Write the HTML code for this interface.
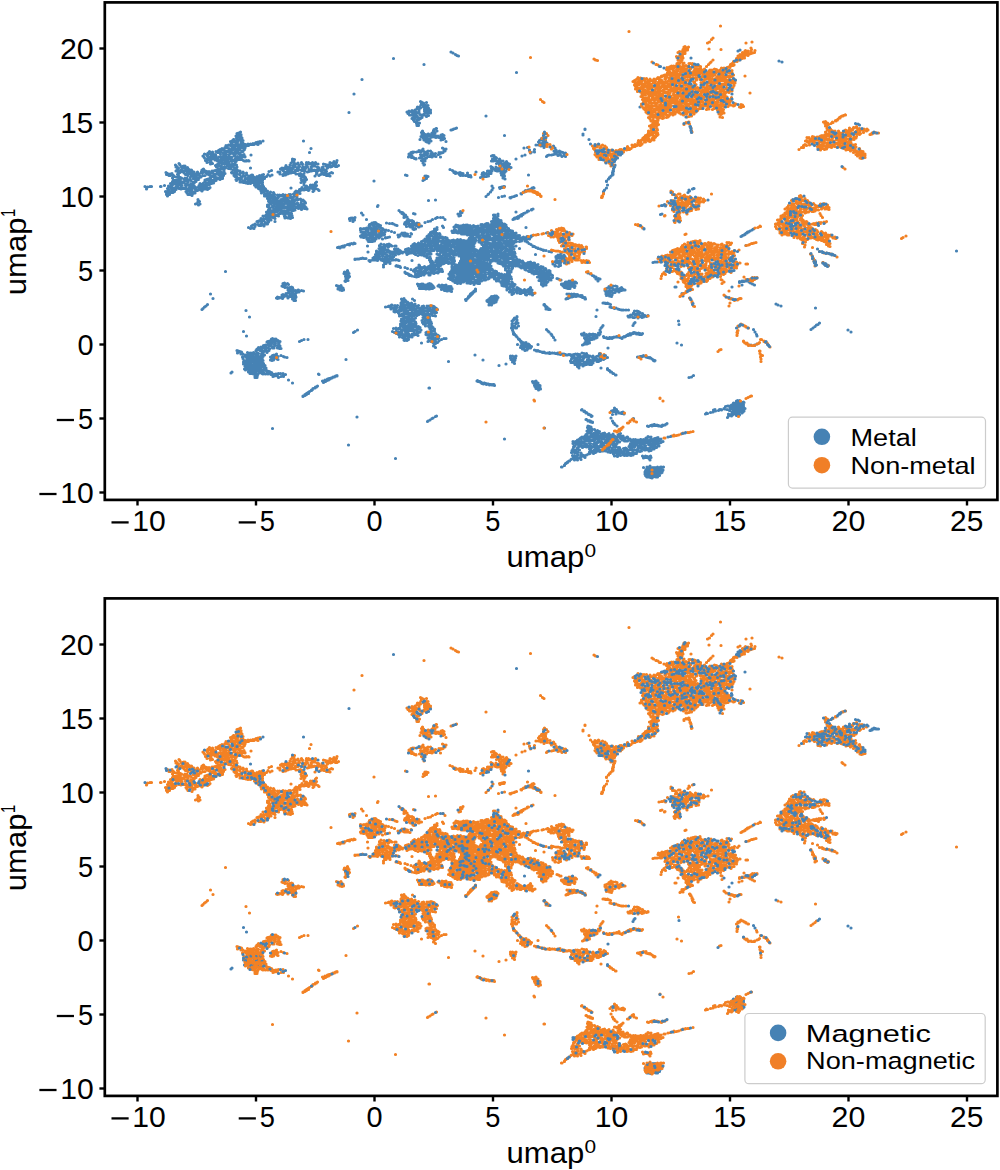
<!DOCTYPE html>
<html><head><meta charset="utf-8"><style>
html,body{margin:0;padding:0;background:#fff;}
svg{display:block;}
text{font-family:"Liberation Sans",sans-serif;fill:#000;}
</style></head><body>
<svg width="1000" height="1170" viewBox="0 0 1000 1170">
<rect width="1000" height="1170" fill="#fff"/>
<svg x="104.8" y="2.4" width="892.6" height="497.5" viewBox="104.8 2.4 892.6 497.5" overflow="hidden"><path d="M451 52h0m2 1h0m285-2h0m2-1h0m-346.5 8.5h0m62-4h0m1.5 1h0m1.5 .5h0m232.5 2h0m-267 6.5h0m355-3.5h0m3 1h0m-265.5 10.5h0m-154.5 7h0m-8 14.5h0m66.5 7.5h0m-3 5.5h0m2 0h0m1.5-2h0m.5-3h0m0 1.5h0m1.5 2.5h0m.5-3h0m0 4h0m1-2h0m.5 1.5h0m1.5-4h0m0 3h0m.5 2h0m1-2h0m212 1.5h0m-291 5.5h0m58-.5h0m1 1.5h0m.5-.5h0m.5-2h0m2.5 1h0m.5-1.5h0m0 2h0m2 0h0m.5-1.5h0m.5-1h0m0 3.5h0m1-2h0m1-3h0m1 4.5h0m1-3h0m0 2h0m0 1h0m1.5-5h0m4 1.5h0m0 1.5h0m.5 1.5h0m1-4h0m0 4h0m1-1.5h0m1-1h0m.5-2h0m0 4.5h0m.5-2h0m1.5-.5h0m0 2h0m0 1h0m-21 2h0m2 0h0m.5 3.5h0m.5-.5h0m1-3h0m1 1.5h0m0 2.5h0m1-4.5h0m1.5 1.5h0m0 1h0m.5 2.5h0m1-2h0m.5 2h0m1-5h0m.5 4h0m.5-1h0m1-2.5h0m0 2.5h0m.5-2h0m1.5-1.5h0m.5 1h0m2 1.5h0m1-1.5h0m1 .5h0m57.5 .5h0m-72.5 4h0m1 1.5h0m2 2h0m.5-2.5h0m0 2h0m0 2.5h0m1-5.5h0m.5 5.5h0m1-2.5h0m436 .5h0m2.5 .5h0m1.5 1h0m-437 6h0m11-.5h0m.5-1h0m0 1h0m2-2h0m.5 0h0m.5 2.5h0m14-1h0m.5 0h0m1.5-.5h0m.5-.5h0m2-.5h0m1-.5h0m128.5 1h0m0 0h0m0 .5h0m-349 6.5h0m.5 1.5h0m.5-4h0m.5 .5h0m.5 1h0m0 2h0m.5-4h0m0 2.5h0m2-3.5h0m.5 2.5h0m0 1.5h0m180 .5h0m.5-4h0m.5 1.5h0m0 3h0m1-2h0m.5-2h0m1 4.5h0m.5-1.5h0m.5-1.5h0m1.5 2.5h0m1-3h0m0 2h0m.5-2h0m2 1.5h0m.5-1h0m1-1.5h0m0 4h0m1-2.5h0m.5-2.5h0m1 5h0m.5-4h0m.5 2.5h0m.5 2h0m1-.5h0m1-1h0m1 1.5h0m1 0h0m.5-.5h0m.5-2h0m1.5-.5h0m.5 2h0m1-1h0m60.5 0h0m78.5-1.5h0m0 1h0m-352.5 6.5h0m2-1h0m0 1.5h0m1-2.5h0m.5 0h0m1 2h0m1-.5h0m0 2h0m1-4.5h0m.5 3.5h0m.5-2h0m1 0h0m1.5-2h0m.5 4h0m.5-1.5h0m.5-2.5h0m.5 4h0m.5-1.5h0m10 3h0m2.5-.5h0m.5-.5h0m1.5 0h0m0 0h0m.5-.5h0m2-.5h0m.5 1.5h0m2.5-2h0m40.5 0h0m116.5-1.5h0m3.5-1h0m.5 1.5h0m1.5 0h0m.5 1.5h0m.5-3.5h0m.5 3h0m0 1h0m2-3h0m0 2h0m0 2h0m1-4.5h0m1 2.5h0m10-1h0m.5-1.5h0m1.5 1h0m1.5-1h0m1.5 3h0m92.5 .5h0m1-1.5h0m0 2.5h0m1-3h0m1-1.5h0m1 1.5h0m0 3h0m1.5-.5h0m1.5-2h0m0 2h0m1.5 .5h0m42-3.5h0m0 0h0m-369 10h0m2-1h0m2 .5h0m1-1.5h0m1-2h0m1 2h0m1-2h0m.5-.5h0m.5 3.5h0m1.5-3h0m.5-1.5h0m1 4h0m.5-3.5h0m0 1.5h0m0 3.5h0m.5-1.5h0m.5 1.5h0m1-4.5h0m0 1h0m.5 2h0m1.5-3.5h0m0 1h0m1 3h0m1-4h0m0 2.5h0m1 1h0m0 1.5h0m.5-3h0m.5 1.5h0m.5-4h0m1 .5h0m0 1.5h0m1 2h0m.5-1.5h0m.5-2.5h0m.5 5.5h0m.5-1.5h0m.5-3.5h0m.5 1.5h0m2-2h0m.5 1.5h0m1.5-1h0m.5-.5h0m1.5 .5h0m2 0h0m3-.5h0m1 .5h0m53 4h0m112 .5h0m19.5-1h0m1.5 1h0m2 0h0m78-1h0m3.5-.5h0m0 0h0m7 2h0m1.5-4.5h0m2.5 0h0m2.5 0h0m0 1h0m2-2h0m.5 1.5h0m.5 2h0m.5-2.5h0m2 1h0m7 0h0m1.5 2h0m35.5-4h0m-386 10h0m2 .5h0m1 1h0m.5-2.5h0m1.5-1.5h0m.5 2h0m1 1.5h0m1.5-3h0m0 0h0m.5 1.5h0m2.5 1h0m.5-3h0m2 1h0m.5-2h0m1.5 2h0m.5 1.5h0m.5-2.5h0m1.5-1.5h0m1 3h0m0 1h0m.5-3.5h0m1 4h0m1-3.5h0m0 1.5h0m0 2h0m1-2.5h0m.5-1h0m1.5 .5h0m0 3h0m1.5-4h0m0 3h0m1-1.5h0m1 .5h0m.5 1h0m1 2h0m1-3.5h0m0 2.5h0m1-2h0m0 1h0m.5-3.5h0m.5 .5h0m1 1.5h0m.5 1.5h0m1.5 0h0m.5-1h0m.5 2.5h0m1-4h0m.5 4h0m.5-3.5h0m1 3h0m7 .5h0m58.5-2.5h0m99.5 1.5h0m2-1.5h0m0 1.5h0m1.5-2h0m0 1h0m1.5-1h0m2.5 0h0m2-.5h0m.5-1h0m1 1h0m.5 3h0m.5-2.5h0m.5-1.5h0m1.5 0h0m.5 4h0m.5-3h0m.5 4h0m.5-1.5h0m.5 1h0m.5-.5h0m.5-2.5h0m1 0h0m.5-1h0m0 2.5h0m2.5-2.5h0m.5 3.5h0m.5-1h0m0 2h0m.5-3h0m1.5 1.5h0m2-.5h0m3 1h0m.5-2h0m1 1h0m1-1h0m.5 .5h0m1.5-.5h0m1-2h0m1 .5h0m47.5 4.5h0m1.5 0h0m31-.5h0m4.5-4.5h0m0-.5h0m1 3h0m.5-.5h0m3-1h0m.5 .5h0m13 3.5h0m1.5-.5h0m2.5 0h0m2-.5h0m.5-3.5h0m1 2h0m0 1h0m1-4h0m.5 2.5h0m0 1.5h0m1.5 1.5h0m.5-4h0m1-.5h0m0 3h0m1-1.5h0m0 2.5h0m1-3h0m1.5 .5h0m1 2.5h0m0-1.5h0m0 2h0m1.5-2.5h0m-362.5 3h0m1 1h0m0 0h0m.5 1h0m1 2.5h0m2-4.5h0m0 2.5h0m.5 1.5h0m1-1.5h0m0 1h0m1.5-3h0m0 4h0m.5-1.5h0m0 2.5h0m1-2.5h0m.5-3h0m1 2.5h0m1-2.5h0m.5 1.5h0m0 2.5h0m1-4h0m.5 3.5h0m.5-1.5h0m.5 3h0m.5-2h0m1-2h0m0 4h0m1-.5h0m1-4h0m.5 2h0m0 3h0m1-5h0m.5 2h0m0 1h0m1.5-3h0m0 3.5h0m.5-1.5h0m.5-2h0m1 .5h0m.5 0h0m0 2.5h0m0 2h0m1.5-2.5h0m0 2.5h0m.5-5.5h0m0 2h0m1 .5h0m1-1.5h0m0 4h0m.5-.5h0m.5-3h0m0 2.5h0m0 1.5h0m2-1.5h0m1 1.5h0m.5-5h0m0 2h0m.5-.5h0m0 3.5h0m1-1.5h0m.5-3.5h0m0 1h0m0 2h0m2 0h0m.5-3.5h0m.5 2h0m1 1.5h0m.5-2h0m1-1h0m.5 4h0m1 .5h0m.5-4.5h0m0 .5h0m1.5 3.5h0m0 .5h0m2-.5h0m.5 .5h0m43.5-2h0m0 1h0m2-.5h0m39.5 2h0m3-1h0m71.5-3.5h0m.5-1h0m2 0h0m.5 1.5h0m.5-1.5h0m1.5 1.5h0m1 1h0m1.5 0h0m0 .5h0m3.5-1h0m1-.5h0m.5-1h0m.5 4h0m.5-4.5h0m0 2h0m1.5 3.5h0m.5-1.5h0m.5-1.5h0m.5 1h0m0 1.5h0m1.5-3h0m1.5-1.5h0m1.5 0h0m2.5 .5h0m2-1h0m2 .5h0m4.5 .5h0m51-1h0m0 5h0m1-2h0m1 2h0m1-3.5h0m0 1.5h0m.5-.5h0m.5 2h0m.5-3h0m.5 .5h0m.5 3h0m1 0h0m1.5-2h0m1 1.5h0m2.5 .5h0m3.5 .5h0m9.5-2.5h0m6-3h0m24.5 .5h0m15.5 0h0m3.5 0h0m-390 8.5h0m.5 2h0m1-.5h0m2-3h0m.5 .5h0m.5 1h0m1.5 1.5h0m0 .5h0m1.5 .5h0m.5-1.5h0m1 1.5h0m.5-1.5h0m2.5 1.5h0m19.5-5h0m3 0h0m.5 1.5h0m2-.5h0m3 2h0m1-.5h0m0 2h0m1.5-3h0m0 2h0m1-2.5h0m1.5 2.5h0m1 0h0m.5-2.5h0m1.5-1h0m0 1h0m1 3h0m.5-4h0m.5 1h0m1.5-.5h0m0 3h0m1-1h0m1-1.5h0m.5 4h0m.5-2h0m1.5-1h0m0 2.5h0m1-3h0m0 2h0m1.5-1h0m.5 2.5h0m.5-4h0m1.5 1.5h0m0 2.5h0m.5-.5h0m48 .5h0m1-2h0m.5 1.5h0m2 .5h0m1.5-2.5h0m.5 2.5h0m.5-4.5h0m1.5-1h0m.5 3.5h0m.5 2h0m.5-5.5h0m0 2.5h0m1 2h0m1-2.5h0m1.5 3.5h0m.5-4.5h0m.5 1.5h0m1 2h0m2-4h0m0 1.5h0m1 0h0m0 3.5h0m.5-1h0m2 1h0m1-3h0m.5-2h0m0 2.5h0m1 2h0m1-4.5h0m.5 1.5h0m1.5-.5h0m.5 3.5h0m1-1.5h0m0 1h0m.5-4h0m.5 1.5h0m1.5 2h0m1-3.5h0m0 1.5h0m1.5 3h0m1-3h0m.5 3.5h0m3.5 0h0m1-.5h0m.5-3h0m2 .5h0m.5 1.5h0m1.5-1h0m1 1.5h0m1-2h0m.5-2h0m.5 4.5h0m1.5-1.5h0m0 1h0m.5-3.5h0m.5 2.5h0m1-2.5h0m1.5 1.5h0m0 2h0m1-4h0m.5 4h0m1.5-1h0m84.5-2.5h0m1 2h0m.5-.5h0m66.5 2h0m1.5 1h0m3.5-.5h0m.5-3.5h0m1.5-.5h0m1.5 2h0m.5 2.5h0m.5-5h0m.5 0h0m0 4h0m1.5-2h0m1.5 0h0m0 2.5h0m.5-3.5h0m.5-.5h0m1 3h0m.5-1.5h0m.5 3h0m.5-4.5h0m1 2.5h0m1-1.5h0m0 3h0m1.5 .5h0m103-1h0m.5 .5h0m.5-1.5h0m0-.5h0m-449 7.5h0m.5 1h0m1 0h0m4.5 0h0m4-2.5h0m.5-.5h0m1-2.5h0m.5 1.5h0m0 4h0m.5-5.5h0m0 4h0m0 1h0m1.5-.5h0m.5-2h0m1-1h0m1 2h0m1.5-1h0m0 1h0m0 1.5h0m2-3.5h0m1 2h0m1-.5h0m.5-2h0m1 4.5h0m.5-3h0m.5-.5h0m0 3h0m1-3h0m1 1.5h0m0 1.5h0m1.5-1h0m3 1.5h0m.5-1.5h0m3.5 1h0m.5-1.5h0m.5-1.5h0m.5 3h0m1-4h0m0 2.5h0m1-1h0m1 .5h0m0 1.5h0m1.5-1h0m2 0h0m1.5 2h0m1.5-2.5h0m.5 1.5h0m1-1.5h0m1.5-.5h0m2-.5h0m0 2h0m1.5-3.5h0m0 3.5h0m.5 1h0m.5-2.5h0m1-2h0m.5 .5h0m0 3h0m2-3.5h0m.5 1h0m.5-1.5h0m0 2h0m0 1.5h0m1 2h0m.5-5.5h0m3 .5h0m2.5 .5h0m.5 3.5h0m.5 .5h0m.5-.5h0m.5-2.5h0m1 3.5h0m.5-3.5h0m1 1.5h0m.5 2h0m.5-4.5h0m0 3h0m.5 1.5h0m1-3h0m.5 .5h0m1.5 0h0m.5 2h0m2 0h0m.5-1h0m.5 1h0m3 0h0m4-5h0m18.5 3.5h0m2.5-1h0m6.5 1.5h0m2 0h0m.5-3h0m1.5-1h0m0 1.5h0m1.5 1.5h0m.5-2.5h0m.5 3.5h0m2-3h0m.5 3h0m.5-2h0m1 3.5h0m1-2h0m.5-1.5h0m1 3h0m.5-2.5h0m1-1.5h0m1 3h0m0 .5h0m2-2.5h0m0 1.5h0m2-3h0m.5 2h0m.5-1.5h0m2 4.5h0m.5-3.5h0m.5 .5h0m1.5-1.5h0m.5 1.5h0m.5 3h0m1-2.5h0m.5-2.5h0m2 3.5h0m1.5-2.5h0m0 2h0m1.5-1.5h0m1 1h0m.5-1.5h0m2 1h0m.5-.5h0m2 2h0m.5-2h0m0 3h0m1.5-2.5h0m1-1h0m2 2h0m.5-2h0m0 1.5h0m1.5 2.5h0m.5-4h0m.5 3h0m1.5-2.5h0m.5 1.5h0m1-3.5h0m2 5.5h0m2-1h0m1 .5h0m117.5-3.5h0m2.5 1h0m1 1h0m.5 1h0m1.5-.5h0m0 1.5h0m2.5-.5h0m2-.5h0m1 .5h0m2 .5h0m4.5-.5h0m8.5-1h0m6.5 1h0m1-.5h0m2.5 1h0m1.5-2.5h0m1.5 0h0m0 2h0m1 .5h0m.5-2.5h0m.5 1h0m0 1.5h0m.5-5h0m.5 2.5h0m2-2h0m1.5 1.5h0m.5-1.5h0m1 2h0m1-2.5h0m0 2.5h0m1-2h0m1.5 2h0m.5-1.5h0m0 3.5h0m1.5-2h0m1-1.5h0m0 3.5h0m1-1.5h0m.5 .5h0m1-4h0m0 3h0m1.5-2.5h0m1 0h0m104 4h0m.5-1.5h0m0 2h0m.5-4.5h0m0 1h0m0 1.5h0m-447 3.5h0m2.5 1h0m1-1.5h0m.5 1.5h0m2 2.5h0m1-2.5h0m0 1h0m1 0h0m2.5 .5h0m.5-2.5h0m1 .5h0m0 4.5h0m.5-2.5h0m1.5 .5h0m0 1.5h0m1-1h0m2.5 1h0m1-1h0m.5-3.5h0m.5-.5h0m.5 .5h0m0 4.5h0m.5-1h0m0 1.5h0m1-5.5h0m0 1.5h0m2.5 2h0m.5-1h0m.5-1h0m1 .5h0m1 2.5h0m.5-4h0m.5 2.5h0m.5-3h0m.5 5.5h0m.5-2h0m.5-2h0m1-.5h0m0 3h0m0 1.5h0m1 0h0m.5-5.5h0m0 4h0m1-2h0m1 1h0m2-1.5h0m2 0h0m1.5 4h0m1-5.5h0m.5 5h0m.5-4.5h0m.5-.5h0m1 1.5h0m0 2.5h0m.5 0h0m.5 1.5h0m1-3h0m.5 0h0m.5-1h0m1-1.5h0m.5 3.5h0m.5-1.5h0m.5 2.5h0m1-4.5h0m0 3.5h0m.5 1.5h0m1.5-4.5h0m0 3.5h0m1 1h0m.5-2.5h0m0 1h0m0 2h0m1-5.5h0m.5 1.5h0m1-1.5h0m0 3.5h0m0 1h0m1-3h0m10.5 0h0m1 1h0m1-1.5h0m0 4.5h0m.5-3.5h0m.5 1.5h0m1 .5h0m0 1h0m1.5-4.5h0m1 3.5h0m.5-1.5h0m.5 2h0m.5-1h0m1.5-2h0m1.5 1h0m0 3h0m.5-4h0m0 2.5h0m1 .5h0m.5-3.5h0m1.5 2.5h0m0 2h0m1-3.5h0m0 1h0m.5 2.5h0m.5-2h0m.5 1h0m.5-3.5h0m.5 .5h0m0 3.5h0m.5-1h0m0-3h0m0 2h0m.5 1.5h0m.5 .5h0m.5-2h0m.5 .5h0m.5 .5h0m0 1h0m2-2.5h0m.5 1.5h0m1 1h0m.5-2h0m.5-1.5h0m0 2h0m2-.5h0m.5-2h0m0 2h0m0 2h0m1.5-4.5h0m.5 2.5h0m.5 1.5h0m2-2h0m1.5-2h0m2 1.5h0m2-1h0m8-1h0m3 .5h0m0 1h0m1-.5h0m1.5-1h0m0 1h0m2-1h0m8.5 0h0m2.5 0h0m1 1.5h0m1.5 .5h0m0 2.5h0m2-4h0m0 2.5h0m1.5-.5h0m0 3h0m1-2h0m.5 1.5h0m.5 .5h0m8.5-3.5h0m1.5-2h0m2.5 1.5h0m1.5-1h0m1-.5h0m2.5 .5h0m2.5 1h0m.5-1.5h0m.5 1.5h0m2.5 .5h0m75.5-1h0m1.5 .5h0m17.5 4h0m.5-3.5h0m.5 2.5h0m1-2.5h0m0 2.5h0m1.5-2h0m31.5-2h0m1 1h0m2.5 0h0m2.5 0h0m1 0h0m2 1h0m.5-1h0m1.5 0h0m.5 1.5h0m9.5 .5h0m1.5-3h0m.5 2h0m1-2h0m1 2h0m2 0h0m.5-1h0m1.5-1.5h0m0 2h0m13-1h0m1 .5h0m.5 2.5h0m1-4h0m0 0h0m.5 2h0m.5 3h0m23.5-4h0m80 4h0m0 0h0m1-1.5h0m.5 0h0m1-1.5h0m0 0h0m1.5-1.5h0m0-.5h0m0 1h0m.5-.5h0m-448.5 11h0m6-2h0m1 2h0m1-4h0m.5 2h0m0 1h0m.5-4.5h0m.5 3.5h0m1.5-1.5h0m.5-2h0m0 4.5h0m.5-.5h0m.5 1.5h0m.5-3.5h0m.5 2h0m1.5-4h0m0 1h0m0 2h0m0 1.5h0m.5 0h0m.5-3.5h0m1.5 2h0m0 2.5h0m1.5-4h0m1-.5h0m.5 2.5h0m.5 1.5h0m.5-4.5h0m.5 3h0m1 1.5h0m.5-3h0m0 .5h0m1-2.5h0m0 5.5h0m1.5-5.5h0m.5 .5h0m0 3h0m1 .5h0m1 .5h0m.5-2.5h0m.5 3.5h0m.5-3h0m1-1.5h0m.5 .5h0m3 4h0m1-2h0m.5 2h0m1.5-1h0m.5-.5h0m1-1h0m1 2.5h0m.5-5.5h0m0 1h0m.5 1h0m.5 3h0m.5-1h0m1-1h0m1 1.5h0m.5-3.5h0m0 1.5h0m.5 2h0m1.5-2.5h0m.5 1.5h0m.5-2.5h0m1.5-1h0m0 3h0m1-2h0m1.5-.5h0m20.5 0h0m3.5-.5h0m0 2h0m2 0h0m1-1h0m.5 1.5h0m2-1h0m.5 1.5h0m1.5-1.5h0m.5 2h0m.5-1.5h0m2-1h0m0 2.5h0m1-2h0m.5 1h0m.5-2h0m1 1.5h0m.5 1h0m.5-1.5h0m0 1h0m0 2.5h0m.5-1.5h0m0 2h0m0-1h0m.5-3.5h0m0 2.5h0m1-3.5h0m0 3h0m.5-3h0m0 0h0m.5 1.5h0m0 3h0m1-2.5h0m.5 1h0m0-1h0m0 0h0m.5-2h0m0 5.5h0m.5-3h0m0 3h0m.5-5.5h0m0 2.5h0m.5-.5h0m0-2h0m1.5 .5h0m0 2h0m0 2h0m38.5-2h0m.5-2.5h0m2 .5h0m.5 4.5h0m0-2h0m1-1.5h0m5.5 3.5h0m2 0h0m1.5 0h0m1.5-2h0m1-1h0m0 3.5h0m57.5-4.5h0m49-.5h0m183.5 1h0m0-.5h0m1 4h0m0 0h0m-462.5 1.5h0m1.5 2.5h0m1-2h0m2.5-.5h0m1.5 0h0m9 0h0m.5 0h0m4.5 5h0m1 0h0m1-3h0m1-2.5h0m0 3.5h0m1-2.5h0m1 4.5h0m1-4h0m0 1.5h0m1-1.5h0m0 1h0m0 2.5h0m2-1.5h0m0 2h0m1-4h0m.5-.5h0m0 2.5h0m2.5-2h0m.5 1h0m2-1.5h0m0 2h0m1.5-1h0m.5 .5h0m1-.5h0m1 .5h0m1-1h0m0 4h0m.5-3h0m1.5 1h0m.5 1.5h0m1-3.5h0m.5 1.5h0m.5-2h0m0 4h0m1-5h0m0 3.5h0m1 2h0m.5-4h0m1.5-1h0m0 2h0m1 2.5h0m.5-3.5h0m0 1h0m1.5 2h0m1-3.5h0m.5 2.5h0m1.5-3h0m0 2.5h0m0 1h0m1.5 1h0m1-4h0m0 2.5h0m1.5-2.5h0m.5 2h0m1-1.5h0m.5 1h0m1-1h0m0 2h0m1.5-1h0m1-1h0m46-.5h0m1-1h0m0 1h0m.5-.5h0m1 2h0m1-2h0m0 2.5h0m1-1.5h0m.5-1h0m0 4.5h0m1.5-2.5h0m.5 2h0m.5-4h0m1.5 2h0m0 3h0m.5-2.5h0m2 2h0m23.5-3h0m5 3h0m1.5 .5h0m2-2h0m.5 1.5h0m1-2h0m.5 1h0m.5-2.5h0m1.5 1.5h0m.5 1h0m1.5-2.5h0m.5-1h0m0 3h0m.5-3.5h0m1 2h0m1 2.5h0m.5-1.5h0m0 1h0m.5-3h0m1.5-.5h0m.5 1.5h0m1 .5h0m.5-1h0m0 4h0m1-1h0m1-4h0m0 2h0m1 0h0m2 1h0m1 1h0m173-4.5h0m0 4h0m1-2h0m6.5-.5h0m.5 1h0m1.5-1.5h0m1 .5h0m1-1h0m1 0h0m21 4h0m1 .5h0m1.5-1h0m0 0h0m.5 0h0m0 .5h0m1.5-1h0m.5 0h0m1.5-1h0m0 .5h0m0-1h0m0 1h0m1.5-1.5h0m.5 .5h0m69.5 3.5h0m1-1.5h0m0 0h0m2-2h0m0 0h0m82.5 2h0m.5 1h0m3-2h0m1-.5h0m.5 0h0m-527.5 4.5h0m0 1.5h0m1 1.5h0m1.5-4h0m0 1.5h0m.5 1h0m1.5-2h0m2 0h0m14 .5h0m1 1.5h0m1.5 0h0m.5-1h0m2 2h0m.5-3h0m.5 1h0m.5-1.5h0m1.5 1h0m66.5 0h0m2-1h0m1 .5h0m0 2h0m0 1.5h0m1-1.5h0m1.5 0h0m0 2h0m.5-3h0m1 3h0m.5-3h0m0 1h0m1.5-2.5h0m.5 2.5h0m0 1.5h0m2-1h0m0 2h0m.5-4.5h0m.5 1h0m.5 1h0m0 2h0m1 1h0m2-2.5h0m1 2h0m1-2h0m.5 1h0m1.5-.5h0m0 .5h0m1.5-1.5h0m1 2h0m1.5-1.5h0m1 1h0m1-.5h0m0 1.5h0m1.5-2.5h0m1.5 0h0m0 2.5h0m1 0h0m2-3h0m.5 .5h0m0 2h0m1-4.5h0m1 .5h0m.5 4h0m.5-2h0m0 2.5h0m1.5-5h0m1.5 1.5h0m186 3h0m2-2h0m.5-.5h0m2-2h0m0 0h0m8 5.5h0m3.5-1h0m2.5-.5h0m5.5 1.5h0m2-.5h0m0 0h0m2-.5h0m1-.5h0m1.5-.5h0m4.5-2h0m.5 .5h0m2-2h0m.5 0h0m.5 0h0m0 0h0m79 0h0m84.5 .5h0m-491 11h0m1-4h0m0 2h0m1.5 0h0m68-3h0m1 2.5h0m.5-2.5h0m0 3.5h0m1-2.5h0m.5-1h0m.5 3h0m0 2h0m1-2.5h0m1 0h0m0 1.5h0m.5-3.5h0m.5 0h0m1 1.5h0m0 2.5h0m0 .5h0m.5-4.5h0m1.5 1h0m.5 2h0m.5-4h0m.5 5h0m1-2h0m1-.5h0m0 2h0m.5-3h0m1 3h0m.5-1.5h0m.5-2h0m2-1h0m0 2.5h0m0 1.5h0m1-4h0m.5 3.5h0m0 .5h0m1-3h0m1 1.5h0m0 2h0m2-4.5h0m0 4h0m1-1h0m.5-3h0m.5 1.5h0m0 4h0m.5 0h0m.5-1h0m.5-3h0m.5 1.5h0m2-2h0m0 4.5h0m.5-4.5h0m0 1h0m.5 3h0m1-3.5h0m2-.5h0m.5 4.5h0m0-.5h0m.5-2h0m1.5-1h0m1 1h0m1 1h0m.5 1h0m123-2.5h0m7-.5h0m75-2h0m-315 6h0m3 1h0m1.5-1h0m67.5 1h0m0 1.5h0m1.5-.5h0m0 2h0m1-4h0m0 4h0m2.5-2h0m.5 1.5h0m1-2.5h0m0 1h0m.5 3h0m1.5-2.5h0m0 2h0m1-2h0m.5-2.5h0m.5 3.5h0m0 2h0m.5-3.5h0m.5-2h0m1 4h0m.5-1.5h0m1-1.5h0m1.5 0h0m0 2h0m0 .5h0m1.5-3.5h0m.5 3h0m0 .5h0m1.5 .5h0m.5-1.5h0m.5-2.5h0m1 3.5h0m.5-3.5h0m.5 2.5h0m1-1h0m0 2.5h0m1-4h0m1.5 2.5h0m0 2h0m1 0h0m.5-3h0m.5-1.5h0m1 3.5h0m1-1h0m.5-2.5h0m.5 3h0m.5 1.5h0m1-3.5h0m.5 2h0m0 1h0m1.5-3.5h0m0 5h0m.5-1.5h0m.5-1h0m.5-3h0m1 1h0m.5 3.5h0m.5-2h0m1 1h0m1 1.5h0m70.5-2.5h0m.5-1h0m153.5 4h0m1.5-.5h0m-267.5 6.5h0m1-3.5h0m0 2.5h0m1 1h0m1-5.5h0m0 3.5h0m.5-1h0m1-2h0m0 2h0m1-2h0m0 3h0m1.5-1h0m0 1.5h0m1-4h0m1 2.5h0m0 2.5h0m1-4.5h0m0 1.5h0m1 3h0m0 .5h0m1-4h0m1 2.5h0m1.5-4h0m.5 2.5h0m0 1h0m1-3.5h0m0 2h0m1.5 1.5h0m.5 .5h0m.5-3.5h0m0 2h0m1.5 1.5h0m.5-3h0m0 .5h0m2-1.5h0m0 2h0m.5 2h0m.5-4h0m0 3h0m0 2.5h0m1-1.5h0m1-1.5h0m.5-2.5h0m0 3.5h0m.5 2h0m1.5-5h0m1.5-.5h0m66.5 3h0m1.5 2h0m36-4.5h0m1.5 1.5h0m1.5 1.5h0m.5-1h0m1 1h0m.5 2h0m1.5-.5h0m8-1.5h0m1.5 .5h0m43 0h0m1 .5h0m1.5-3h0m0 0h0m0 1.5h0m0 2.5h0m.5-2.5h0m1-.5h0m31.5 2.5h0m1.5 0h0m3-1h0m18-2h0m4 3.5h0m1.5-1h0m.5 0h0m1 0h0m0-.5h0m.5-.5h0m1.5-.5h0m2-1h0m.5-1h0m1 0h0m0 0h0m3-1h0m129 4.5h0m1.5-.5h0m-405 7.5h0m1.5-.5h0m1.5-.5h0m1-2h0m0 3h0m1.5-1h0m.5-4.5h0m0 4h0m.5 1h0m.5-2.5h0m2 .5h0m.5-1.5h0m1 2.5h0m.5-2h0m1.5-2h0m.5 2h0m.5 2h0m.5-3.5h0m0 3.5h0m1-3.5h0m0 .5h0m1 .5h0m1.5-1h0m.5 2h0m0 3h0m3.5-5.5h0m6 .5h0m.5 1.5h0m.5-1.5h0m1 1h0m1.5 .5h0m2-1.5h0m.5 2h0m2-1h0m57 1.5h0m0-.5h0m.5 2h0m1-2.5h0m1.5 0h0m.5 1.5h0m0 2h0m1-2.5h0m.5 1h0m.5-2.5h0m11.5 2h0m37.5-2h0m1-.5h0m2 0h0m0 3.5h0m1-1.5h0m1.5 1.5h0m.5 0h0m2 0h0m1.5 1h0m14.5 0h0m2.5-.5h0m2-1.5h0m3-1h0m1.5-1h0m.5 0h0m3 0h0m2.5 0h0m0 0h0m2 2h0m14-3.5h0m32.5 5.5h0m1.5 0h0m.5-3h0m0 2h0m.5-3.5h0m0 2.5h0m0 2h0m2-.5h0m.5-3.5h0m.5 1.5h0m0 2h0m1-5h0m0 3h0m.5 2.5h0m1.5-1h0m0 1h0m1-1h0m12-1h0m0 0h0m.5-.5h0m1-1h0m0 1h0m0 0h0m2-1.5h0m.5 .5h0m.5 .5h0m.5-2h0m.5 1h0m0 .5h0m0-.5h0m.5-.5h0m2-1h0m.5 0h0m-273 11.5h0m3-1.5h0m1.5-1h0m2-1h0m0 2.5h0m.5-2h0m2.5-2.5h0m0 2.5h0m.5 .5h0m.5 .5h0m1.5-1h0m.5 1h0m.5-2.5h0m2 1.5h0m.5 1.5h0m1.5-3.5h0m1 1.5h0m1-1.5h0m0 1.5h0m1-2h0m100.5 4h0m.5-1.5h0m0 3h0m.5-1h0m1-2.5h0m1-1h0m1 2.5h0m1-3h0m0 1.5h0m0 3.5h0m1-1h0m.5-4h0m1 1h0m.5 1.5h0m.5 .5h0m1-1h0m.5 2.5h0m1.5-1.5h0m0 2h0m6-4.5h0m3 .5h0m2.5 0h0m.5 0h0m1 .5h0m2 1h0m1.5 .5h0m7.5-1.5h0m.5-1.5h0m.5 2h0m1-2.5h0m0 4.5h0m1.5-3h0m1-1.5h0m0 4h0m.5-2h0m1 1h0m0 2h0m.5-2.5h0m0 .5h0m1.5-3h0m0 5h0m.5 .5h0m.5-5h0m0 2.5h0m2.5-1.5h0m0 2h0m1-2.5h0m.5 1.5h0m1 2.5h0m.5-3.5h0m0 1h0m0 2.5h0m2.5-1h0m3.5-3.5h0m12 5h0m5.5-1.5h0m1 1.5h0m10.5-.5h0m1-.5h0m0 .5h0m1-2h0m1.5 2h0m.5-1.5h0m1.5 1.5h0m.5-1h0m.5 0h0m.5 1h0m1.5-.5h0m0 1h0m0-2h0m0 1.5h0m1-2h0m.5 1.5h0m1 0h0m.5 1h0m0-2h0m.5-.5h0m.5 1h0m1-.5h0m0-.5h0m0 2.5h0m1-1h0m.5 .5h0m1-1.5h0m0 1.5h0m.5-1h0m.5 1.5h0m2.5-2h0m.5 .5h0m.5 1h0m1.5-.5h0m.5 1h0m1.5-1.5h0m3-1.5h0m0 .5h0m.5 1.5h0m0 1h0m1-3h0m1 3h0m1-2h0m1-1.5h0m0 3h0m.5-1h0m.5-2.5h0m1 2.5h0m.5-2.5h0m1 2h0m0 1.5h0m1.5 .5h0m.5-3h0m1-1h0m0 2.5h0m1-.5h0m1-2h0m.5 2h0m1-1.5h0m.5 3h0m.5-4h0m.5 3h0m.5-1.5h0m1 3h0m.5-3.5h0m.5 2h0m1.5-2h0m0 2h0m.5-3.5h0m1.5 1.5h0m0 1.5h0m1 .5h0m.5-2h0m1.5 1h0m.5 2h0m19.5 .5h0m-275.5 1h0m1.5-.5h0m2 .5h0m106.5 0h0m0 1.5h0m.5 2h0m1-3h0m1 3h0m1-3.5h0m.5 .5h0m0 4h0m1-1h0m0 1.5h0m1-5.5h0m0 2.5h0m1-2h0m.5 1.5h0m0 1h0m.5 1.5h0m2.5-3h0m.5 2.5h0m.5-3.5h0m.5 2h0m1 2h0m1-2.5h0m0 2h0m.5 1.5h0m.5-5.5h0m.5 1h0m0 4.5h0m.5-2h0m.5-3h0m1 1.5h0m1.5 0h0m0 2h0m.5 1.5h0m1.5-1h0m.5-2h0m0 1.5h0m.5-3.5h0m0 5h0m1-4h0m1.5 2.5h0m1-2h0m2.5 .5h0m3 1h0m3 1h0m7.5 .5h0m2 0h0m1 0h0m.5 .5h0m5.5 0h0m2-4.5h0m1 .5h0m1.5-1h0m0 .5h0m15 3.5h0m1-.5h0m1 1h0m.5-1.5h0m.5 1h0m1-3.5h0m1 2.5h0m.5-2h0m.5 4h0m.5-4h0m.5 4h0m2 0h0m12.5-2.5h0m.5 1.5h0m1.5 0h0m.5-3h0m0 1h0m1-.5h0m1 1.5h0m0 1h0m.5-1h0m1 1.5h0m1-3.5h0m0 1.5h0m0-1.5h0m.5 0h0m0-1.5h0m0 4h0m1 1h0m0-2.5h0m.5 0h0m.5-2h0m0 3.5h0m0 1.5h0m.5-4h0m0 2.5h0m.5-2.5h0m0 3.5h0m0 .5h0m.5-3.5h0m1-.5h0m0 3h0m0-3.5h0m.5 2h0m1-.5h0m0-2h0m.5 .5h0m0 3.5h0m0-2.5h0m0 2h0m.5-2.5h0m1 2h0m0 .5h0m0-2h0m.5-2h0m0 5.5h0m.5-4h0m0 1.5h0m.5-1h0m0 3.5h0m.5-4.5h0m0 2.5h0m.5 .5h0m.5-3h0m0 3.5h0m.5-1h0m.5-1.5h0m.5 2.5h0m.5-4.5h0m1 2.5h0m.5 .5h0m0 2h0m1.5-3.5h0m.5 2h0m0 1h0m.5-2h0m0 1h0m1.5-3h0m.5 1h0m0 3.5h0m.5-2.5h0m1-2.5h0m1 3h0m.5-1.5h0m0 3h0m1.5-2h0m0 2.5h0m.5-3h0m.5 3h0m.5-3h0m0 1.5h0m2.5-3h0m0 .5h0m0 2.5h0m0 1.5h0m.5-1h0m0 1.5h0m1.5-4h0m.5 2h0m1-2.5h0m0 3.5h0m1.5-4h0m0 3h0m1-2.5h0m0 3.5h0m1-4.5h0m.5 1.5h0m0 1.5h0m0 2.5h0m1.5-3h0m0 1h0m0 1h0m1-1h0m1 1.5h0m.5-4h0m1 1h0m0 .5h0m0 3h0m1-5h0m.5 2.5h0m1-2.5h0m0 1.5h0m0 3.5h0m1-2.5h0m.5-3h0m0 2.5h0m1-2h0m.5 1h0m.5 2h0m0 2h0m1.5-.5h0m.5-3h0m0 2h0m.5-3h0m0 2h0m.5-2.5h0m2 2h0m0 2.5h0m.5-2h0m1 2h0m.5-2h0m1 2h0m2.5 0h0m30.5 0h0m1-.5h0m199 .5h0m.5 0h0m.5-1h0m.5 0h0m.5 0h0m1.5-1h0m2-1h0m1.5-1h0m-393 7h0m.5 1h0m1-2h0m1-1h0m.5 1.5h0m0 2h0m.5 0h0m1-2h0m1.5 2h0m.5 1.5h0m.5-4h0m.5-.5h0m.5 4h0m.5 .5h0m.5-5h0m.5 2.5h0m0 1.5h0m1.5-3.5h0m0 1.5h0m.5 1h0m0 2.5h0m1-4h0m1 2.5h0m2-3h0m0 2h0m0 2h0m1.5-2.5h0m1-2h0m0 1.5h0m.5 2h0m1-1h0m1-1h0m1.5 3h0m1-4h0m1-.5h0m1 3h0m0 .5h0m2-.5h0m2-.5h0m8.5-2h0m.5 2h0m1.5-1h0m.5-1.5h0m1-.5h0m2 1.5h0m1-.5h0m0 1h0m2 0h0m1-2h0m.5 2h0m2 .5h0m1.5-2.5h0m13.5 5h0m1 0h0m1-2.5h0m.5-.5h0m0 3.5h0m.5-.5h0m1-4.5h0m.5 2.5h0m.5 2h0m.5-4.5h0m1 1h0m0 .5h0m1.5 3h0m.5-2h0m.5 2h0m.5-4.5h0m.5 2.5h0m.5-1.5h0m0 3h0m1.5-3.5h0m0 3.5h0m.5-2h0m1.5 2h0m.5-1.5h0m.5-2.5h0m.5 2h0m.5 1.5h0m1.5-1h0m0 1.5h0m2.5-1h0m.5 0h0m1.5 .5h0m.5 1.5h0m10 0h0m3 0h0m1-5.5h0m2 0h0m2 0h0m2 1h0m1.5 4h0m.5-4.5h0m0 3.5h0m.5 1.5h0m.5-5h0m0 2.5h0m0 2h0m1 0h0m.5-2h0m.5-1.5h0m.5 4h0m.5-5h0m0 3h0m.5 1.5h0m1-4.5h0m.5 4.5h0m.5-1.5h0m1-3.5h0m0 1.5h0m1.5 2h0m.5 .5h0m.5-2.5h0m.5 1.5h0m0 2.5h0m1.5 0h0m.5-5h0m0 3h0m1-2.5h0m1 .5h0m0 1h0m0 2h0m2-3h0m0 2h0m0 2h0m2-2.5h0m0 2h0m1-3.5h0m.5 2h0m0 1.5h0m.5-4.5h0m0 2.5h0m.5 1.5h0m2-4h0m0 4h0m.5-.5h0m.5-3h0m1 2h0m.5 2.5h0m1-4h0m.5 2h0m.5 1h0m.5-1h0m1-2h0m0 3.5h0m1.5-3h0m.5 1.5h0m0 1.5h0m.5-2h0m.5-2.5h0m1-.5h0m0 5h0m.5-4h0m.5 3.5h0m.5-1h0m1.5-1.5h0m0 1h0m1-2.5h0m0 4h0m.5-.5h0m1-.5h0m.5-3.5h0m0 2.5h0m.5-2h0m1 5h0m1-2.5h0m.5-1.5h0m0 3.5h0m1-3h0m.5 1h0m.5-2.5h0m0 3.5h0m1.5-1h0m.5 1.5h0m.5-3h0m.5 3h0m.5-1.5h0m1-1.5h0m0 1h0m.5 2h0m1-3h0m1 2.5h0m1 1h0m.5-1h0m.5-.5h0m0 1.5h0m1-2h0m0 2h0m.5-.5h0m2-1h0m.5 2h0m.5-3h0m.5 0h0m1.5 2h0m.5-.5h0m0 1h0m1.5-2h0m0-1h0m1.5-.5h0m5.5-1h0m203 2h0m1-.5h0m.5-.5h0m1.5-.5h0m1-1h0m0 .5h0m-400 11h0m0 0h0m2.5-1h0m2-.5h0m0 1h0m2-1.5h0m1.5 .5h0m1-1h0m1 .5h0m13-3h0m.5 1h0m2 0h0m2 0h0m1.5-1h0m.5 .5h0m5 4.5h0m1.5-1.5h0m3 .5h0m1 1h0m2-1h0m2-.5h0m1.5 1h0m22.5-.5h0m0 1h0m1 0h0m.5-2h0m2 1h0m1.5 .5h0m.5-2h0m.5 1.5h0m1 0h0m1.5-3h0m0 1.5h0m1.5 2h0m.5-4.5h0m0 4h0m1-3h0m0 4h0m.5-3.5h0m0 2h0m.5-3h0m2 3.5h0m.5-2h0m.5-1.5h0m.5 3.5h0m.5-2.5h0m1-1h0m0 4.5h0m.5-1.5h0m1-2.5h0m.5-.5h0m1 1h0m0 3.5h0m.5-2h0m.5-2h0m0 2.5h0m1-3h0m1 3h0m.5-4h0m0 2h0m1-2h0m0 2.5h0m0 2h0m.5 1h0m1-4.5h0m1 4.5h0m.5-4h0m.5 1h0m0 2h0m.5-3.5h0m0 2h0m1.5-.5h0m.5-2h0m.5 4.5h0m.5-1.5h0m.5-3h0m.5 5h0m.5-3.5h0m.5 2.5h0m1-1.5h0m0 .5h0m1-3h0m0 5h0m.5-2h0m1-2h0m1-1h0m0 5h0m.5-4h0m0 3h0m1-2h0m.5-2.5h0m.5 3.5h0m1 0h0m.5-2h0m.5-1h0m.5 3.5h0m1.5-2h0m.5 .5h0m0 3h0m.5-5h0m0 2h0m.5 1h0m0 1.5h0m.5-4h0m0 3h0m.5-3.5h0m0 2h0m0 2h0m0-2h0m.5 3h0m.5-4.5h0m0 3h0m.5 1.5h0m.5-1h0m.5-4h0m0 2.5h0m.5-1.5h0m.5-1h0m0 0h0m0 1.5h0m.5-1h0m.5 3.5h0m.5-2h0m0 .5h0m.5-2h0m0 1h0m0 2h0m.5 1h0m0-2.5h0m1 2h0m.5 1h0m0-5h0m0 2h0m0 2.5h0m.5-2h0m.5-.5h0m0 1.5h0m.5-3h0m.5 2.5h0m0-2.5h0m1 1.5h0m0-.5h0m1 2.5h0m.5-3.5h0m.5 2h0m1 1h0m.5-2.5h0m.5 1h0m0 0h0m1-2h0m3-.5h0m0 2h0m.5-2h0m1.5 3h0m1-2h0m0 3.5h0m1-4h0m.5 1.5h0m1.5 1h0m0 1.5h0m1-3h0m1 0h0m0 .5h0m0 2h0m0 1.5h0m1.5-2.5h0m0 1h0m1-4h0m0 4h0m1-.5h0m0 2h0m1.5-5.5h0m.5 4.5h0m.5-3.5h0m0 1.5h0m.5 2h0m1-2.5h0m1-2h0m0 3h0m0 .5h0m1.5-3.5h0m.5 3h0m.5 1h0m1-2.5h0m.5 3.5h0m.5-3h0m.5 2h0m.5-4h0m0 3h0m1.5 2h0m.5-4.5h0m1 2h0m.5-1.5h0m1 3h0m.5-1.5h0m.5-1.5h0m.5 3.5h0m0 1h0m.5-3h0m.5-1.5h0m1 4h0m.5-2.5h0m.5-2h0m0 4h0m.5-2h0m1-2h0m0 4h0m1-2h0m.5-1h0m.5 2h0m1.5-2.5h0m.5 1h0m1-.5h0m3 0h0m.5-.5h0m1.5 0h0m3.5 0h0m.5 0h0m1.5 1h0m.5 0h0m1.5 1.5h0m2 1h0m215 1h0m-408.5 2h0m1.5-.5h0m1 1h0m1.5-1.5h0m1 .5h0m.5-1h0m1 1h0m23.5-1h0m9 5h0m2.5-2.5h0m0 3h0m.5-5.5h0m1 4.5h0m1-3.5h0m0 1h0m1-1h0m0 1h0m0 2.5h0m2-3.5h0m0 1h0m0 2h0m1-.5h0m2-3h0m.5 3h0m0 1.5h0m1-4.5h0m1 5h0m2-5.5h0m2.5 3h0m0 2.5h0m.5-5.5h0m1 0h0m.5 3h0m0 1.5h0m1.5-1.5h0m.5 1.5h0m1.5 0h0m.5 .5h0m5-1.5h0m0 2h0m.5 0h0m1-2.5h0m1.5-.5h0m0 2.5h0m.5-1h0m1.5 1.5h0m.5-3h0m.5-2.5h0m.5 1.5h0m0 1.5h0m1 1.5h0m.5-.5h0m.5-2h0m1 2h0m0 1.5h0m.5-4h0m.5 3h0m.5-4h0m.5 .5h0m.5 2.5h0m1 .5h0m0 .5h0m1-4h0m0 1h0m1 2h0m0 1.5h0m1-3h0m.5-2h0m0 5h0m1-3h0m0 1.5h0m1.5 2h0m.5-3h0m.5 1h0m.5-1.5h0m.5-2h0m0 1h0m1 2h0m0 1.5h0m1.5-4.5h0m1 1h0m0 4h0m.5-3h0m0 1h0m.5-.5h0m.5 2.5h0m.5-4h0m1.5 2.5h0m.5 1h0m1-2.5h0m0 1h0m.5-3h0m.5 2.5h0m.5-2.5h0m1 4h0m0 1h0m1-3h0m0 2h0m.5 .5h0m1 0h0m.5-3.5h0m0 2.5h0m1.5-3.5h0m0 5.5h0m.5-3.5h0m.5-1h0m0 2h0m1.5 1h0m.5-2.5h0m0 3h0m1-1.5h0m.5 2.5h0m1-5h0m.5 1h0m.5 .5h0m0 2h0m0 1h0m2-2h0m1-2h0m0 3h0m1.5-3h0m.5-1h0m0 5h0m1.5-4h0m0 1.5h0m.5-2h0m0 5h0m.5-3.5h0m0 2h0m1 1h0m.5-5h0m1 2h0m0 1.5h0m0-2h0m.5 2h0m0 .5h0m.5 1.5h0m1-4.5h0m0 4.5h0m0-5h0m.5 2h0m0 1.5h0m1-2h0m0 1.5h0m.5-3.5h0m0 4.5h0m.5-1.5h0m0 2.5h0m.5-4h0m0 2.5h0m.5-1.5h0m.5-2.5h0m.5 .5h0m0 2h0m0 1h0m0 1.5h0m.5-3h0m0 2.5h0m1 0h0m.5-.5h0m0-2.5h0m.5 3.5h0m0-5h0m0 3.5h0m.5-3.5h0m0 1.5h0m.5 0h0m0 2h0m0 1.5h0m1-4.5h0m0 2.5h0m.5-3h0m.5 2h0m0 1h0m.5-1.5h0m0 2.5h0m.5-2.5h0m.5-1h0m0 4.5h0m1-1h0m.5-1h0m.5-2.5h0m1.5 3h0m1 .5h0m0 1h0m2 .5h0m1-1h0m1-1h0m.5-1h0m.5 3h0m1-3h0m.5 2h0m.5-4h0m1.5-.5h0m0 3.5h0m.5-1h0m1.5-.5h0m0 2.5h0m.5-1h0m1-2.5h0m.5 .5h0m0 4h0m1 0h0m.5-1.5h0m.5-2h0m.5 2h0m.5-3h0m0 2h0m2 2h0m.5-4.5h0m0 4.5h0m.5-3h0m.5 1.5h0m.5-3.5h0m.5 2.5h0m.5 1.5h0m1-3.5h0m0 2h0m.5 2h0m.5-3h0m.5-1.5h0m1.5 3.5h0m0 2h0m.5-4.5h0m.5 1h0m.5-1.5h0m0 3h0m1.5-1.5h0m1.5-2h0m0 4.5h0m.5-3h0m.5 1h0m0 1h0m1.5 1.5h0m.5-1h0m.5-4h0m.5 1.5h0m1-1h0m.5 1.5h0m0 2.5h0m1-.5h0m1-2.5h0m.5-1h0m.5 2.5h0m2-3h0m3.5 2.5h0m13.5-2.5h0m0 .5h0m1.5 0h0m1.5 1h0m2 .5h0m0 .5h0m2.5 .5h0m1 .5h0m2 .5h0m0 .5h0m2.5 0h0m3 1h0m268.5-2.5h0m139 2h0m-588.5 1h0m6.5 5h0m1-2.5h0m0 2h0m1-4.5h0m1 2.5h0m.5 2.5h0m1-5h0m.5 4.5h0m.5-2.5h0m.5-1h0m1 1h0m1 2h0m.5-3h0m0 1h0m1.5-1.5h0m.5 1.5h0m0 3h0m2-5h0m0 3h0m0 1.5h0m0-.5h0m1.5-4h0m1 4h0m.5-3h0m0 .5h0m1.5-1.5h0m0 4.5h0m1-2.5h0m.5-2h0m.5 5h0m1-2.5h0m1 .5h0m.5-2.5h0m2-.5h0m.5 2h0m1-.5h0m1-1h0m2 .5h0m.5-1h0m3 .5h0m1 2h0m1.5-1h0m2.5-.5h0m2-.5h0m1 1h0m1.5 0h0m0 1h0m2.5-2h0m0 3h0m.5-3h0m1.5 2h0m.5-1h0m1 1.5h0m1.5-1.5h0m.5 1.5h0m1-2h0m0 3h0m.5-4h0m.5 3.5h0m1.5 .5h0m0 1.5h0m.5-4h0m0 4h0m.5-3h0m.5-1h0m1.5 3.5h0m.5-3h0m.5 0h0m6 0h0m1 .5h0m1 3h0m.5-3h0m1-1.5h0m.5-.5h0m0 3.5h0m.5 1.5h0m.5-.5h0m1.5-4.5h0m0 2h0m.5 3h0m1.5-2h0m.5-2.5h0m0 4h0m1-3h0m0 1.5h0m1.5-1.5h0m0 2h0m1-1.5h0m.5 3h0m.5-5.5h0m0 .5h0m0 2h0m.5-2.5h0m0 5h0m1-4h0m1.5 2h0m.5 2.5h0m.5-4.5h0m.5 1.5h0m1 .5h0m.5-1h0m2-1h0m.5 1.5h0m0 1.5h0m1-3h0m0 2h0m0-2.5h0m0 .5h0m.5 3h0m.5 0h0m.5-3h0m0-1h0m.5 4h0m0-3h0m0 4.5h0m.5-2h0m.5-3.5h0m0 3h0m0 1h0m.5-3.5h0m.5 1h0m.5 4h0m0-5.5h0m.5 1.5h0m0 2.5h0m1-2h0m0 .5h0m.5 .5h0m.5 2h0m0-4.5h0m0 4.5h0m.5-3.5h0m0 1h0m0-1h0m1.5 2h0m0 1.5h0m.5-5h0m0 1.5h0m0 1.5h0m.5-1h0m0 3h0m.5 .5h0m.5-3.5h0m0 1h0m0-2.5h0m0 .5h0m0 3.5h0m2-.5h0m.5-2h0m0 2.5h0m.5-4.5h0m0 4h0m.5-2.5h0m1 1.5h0m1-1h0m0 2.5h0m1 .5h0m.5-1h0m.5-2.5h0m.5 3.5h0m.5-5h0m.5 3h0m.5-2h0m0 3.5h0m1.5-1h0m.5 2h0m.5-4.5h0m.5-1h0m0 3.5h0m1 0h0m0 2h0m.5-5h0m0 .5h0m1 0h0m0 4.5h0m.5-1.5h0m.5-4h0m.5 2h0m0 3h0m1-1h0m.5-2h0m.5 3h0m1.5-2h0m1-3h0m0 2h0m.5 3h0m1-3h0m0 2h0m1 1h0m.5-1.5h0m.5-2.5h0m1 1h0m0 1.5h0m0 1h0m.5-4.5h0m.5 4h0m.5 1.5h0m1-5.5h0m.5 1.5h0m.5-1h0m0 3.5h0m.5-2h0m0 3.5h0m1.5-3.5h0m.5 1.5h0m1-3h0m0 4.5h0m.5-2.5h0m.5-1h0m.5-1.5h0m1 1.5h0m0 2.5h0m1-1h0m.5 2h0m.5-3h0m0 3h0m1.5-2h0m.5-3h0m.5 1h0m.5-1h0m1 3.5h0m.5-3.5h0m0 1.5h0m1 .5h0m0 1h0m1-3h0m0 5h0m.5-3.5h0m0 2.5h0m1 1h0m19.5-2.5h0m16-2.5h0m4.5 4.5h0m0 1h0m2-2.5h0m1 1.5h0m.5-.5h0m1-1.5h0m.5-1h0m1 3h0m.5 1h0m1.5-2.5h0m1 1.5h0m-210 3h0m0-.5h0m2 0h0m1 0h0m1 0h0m1.5-.5h0m1 0h0m1-.5h0m1.5 .5h0m2 0h0m3 2h0m1 0h0m0 1h0m2.5-1.5h0m.5-2h0m1.5 2h0m.5-1h0m.5 1h0m2-1h0m0 1.5h0m1.5-2h0m1 0h0m1 1.5h0m1-1.5h0m.5 2h0m1.5 .5h0m.5-2h0m0 3.5h0m1.5 1h0m.5-4h0m0 2h0m.5-3.5h0m0 2h0m1 2h0m1-3h0m0 1h0m1-1.5h0m0 3h0m0 2h0m2.5-5.5h0m0 2h0m.5 0h0m0 0h0m2.5 0h0m.5-.5h0m2 .5h0m1 .5h0m13 0h0m17.5-.5h0m.5-1.5h0m.5 0h0m0 3.5h0m1.5-1h0m.5 2h0m1-.5h0m2.5-2h0m.5 2h0m.5-4.5h0m1 1h0m0 3.5h0m.5-1.5h0m1.5 0h0m.5 1h0m.5-3h0m0 3.5h0m.5-2h0m.5-1h0m.5 .5h0m1-2h0m0 4h0m.5 1.5h0m.5-3.5h0m1-1.5h0m0 3.5h0m1 .5h0m.5-1.5h0m.5-2h0m1 2.5h0m0 0h0m0 2h0m1.5-5h0m0 4.5h0m1-3h0m.5-1.5h0m.5 4h0m.5-1.5h0m0 2.5h0m1.5-4h0m0 2.5h0m.5-1h0m5 2h0m1-2h0m.5 1.5h0m.5-4.5h0m0 0h0m0 1h0m.5 1.5h0m0 .5h0m.5 2h0m0 .5h0m0-1h0m1-4.5h0m0 2h0m0 3h0m0-4h0m1 2.5h0m.5-2.5h0m0 3.5h0m0-4.5h0m0 3.5h0m0 1h0m.5-2.5h0m0-.5h0m1-.5h0m0 4h0m.5-3h0m0 0h0m0 1.5h0m.5-3.5h0m.5 5.5h0m.5-4.5h0m0 1h0m0 3h0m0 .5h0m.5-4h0m0 2h0m.5 .5h0m1 .5h0m.5-4h0m0 2.5h0m0 2h0m0-5h0m0 2h0m.5 3.5h0m.5-2.5h0m.5 .5h0m.5-2.5h0m0 3h0m1-.5h0m1-2h0m0 3h0m1-1h0m.5-2h0m.5 3.5h0m2-4.5h0m0 2.5h0m.5 2h0m.5-3.5h0m.5 2h0m.5 1h0m1-3.5h0m.5 3h0m0 1h0m1.5-4h0m0 2.5h0m.5 1.5h0m.5-2.5h0m.5-1.5h0m1.5 .5h0m0 3.5h0m.5-2.5h0m.5 3h0m1-4h0m1.5 2h0m0 1h0m.5-1h0m.5-1.5h0m1 1h0m1-2.5h0m1.5 .5h0m.5 2h0m.5-2.5h0m1.5 1.5h0m0 1.5h0m.5 1.5h0m1.5-2.5h0m0 3h0m.5-3.5h0m1 1.5h0m.5-3.5h0m.5 4.5h0m1-4h0m0 3h0m1-2.5h0m0 2.5h0m0 1.5h0m.5-5h0m.5 5h0m.5-4h0m0 2.5h0m1.5 1h0m.5-1h0m.5-2h0m1-1h0m0 3.5h0m.5 0h0m1.5-4h0m0 .5h0m.5 5h0m.5-1.5h0m.5-4h0m0 1h0m.5 4.5h0m.5-2h0m1-1.5h0m0 3h0m.5-1h0m.5 1h0m1.5-4h0m0 2.5h0m1.5 0h0m0 2h0m1-3.5h0m0 2.5h0m1-1.5h0m1.5 1.5h0m.5-1.5h0m1 1.5h0m2.5 1h0m2-1h0m1 0h0m1.5-.5h0m1 1.5h0m2-.5h0m1 0h0m18.5 0h0m2.5-1.5h0m.5-1h0m.5 2h0m1-4.5h0m.5 3h0m0 2h0m1.5-2h0m0 1.5h0m.5-4.5h0m.5 5.5h0m.5-1.5h0m1-2h0m2 .5h0m1-2.5h0m.5 0h0m87.5 4.5h0m2-.5h0m2 0h0m.5 0h0m3 0h0m154.5-1.5h0m0 2h0m.5-1h0m0 1h0m7.5 0h0m0 .5h0m2.5 .5h0m-442 1.5h0m0 2h0m12.5-1h0m.5-.5h0m1.5 1h0m.5-.5h0m1.5 .5h0m.5 1h0m4.5 0h0m2.5 1h0m3.5 1h0m3.5 0h0m1.5-1h0m.5-.5h0m2-.5h0m.5-2.5h0m0 1.5h0m.5-1h0m1 4h0m1-2h0m0 1.5h0m1.5-1.5h0m1.5-1h0m0 1.5h0m1.5-.5h0m1.5 .5h0m0 1.5h0m1-3h0m1 1.5h0m.5 1.5h0m.5-4h0m.5-1h0m0 2.5h0m1 .5h0m.5-3h0m1 1h0m.5 3h0m.5-3.5h0m0 1h0m.5 2h0m.5 1.5h0m1.5-5h0m0 1h0m.5 3h0m.5-3.5h0m0 4h0m.5-2.5h0m0 2.5h0m.5-1h0m.5-4h0m1 1.5h0m1 3.5h0m1-5h0m9.5 .5h0m0 2h0m0 1h0m0 2h0m2-2.5h0m1-2.5h0m0 2h0m0 1h0m1.5-2.5h0m0 2h0m0 1h0m1 .5h0m1-2.5h0m.5-1.5h0m0 4h0m0 .5h0m.5-4h0m.5 1h0m0 3.5h0m0-3.5h0m0 3.5h0m.5-5h0m.5 1h0m0 4h0m0-.5h0m.5-1h0m0-3.5h0m1 2.5h0m.5-.5h0m0-1.5h0m.5 3h0m.5-2h0m0 3.5h0m0-1h0m.5-4h0m0 4h0m.5-4h0m.5 0h0m0 4h0m0-2h0m.5-1h0m.5 2.5h0m0-2.5h0m0 1.5h0m0 1h0m.5 1.5h0m1-2.5h0m.5 1.5h0m.5-4h0m0 0h0m0 1.5h0m0 3h0m.5 .5h0m0-2h0m.5-1h0m.5 2.5h0m.5-1.5h0m0-2h0m1 .5h0m0 3h0m.5-4.5h0m1 2.5h0m.5 1.5h0m.5-3h0m1 1.5h0m0 1.5h0m1.5-4.5h0m0 2.5h0m1.5 1.5h0m.5-2.5h0m0 3.5h0m.5-2h0m1-1.5h0m1 1h0m0 2h0m.5-4h0m1 2h0m.5 2h0m1-4h0m1 .5h0m0 2.5h0m0 1.5h0m1.5-4.5h0m0 2h0m0 2.5h0m0 .5h0m1.5-2.5h0m.5 1h0m.5-3.5h0m1 4h0m.5-2.5h0m1 3h0m9.5-5h0m1.5 1h0m.5 1h0m1 0h0m.5-1.5h0m.5 .5h0m0 3.5h0m1.5-2.5h0m1.5 2h0m.5-4h0m0 2.5h0m0 2h0m.5-3h0m1.5 .5h0m.5-1h0m.5 4h0m.5-2h0m0 1h0m1.5-3.5h0m1 1h0m.5 .5h0m1.5-1h0m1 1h0m1.5-1h0m.5 2h0m1.5 1h0m.5-2.5h0m.5 1h0m.5-2.5h0m1 2h0m.5 2.5h0m.5-3h0m0 1h0m0 3h0m1-4h0m.5 2.5h0m1-1.5h0m.5-2.5h0m.5 3.5h0m.5-.5h0m.5 1.5h0m.5-4.5h0m.5 2.5h0m1.5-2h0m0 4h0m1-2.5h0m1 2h0m.5-3h0m.5 3h0m.5-.5h0m.5-2.5h0m1 1.5h0m.5 2h0m.5-4h0m.5 2.5h0m.5 2h0m2-2.5h0m.5 2h0m1.5-1.5h0m0 1h0m1.5 1.5h0m1-1h0m.5 1h0m7-5.5h0m2 1h0m0 1h0m.5 0h0m3 .5h0m1-2.5h0m1 1.5h0m255.5-.5h0m.5 0h0m9-1h0m2 1h0m1 .5h0m-603 6h0m118.5 2h0m.5-1.5h0m.5 2h0m0-1h0m.5 2h0m0-.5h0m1-1.5h0m0-1h0m0 2h0m.5 0h0m0 .5h0m.5-4h0m0 1h0m0 2.5h0m.5-2h0m0 3.5h0m.5-2h0m.5 0h0m56-1.5h0m0 .5h0m1 1h0m1.5 0h0m1 1h0m0-.5h0m1 1.5h0m0-.5h0m.5 .5h0m.5-.5h0m3-4h0m1.5 1h0m.5 2h0m1-3.5h0m1 .5h0m.5 2.5h0m.5 2h0m.5-3.5h0m.5-2h0m.5 4h0m.5 1.5h0m.5-4h0m0 2h0m0 2h0m0-.5h0m2-2h0m.5-1.5h0m.5 3.5h0m.5-4.5h0m0 1.5h0m0 2h0m1.5-3.5h0m0 2h0m1 .5h0m1 0h0m.5-.5h0m.5 2.5h0m1 0h0m.5-2.5h0m.5-1h0m.5 .5h0m.5-2h0m.5 3h0m1-2.5h0m0 1.5h0m.5 1.5h0m1.5-1h0m1 0h0m1-.5h0m.5 1h0m1.5-1.5h0m.5-1h0m2-.5h0m0 1.5h0m.5 0h0m6.5 2.5h0m1 1.5h0m.5-3.5h0m.5 1h0m.5-2h0m0 4h0m1.5-2h0m.5-3h0m0 5h0m.5-2h0m0 2.5h0m.5-3h0m.5-2.5h0m.5 1.5h0m1.5 2.5h0m0 .5h0m.5-4.5h0m.5 1.5h0m1 1.5h0m0 2.5h0m.5-2.5h0m.5-1h0m0 3.5h0m0-3.5h0m0 1.5h0m1-1.5h0m1 1.5h0m0-2.5h0m.5 3.5h0m.5 1h0m0-5h0m0 1.5h0m.5 1h0m.5-1h0m.5-1.5h0m0 2h0m0 1h0m0 2h0m.5-5.5h0m0 1h0m0 2.5h0m1-1.5h0m.5 1h0m0 2.5h0m.5-3h0m0-2h0m.5 4.5h0m0 .5h0m.5-1.5h0m0-4h0m0 1.5h0m0 2h0m0 2h0m.5-4h0m1.5-1.5h0m0 2.5h0m0 1.5h0m.5 1h0m0-2.5h0m0 2.5h0m.5-1.5h0m.5-3.5h0m0 5h0m.5-2.5h0m1 2h0m.5-3.5h0m0 1.5h0m.5-2.5h0m.5 3.5h0m1-2h0m.5 1h0m.5-2.5h0m0 5.5h0m1-5.5h0m.5 4.5h0m.5-2h0m1 1h0m0 2h0m.5-5.5h0m1 1.5h0m0 2.5h0m.5-2.5h0m.5-1h0m.5 4h0m1-3h0m0 3h0m.5 1h0m.5-5h0m1 2h0m0 2h0m.5-4.5h0m2.5 2.5h0m0 1.5h0m.5-3.5h0m.5 1h0m.5 2.5h0m1.5-4h0m0 5.5h0m.5-2.5h0m.5-3h0m0 3.5h0m1.5-1.5h0m0 2h0m0 1h0m1-4h0m0 3h0m.5 1h0m.5-3h0m.5-.5h0m1.5 2h0m0 2h0m1-2h0m2 1.5h0m.5-1h0m3 .5h0m1-4.5h0m1.5 4h0m.5-2.5h0m0 1.5h0m.5-2.5h0m.5 .5h0m0 1h0m1 2.5h0m0 1h0m1.5-4.5h0m0 1h0m15-2h0m2.5 1h0m.5 .5h0m1.5-.5h0m0 .5h0m.5-1h0m1 2.5h0m1.5-2h0m0 1h0m.5 2h0m2-4h0m0 1.5h0m0 2h0m1-3h0m.5 1.5h0m1 2h0m1-2h0m0 3.5h0m.5-5.5h0m.5 3.5h0m1-3h0m0 3h0m.5-2.5h0m0 4.5h0m.5-2.5h0m1-1h0m.5 2h0m.5 1h0m.5-2.5h0m.5 2h0m1.5-3h0m0 2.5h0m2-3.5h0m0 3h0m.5-1h0m.5-1.5h0m0 1.5h0m1 2h0m1.5 1h0m35.5-2.5h0m2.5 1h0m0 0h0m2 1.5h0m-247.5 5.5h0m.5-4.5h0m0 5h0m0-5h0m0 0h0m.5 1.5h0m0 2h0m0-1h0m.5-1.5h0m.5-1.5h0m0 .5h0m.5 0h0m0 1.5h0m0 2h0m.5 .5h0m.5-3h0m0-1h0m.5-.5h0m.5 .5h0m62.5-.5h0m0 0h0m2.5 .5h0m.5 0h0m1.5 0h0m0 .5h0m0 0h0m.5-.5h0m1.5 0h0m30 2h0m.5 0h0m1-1.5h0m.5 2.5h0m.5-.5h0m.5-1.5h0m1 3h0m0 0h0m0-.5h0m.5-2.5h0m0 1h0m0 2.5h0m1-1h0m2-2.5h0m0 1.5h0m.5 .5h0m0 1.5h0m1-5h0m0 1h0m1 2.5h0m0 1.5h0m.5-2h0m1-1.5h0m0 .5h0m.5-1.5h0m0 3h0m.5-1.5h0m0 1h0m0 2.5h0m0-3.5h0m1-1.5h0m.5 2h0m0 2.5h0m0-4.5h0m.5 3h0m0 2h0m.5-5.5h0m0 5.5h0m.5-5h0m0 1h0m.5 1h0m0 1.5h0m1-2.5h0m.5 3h0m.5 1h0m0-2h0m.5-2.5h0m0 2.5h0m0 2h0m.5-3.5h0m.5 3h0m.5-2.5h0m.5-1.5h0m0 2h0m0 2h0m.5 .5h0m0-4h0m.5 2.5h0m0 0h0m.5-3.5h0m0 5h0m.5-4.5h0m0 1h0m.5 1h0m.5 2.5h0m.5-4h0m1-1h0m.5 1h0m0 1.5h0m1 1.5h0m1 1h0m1-4.5h0m0 3h0m.5-4h0m.5 5h0m.5-3h0m.5 1h0m.5-1h0m0 3h0m1.5-2h0m.5 2h0m.5-4.5h0m.5 1h0m1 .5h0m.5 2h0m.5-3.5h0m.5 1.5h0m.5 2h0m.5-3.5h0m2 1.5h0m0 1h0m1-.5h0m.5-2h0m2 .5h0m.5-.5h0m.5 .5h0m2 0h0m0 2h0m1 0h0m1 2h0m1-3h0m.5 1.5h0m1-1.5h0m0 1.5h0m0 1.5h0m.5-4.5h0m1.5 1h0m.5 4h0m.5-3.5h0m.5 1h0m1-3h0m0 5.5h0m.5-2.5h0m.5-2h0m.5-1h0m1 1.5h0m0 2h0m0 2h0m1-5h0m0 3.5h0m1.5-3h0m0 2h0m0 1.5h0m.5 1h0m1.5-5h0m0 2h0m.5-1.5h0m.5 2h0m26-2h0m1.5 3.5h0m.5-3h0m.5-1h0m1 3h0m0 1.5h0m.5-3h0m1.5 2h0m0 .5h0m.5-2h0m.5 .5h0m.5-2h0m1 3h0m1-1.5h0m.5-2.5h0m.5 2.5h0m.5-2.5h0m0 5.5h0m.5-4.5h0m.5-1h0m1 1.5h0m0 2h0m1 .5h0m1.5-2.5h0m4.5 1h0m1.5 .5h0m2.5 1h0m8 1h0m2 0h0m2 0h0m21-5h0m.5 1h0m0 0h0m1.5 0h0m0 2h0m2 2h0m.5-2.5h0m1.5 .5h0m-318 7h0m1-2.5h0m0 3h0m1-2.5h0m.5-1h0m.5 4.5h0m.5-2.5h0m2-1.5h0m0 4h0m1-3h0m1 3h0m2-.5h0m1 .5h0m44-2h0m1.5 1h0m0-.5h0m1.5 1h0m1 .5h0m0-1.5h0m.5 0h0m0-.5h0m1 2h0m75.5-3.5h0m1 2h0m1-1.5h0m0 1h0m.5 1.5h0m1 .5h0m.5-3.5h0m0 2.5h0m.5-1.5h0m.5 2h0m.5-3h0m.5 3h0m0-2h0m1 1.5h0m.5-1.5h0m.5 2h0m.5-2h0m1 1.5h0m0 0h0m.5-1h0m.5-1.5h0m0 3.5h0m.5-.5h0m.5 0h0m.5-3.5h0m0 1.5h0m.5 2h0m1-3h0m.5 3h0m.5-2h0m0 2.5h0m1-1.5h0m1 1.5h0m4-1.5h0m1-1h0m1 2h0m1.5-.5h0m.5-1.5h0m1 1h0m.5 1h0m.5-1.5h0m0 .5h0m1.5 0h0m0 1h0m.5-2h0m.5 1.5h0m2 0h0m1 .5h0m.5-.5h0m1 0h0m4-4h0m0-.5h0m2 .5h0m.5 1h0m2-1.5h0m1 1.5h0m1-1.5h0m0 0h0m2 0h0m3.5 1h0m0 0h0m1.5 0h0m1-.5h0m1 1h0m2.5-1h0m1 1.5h0m0 .5h0m1-2.5h0m1.5 1h0m1.5 .5h0m1.5 0h0m21.5-1.5h0m0 .5h0m.5 1h0m.5 2h0m1.5-2.5h0m0 3h0m.5-.5h0m1-1.5h0m1 1h0m0 1.5h0m1-3h0m0 3h0m.5-2h0m1-1.5h0m1 4.5h0m.5-3h0m.5 1.5h0m1-2h0m.5-2h0m.5 2.5h0m0 2.5h0m.5-3.5h0m1 2.5h0m.5-1.5h0m.5 0h0m2 3h0m13.5 0h0m11-4.5h0m0 1.5h0m1.5-1h0m0 2.5h0m1-2.5h0m.5-1.5h0m1 3h0m.5 0h0m1-3h0m0 .5h0m14.5 2h0m0-.5h0m1 0h0m.5 2h0m1-2.5h0m.5 4h0m0-2.5h0m.5-1h0m.5-1h0m0-1h0m.5 2.5h0m0 1h0m0 1.5h0m.5-5h0m.5 1h0m.5-.5h0m0 2h0m.5-.5h0m0 3.5h0m.5-.5h0m0-5h0m0 3.5h0m.5-1.5h0m1.5 1.5h0m0 1.5h0m0-3.5h0m.5-1.5h0m0 4.5h0m.5-2.5h0m0 1h0m1-2.5h0m0 .5h0m.5 2h0m.5-.5h0m0 2h0m.5-2.5h0m.5 3.5h0m0-.5h0m.5-1h0m.5-4h0m1 1h0m32.5 3.5h0m1.5 1h0m2.5-1.5h0m2.5 0h0m1.5 .5h0m4.5 1h0m53.5-.5h0m0 0h0m1 0h0m56 0h0m10-2h0m7-3h0m1.5 1h0m2 1h0m2 1h0m-468.5 8.5h0m1 0h0m1-5.5h0m0 2h0m.5 2.5h0m.5-4h0m0 2h0m1.5-1h0m0 4h0m1-2.5h0m1.5-2h0m0 3.5h0m.5-2h0m2 0h0m0 3h0m1-1h0m1.5-2.5h0m.5 0h0m.5 2h0m2.5-1.5h0m2 .5h0m34.5-2h0m1.5-1h0m.5 2h0m2-1.5h0m0 0h0m0 2h0m0-2.5h0m1 0h0m.5 1.5h0m0 .5h0m0-.5h0m76-1h0m1.5 0h0m.5 0h0m0-.5h0m2 .5h0m1.5-.5h0m1 1h0m.5-.5h0m2.5 .5h0m.5-1h0m0 1h0m2-.5h0m1 0h0m9 1h0m.5-1h0m1 .5h0m1 0h0m.5 1.5h0m.5-2h0m0 2h0m1-2.5h0m.5 1h0m.5 2h0m0 0h0m.5 0h0m0-2h0m1 1h0m1-1.5h0m0 0h0m1-.5h0m0 3h0m.5-.5h0m.5 1h0m.5-2.5h0m0-.5h0m19 5h0m1 0h0m.5 0h0m0-.5h0m0-.5h0m1-.5h0m.5 0h0m0-1h0m0 0h0m1.5 0h0m0-2h0m0 .5h0m31.5-.5h0m0 1h0m1-2h0m1.5 .5h0m0 3.5h0m1-2h0m.5 2h0m1.5-2.5h0m0 1.5h0m1-.5h0m0 2h0m0 1h0m.5-4.5h0m2.5 .5h0m0 1.5h0m0 1h0m.5-2h0m0 3h0m1-5h0m1.5 1h0m0 2h0m.5 1h0m0 1.5h0m.5-4h0m.5 1h0m0 3h0m1-2h0m1-1h0m0 2h0m1.5-3h0m.5 3h0m.5-1.5h0m1 1h0m1-2h0m.5 1.5h0m1-2.5h0m0 4.5h0m1-3h0m0 1.5h0m1-2.5h0m1 .5h0m0 2.5h0m2 1h0m32.5-5.5h0m1.5 .5h0m2 0h0m0-.5h0m35 2.5h0m1-.5h0m0 2.5h0m.5-4h0m1-.5h0m.5 4h0m1-1h0m0 2h0m1-4.5h0m0 2.5h0m0 1.5h0m2-1.5h0m.5-2.5h0m.5 4.5h0m1-3.5h0m0 0h0m1 3h0m.5-2h0m1-1.5h0m1 2h0m.5-2h0m1 3h0m1-3.5h0m0 1h0m1-.5h0m.5 1.5h0m1.5-1.5h0m0 1h0m2 0h0m57 3.5h0m-471.5 .5h0m2.5 4.5h0m63.5-.5h0m1-1h0m0 1.5h0m2-1h0m0 .5h0m2.5-3h0m0 1.5h0m.5 2h0m.5-4h0m.5 2.5h0m2-2h0m.5 1h0m.5-1.5h0m1.5 2h0m0 1.5h0m1-1.5h0m1-2.5h0m1 2.5h0m.5-2.5h0m1 5h0m.5-4.5h0m0 4.5h0m.5-2h0m2-1.5h0m0 2.5h0m.5-1h0m105.5 2h0m2.5-.5h0m8.5 .5h0m53 .5h0m.5 0h0m1-.5h0m.5-.5h0m.5-.5h0m0 0h0m.5-.5h0m0-1h0m.5 0h0m.5 0h0m0-.5h0m.5-1h0m.5 .5h0m0-.5h0m0-1h0m.5 .5h0m0-.5h0m.5 .5h0m17 5h0m1.5-1.5h0m.5 1h0m1-2.5h0m0 1.5h0m0 1.5h0m0-2h0m0 0h0m.5 2h0m.5 0h0m.5-3h0m0 2.5h0m0 .5h0m0-3h0m0 2.5h0m1-.5h0m0-.5h0m.5-2h0m0 2h0m.5-2h0m0 1.5h0m.5-.5h0m0 2h0m.5-2h0m.5-1h0m0 3.5h0m0-.5h0m.5 .5h0m.5-2.5h0m.5 .5h0m14-3h0m13.5 0h0m1 .5h0m3.5-1h0m.5 0h0m2 1h0m33.5 4h0m.5-.5h0m.5-4.5h0m.5 4h0m0 0h0m.5 .5h0m0-.5h0m1-4h0m0 3h0m.5 .5h0m0 0h0m0-.5h0m.5-2h0m0 0h0m1.5-.5h0m0 2h0m0-2.5h0m0 0h0m0 0h0m.5 3h0m0-2.5h0m1.5 2h0m.5-2h0m0 1h0m0 .5h0m0-1.5h0m0-.5h0m.5 2h0m.5-1h0m.5 .5h0m.5 1h0m0-1.5h0m0-.5h0m1 .5h0m.5-.5h0m.5 .5h0m0 1h0m0 0h0m0-1h0m0 .5h0m1.5 .5h0m.5 0h0m.5-.5h0m0 1h0m0-.5h0m0 0h0m0 0h0m1.5-.5h0m0 1.5h0m0 0h0m.5 .5h0m.5-.5h0m1.5 1h0m.5 1h0m0-1.5h0m.5 1.5h0m20.5-5h0m.5 1.5h0m1-.5h0m1.5 .5h0m.5 .5h0m.5-2h0m1.5 2.5h0m.5-1.5h0m71 1h0m-475.5 8.5h0m86.5-4h0m1.5 0h0m96 4.5h0m.5 0h0m3 .5h0m2.5 0h0m3.5-2.5h0m0 2h0m1-4h0m.5 4h0m.5-4.5h0m.5 2h0m1.5-1h0m0 3.5h0m.5-4.5h0m.5 4h0m1.5-2.5h0m.5 2.5h0m.5-1.5h0m2 2h0m1-2h0m1 1.5h0m2-4h0m.5 3.5h0m0 1.5h0m3.5 0h0m47.5-5.5h0m0 .5h0m21 .5h0m0-.5h0m.5 1h0m1-1.5h0m0 1h0m0 1h0m.5 3h0m0-3h0m.5 1.5h0m0-3h0m1 .5h0m0-.5h0m0 2.5h0m.5-3h0m0 4.5h0m.5-2.5h0m0 .5h0m0 2.5h0m.5-2.5h0m1.5 .5h0m0-2h0m.5-.5h0m.5 .5h0m0 1.5h0m0-1.5h0m1 .5h0m.5 .5h0m.5-2h0m0 .5h0m47.5 4h0m0 0h0m0 .5h0m.5-.5h0m58.5-1.5h0m.5 0h0m1.5 0h0m.5 .5h0m1.5 0h0m.5-.5h0m2 1h0m1 .5h0m-408.5 5h0m1-1h0m1.5-1.5h0m1.5-1h0m40 4.5h0m139.5-3.5h0m2.5-.5h0m1-.5h0m1 1h0m1 2h0m1-1.5h0m2 0h0m0 2.5h0m0 1.5h0m1-3.5h0m1 2h0m.5-3.5h0m.5 1h0m0 4h0m1.5-1h0m1 0h0m0 1h0m.5-3.5h0m.5-1.5h0m0 4.5h0m.5-2.5h0m.5-2.5h0m0 4.5h0m2-4h0m0 2h0m0 1.5h0m1.5-4h0m0 1h0m1 2.5h0m1-2h0m.5 3.5h0m1-5h0m0 2h0m1.5 1.5h0m.5-3.5h0m1 0h0m0 1.5h0m1 3h0m.5-1.5h0m.5-2.5h0m.5 3h0m1.5-1h0m0 1.5h0m0 1.5h0m.5 0h0m1-1h0m.5-4.5h0m0 1.5h0m1.5 .5h0m0 2.5h0m1 1h0m1-3h0m.5 2.5h0m.5-4.5h0m.5 5h0m.5-4h0m0 2.5h0m.5-4h0m1 2h0m.5 3h0m2-5h0m0 2.5h0m0 3h0m1-1.5h0m1-4h0m0 3h0m.5 1.5h0m.5-2h0m.5-2.5h0m0 5h0m1.5-1h0m.5-4h0m.5 1.5h0m1-1h0m0 3.5h0m.5 0h0m.5-2.5h0m0 4h0m1.5-3h0m1 1h0m108-3.5h0m0 .5h0m.5 2.5h0m0-2.5h0m.5 1.5h0m.5-1h0m1.5 1.5h0m0 1h0m0-.5h0m1.5 .5h0m47 .5h0m13-3h0m1.5 .5h0m2.5 .5h0m.5 .5h0m1.5-.5h0m2 1h0m1.5 .5h0m2 .5h0m.5 0h0m1.5 0h0m2.5 0h0m2.5 0h0m6 1h0m2.5 0h0m1.5 .5h0m177-3.5h0m-566 9h0m145.5-5h0m3.5 1h0m1 1.5h0m0 1.5h0m2-.5h0m.5-1.5h0m.5 1.5h0m1.5-3h0m.5-.5h0m0 2h0m.5 2.5h0m.5-3.5h0m1-1h0m.5 1.5h0m0 3h0m1 1h0m.5-5h0m.5 3h0m.5-1.5h0m1.5 1.5h0m.5-3h0m0 1.5h0m.5 1.5h0m0 2h0m1-4.5h0m.5 0h0m.5 2.5h0m1-2h0m1.5 .5h0m.5 1.5h0m1.5-3.5h0m.5 2.5h0m1.5-1h0m2 1h0m.5 3h0m1-5h0m0 4h0m.5-2.5h0m0 3.5h0m1.5-2h0m.5-1.5h0m1-2h0m1 2h0m.5 2h0m.5 .5h0m1-2.5h0m1.5-.5h0m.5 2h0m.5-3.5h0m1.5 3.5h0m.5-2.5h0m.5 3h0m1-3.5h0m80.5 4.5h0m0-.5h0m79 0h0m32-.5h0m.5 1h0m1.5 0h0m.5-2h0m1 0h0m1.5 2.5h0m.5-4.5h0m1 1.5h0m0 3h0m.5-3.5h0m1 .5h0m1 2h0m.5-3h0m0 2.5h0m1-2h0m1.5-1.5h0m0 3h0m.5 1h0m1.5-1h0m0 2h0m.5-4h0m1 1.5h0m0 2h0m1.5-1.5h0m1.5 1h0m1.5-1h0m-247 5.5h0m.5-2h0m.5 3.5h0m.5-4h0m1 0h0m0 2h0m.5 0h0m.5 .5h0m.5 2h0m.5-5h0m.5 5h0m1-3h0m0 2h0m.5 0h0m1.5-4h0m.5 2h0m.5-.5h0m0 2h0m.5 2h0m1.5-2.5h0m.5-1.5h0m.5-1h0m1 1.5h0m.5 1.5h0m.5 2h0m.5-5.5h0m0 4h0m.5 1.5h0m6-3h0m.5 2h0m1-3.5h0m.5 3.5h0m.5 1h0m.5-2h0m1 2h0m.5-4h0m.5-1h0m1 2.5h0m0 2h0m1-3h0m.5-2h0m.5 2h0m.5 1.5h0m.5 .5h0m.5 1.5h0m80.5-2.5h0m0 0h0m.5 0h0m0 2.5h0m.5-3h0m.5-.5h0m0-.5h0m0 .5h0m1-2h0m1 5.5h0m.5-4.5h0m0 3.5h0m0-4h0m0 0h0m.5 0h0m0 3.5h0m0 1.5h0m.5-3.5h0m1 3h0m116 .5h0m1-1h0m3-4.5h0m40.5 3h0m141 2h0m-426 5.5h0m2.5-.5h0m.5 1.5h0m1.5-.5h0m.5-.5h0m.5 0h0m1 0h0m.5-4.5h0m0 2h0m2-2h0m0 5.5h0m.5-4h0m0 1.5h0m.5 .5h0m.5 2h0m1-4h0m1 2h0m.5 1h0m1-2h0m.5-1h0m0 1.5h0m0 2.5h0m1-5h0m1 2h0m0 2.5h0m1-3h0m0 2h0m.5 1h0m1-5h0m.5 1h0m.5 2.5h0m1.5-2h0m1 0h0m0 1h0m1 1.5h0m1 1.5h0m.5-3h0m.5 2.5h0m1-1.5h0m3.5-3.5h0m2 2h0m3 0h0m.5 1h0m1-2h0m0 4h0m.5-5h0m.5 5.5h0m.5-2h0m.5-1h0m1 1h0m1.5 1.5h0m77-1h0m0 0h0m.5-4h0m0 2h0m0 2.5h0m.5-3h0m0 2.5h0m0 1.5h0m2.5-3.5h0m.5 2h0m1 0h0m2-2h0m28 3.5h0m54.5-1.5h0m1-1h0m1-1.5h0m30 0h0m46-1h0m74.5 5h0m57.5 0h0m2-1.5h0m2-1.5h0m1.5-1.5h0m1.5-.5h0m-574.5 7h0m110 1h0m1.5-1h0m2.5-1.5h0m35 1.5h0m2 1h0m1-.5h0m1 0h0m0 1.5h0m.5 0h0m1.5-1.5h0m0 2.5h0m1.5-1.5h0m1-2h0m0 4h0m.5-1h0m.5-2h0m.5 2h0m.5 1h0m1.5 .5h0m.5-4.5h0m.5 2h0m0 2.5h0m1-2.5h0m.5-2.5h0m.5 1h0m0 3.5h0m1-1.5h0m1.5-3h0m.5 5h0m1.5-5h0m0 3.5h0m1 0h0m0 1h0m1-5h0m0 1.5h0m0 3.5h0m1.5-5h0m0 4h0m1 .5h0m.5-4h0m0 2h0m.5-1h0m.5 4h0m.5-3h0m1.5-.5h0m1-2h0m5 2.5h0m0 2h0m1-2.5h0m0 3h0m2-1h0m0 1h0m1-3h0m1.5 2h0m.5-3h0m0 4.5h0m.5-2h0m1-3h0m1 .5h0m.5 4h0m.5-1h0m0-.5h0m2 1.5h0m75-5h0m.5 1.5h0m.5 1h0m0 1.5h0m0-.5h0m.5 1h0m.5-.5h0m1.5 1.5h0m32-4.5h0m1 1h0m2 2h0m.5 .5h0m.5 1h0m29.5-1.5h0m.5 1h0m1-1h0m1-1h0m0 2.5h0m2.5-1h0m0 1h0m3-1.5h0m0 1.5h0m2-1h0m.5 .5h0m1-1h0m1.5 .5h0m1 0h0m1.5 1h0m1.5-2.5h0m.5 2h0m1-1h0m0-4h0m.5 2h0m26 3.5h0m1.5 0h0m0 0h0m0-1h0m.5 .5h0m1.5-1.5h0m.5 1.5h0m1-1h0m.5-.5h0m1.5-1h0m0 1h0m.5-.5h0m.5-.5h0m1.5 .5h0m.5 1h0m1 0h0m1-1h0m1 1.5h0m.5-1h0m1.5 1h0m1-1h0m112.5-1.5h0m1.5 2.5h0m91.5-4.5h0m3 2h0m-604.5 4h0m21 5.5h0m2-.5h0m2-2h0m.5 1.5h0m.5-2h0m1 2.5h0m1.5-2h0m1 0h0m0 2h0m2-.5h0m2 1h0m19.5 0h0m2-1h0m2.5-1h0m4 0h0m91.5-2.5h0m3 .5h0m1.5 0h0m0 2.5h0m.5 .5h0m.5-2.5h0m.5 .5h0m1.5 2h0m.5-1h0m.5-3h0m.5 3h0m.5-2h0m3-.5h0m16 1h0m0 3.5h0m1-1h0m1-3h0m1 .5h0m0 3.5h0m.5-2.5h0m.5 1.5h0m1-4.5h0m0 1h0m.5 3h0m1-1.5h0m.5 2.5h0m.5 .5h0m.5-3.5h0m.5 1h0m1-1.5h0m1 0h0m0 1h0m.5-2.5h0m0 5h0m2.5-1.5h0m2.5-1h0m2 0h0m70-2.5h0m1 1h0m0 0h0m1.5 2h0m.5 0h0m0 .5h0m.5 0h0m1 1.5h0m.5 0h0m32.5-3.5h0m1.5 2.5h0m29.5-2h0m1 1.5h0m1-2h0m0 3.5h0m.5-5h0m1 4h0m.5-1.5h0m1 2h0m1-2.5h0m0 1.5h0m1.5-1h0m0 1h0m1-2.5h0m1 2h0m1.5-3h0m.5 2h0m1-.5h0m6.5-1h0m.5 1h0m2.5 0h0m0 .5h0m1 .5h0m.5 0h0m1.5 0h0m0-1h0m0 .5h0m.5-.5h0m2 0h0m0 1h0m1.5-1h0m.5-.5h0m2 0h0m.5-.5h0m1.5 .5h0m0-.5h0m.5 .5h0m0 0h0m1.5 .5h0m0 0h0m1.5 .5h0m0 0h0m.5 .5h0m.5-1h0m1.5-1h0m.5 .5h0m1-.5h0m131.5-.5h0m-498.5 11.5h0m2.5-.5h0m2.5-1.5h0m0 .5h0m2-1h0m0 1.5h0m1 1h0m.5-5.5h0m1 2.5h0m.5-1.5h0m.5 3.5h0m1-2.5h0m1-1.5h0m0 3h0m.5-2.5h0m.5 4h0m1.5 .5h0m.5-3h0m.5-2h0m0 3.5h0m.5-1.5h0m.5-1.5h0m2 2.5h0m0 2h0m1-4.5h0m0 3h0m.5-3h0m0 1h0m1 2h0m141.5-3h0m11.5-.5h0m.5 3.5h0m.5-1h0m1.5-1.5h0m0 4h0m2-5h0m80 2h0m3 3h0m.5-5.5h0m0 3.5h0m.5-2.5h0m0 4h0m1-4.5h0m.5 0h0m0 1h0m0 2h0m.5-1h0m.5-1h0m0 0h0m0 3h0m.5-2h0m0-1h0m0-.5h0m1 4h0m.5-1.5h0m0-3h0m.5 3h0m.5-.5h0m.5 1.5h0m.5-.5h0m0 1.5h0m.5-3.5h0m0 1h0m1 0h0m0 2.5h0m2-1h0m6.5-2h0m44.5 .5h0m1-.5h0m1.5-2h0m.5 1.5h0m1.5-2h0m0 2h0m1-.5h0m1.5-.5h0m87.5 0h0m4.5 2h0m67.5 0h0m2 0h0m3.5 0h0m0 .5h0m2.5-1.5h0m-520 6.5h0m.5 2.5h0m1-2h0m1 1h0m.5-.5h0m1.5 .5h0m6 .5h0m2.5 .5h0m1 0h0m2.5-.5h0m1 1h0m1.5-3h0m1-1.5h0m0 3.5h0m1.5-3h0m0 4h0m0 0h0m1-5h0m.5 2h0m1-.5h0m1 2.5h0m.5-4h0m0 4.5h0m.5-2h0m.5-3h0m.5 3.5h0m1.5-2h0m0 1h0m1.5 2h0m.5-4.5h0m.5 3h0m1-.5h0m.5-1.5h0m3-1h0m1.5 0h0m3.5 0h0m2 .5h0m1.5 0h0m241.5 .5h0m1.5 0h0m1 1.5h0m2-.5h0m.5-1h0m2-1h0m1 0h0m4 2h0m0 0h0m2 1h0m0-.5h0m1.5 0h0m.5 .5h0m1.5 .5h0m0 0h0m2 .5h0m0 0h0m.5 .5h0m0 0h0m1 0h0m.5-.5h0m1.5 1h0m0 0h0m2 0h0m1 0h0m1-.5h0m0 1h0m.5 0h0m0 0h0m2-.5h0m.5 0h0m2 0h0m0 0h0m1 .5h0m1 0h0m1-.5h0m0 .5h0m1-.5h0m1.5 .5h0m22-.5h0m2 .5h0m2.5 0h0m13 0h0m8.5-5.5h0m-367 6h0m1.5 3h0m.5-3h0m0 4.5h0m2-2.5h0m.5-1h0m.5 2h0m.5 .5h0m.5 1.5h0m1-5h0m0 2h0m0 2.5h0m1 0h0m.5-1h0m.5-3.5h0m0 2h0m.5-1.5h0m0 2.5h0m1 2h0m0 0h0m.5-2h0m0 1h0m1-3h0m.5 2h0m0 2.5h0m.5-1.5h0m.5 1.5h0m.5-3h0m0 3h0m.5-2.5h0m0 1h0m.5-4h0m0 4.5h0m.5-.5h0m0-.5h0m.5-2h0m.5 1.5h0m.5-2h0m1 2h0m0 1.5h0m0-1h0m0 2h0m2-3.5h0m0 2.5h0m0 .5h0m.5-5h0m1 3.5h0m.5-3.5h0m0 2.5h0m1.5-1.5h0m6 2h0m1.5 .5h0m.5-2h0m1 3h0m.5-3.5h0m1 1.5h0m1 1.5h0m.5-4h0m0 3h0m.5 2h0m1-2.5h0m0 3h0m3-4h0m2.5 1h0m1 .5h0m2.5 .5h0m59 2h0m129-4.5h0m0 0h0m35.5 1h0m0 2h0m.5 1.5h0m1.5-3.5h0m1 2.5h0m0 1h0m1.5-3h0m.5 1.5h0m.5-2h0m42-2h0m2.5 .5h0m2-.5h0m0 0h0m1 .5h0m0 0h0m.5-.5h0m0 .5h0m1.5 0h0m.5 .5h0m1.5 0h0m1-.5h0m1.5 0h0m.5 .5h0m1 0h0m0 1h0m0 3h0m.5-3.5h0m0 2h0m0 1h0m1.5-4h0m.5 1h0m0 1h0m1 2h0m.5-4.5h0m.5 4h0m.5 0h0m1-4h0m0 1h0m1 1h0m.5 3.5h0m.5-5h0m0 3h0m1-.5h0m.5-.5h0m0 3h0m2.5-3.5h0m0 1h0m0 1.5h0m1-4h0m1 2.5h0m1.5-1.5h0m.5 4h0m.5-4h0m0 1.5h0m.5 .5h0m1.5-1.5h0m2 1h0m.5 .5h0m.5-1.5h0m0 3.5h0m1.5-2h0m.5 2h0m1.5-3h0m.5 2.5h0m.5 .5h0m.5-3.5h0m1.5 .5h0m.5 2.5h0m1-3h0m.5 1.5h0m1-1.5h0m0 3h0m1-3.5h0m0 2.5h0m0 1.5h0m1.5-1h0m.5-3h0m0 2.5h0m32-1h0m1 0h0m1.5-.5h0m.5 0h0m2 0h0m0-.5h0m1-.5h0m0 0h0m0 0h0m0 .5h0m2.5 0h0m0 1h0m1.5 .5h0m1 0h0m1 .5h0m.5-.5h0m0 0h0m.5 .5h0m1.5 1h0m0 0h0m-408.5 3h0m0 2h0m.5-3.5h0m1 2h0m0 2h0m0 0h0m.5 0h0m0-1.5h0m.5-2h0m.5 0h0m0 1h0m.5-1.5h0m.5 0h0m.5 4h0m0 .5h0m.5 .5h0m0-2h0m.5-.5h0m0 0h0m0 2h0m.5-4.5h0m0 .5h0m1 2.5h0m0 0h0m.5-3.5h0m0 4.5h0m0-4h0m.5 1h0m.5 3.5h0m1 .5h0m.5-4h0m0 1h0m.5 2h0m0-3.5h0m1 1.5h0m0 2.5h0m1-4.5h0m0 0h0m0 2h0m.5 1.5h0m0-3h0m1 1.5h0m.5 .5h0m.5-2.5h0m0 3.5h0m0 1.5h0m.5-3h0m0-.5h0m.5 2.5h0m0-1h0m0 1.5h0m.5-3h0m.5-2h0m1 .5h0m.5 3.5h0m0-1.5h0m.5-2.5h0m0 2h0m0 3.5h0m.5-5h0m.5 3h0m1.5 2h0m5.5-5.5h0m1.5 .5h0m1.5-.5h0m175 1.5h0m34.5-1.5h0m16 5.5h0m7-1.5h0m6.5-2h0m2-1h0m0 2.5h0m.5-3.5h0m55.5 1h0m.5 1.5h0m1.5 0h0m.5-.5h0m1.5-1.5h0m.5 3h0m0 1h0m1.5-4.5h0m.5 2h0m0 2h0m.5 1.5h0m.5-4.5h0m1 2.5h0m1-2h0m0 3.5h0m1-1h0m1-3h0m.5-1h0m.5 4h0m1.5-2h0m0 .5h0m0 2.5h0m1.5-3h0m.5 2.5h0m1-4.5h0m0 4h0m.5-2.5h0m1.5 3h0m.5-4.5h0m0 3h0m.5-2h0m.5 2h0m.5 1.5h0m1-3.5h0m.5 2h0m1-2.5h0m3 1h0m1.5 0h0m2-1h0m53-.5h0m0 .5h0m1 .5h0m.5-.5h0m-410.5 8.5h0m.5-2.5h0m.5 0h0m0 1h0m0 2.5h0m.5-1h0m1-1h0m0-.5h0m.5 1.5h0m1 2.5h0m.5-3.5h0m0-.5h0m0 2h0m.5 .5h0m.5 1h0m.5-5h0m0 2.5h0m0-1h0m.5 2h0m0-1h0m.5-1.5h0m.5 4h0m.5-3.5h0m.5-.5h0m0 1.5h0m0 3h0m1-5h0m0 2h0m.5 1.5h0m1-4h0m0 2h0m0 2h0m0 0h0m.5-2h0m.5 0h0m0 2.5h0m.5-4.5h0m0 1.5h0m.5 3.5h0m0-5h0m0 1.5h0m.5 .5h0m.5 .5h0m0 2.5h0m1 0h0m0-4h0m1 1h0m0 3.5h0m.5-2.5h0m.5 1h0m0-4h0m0 0h0m.5 .5h0m0 5h0m.5-4.5h0m0 0h0m.5-1h0m1 4h0m.5-1.5h0m1.5-.5h0m0 2h0m.5 1h0m.5 .5h0m.5-.5h0m2 .5h0m308-5h0m1.5-.5h0m0 2h0m4-2h0m18 2h0m6.5 1.5h0m0-1h0m1.5 2h0m.5 0h0m1 1h0m-379.5 1.5h0m1-1h0m16.5 0h0m1.5 .5h0m0 1h0m2 0h0m.5-1h0m1 1.5h0m0-1h0m.5-1h0m1 4.5h0m0 1h0m.5-5.5h0m0 .5h0m.5 2.5h0m1 2.5h0m.5-2h0m.5-1.5h0m1-1.5h0m0 .5h0m0-.5h0m1.5 0h0m1.5 1h0m1 .5h0m.5-1.5h0m2 1.5h0m2.5 0h0m2-1h0m1 1.5h0m.5-2h0m1.5 1.5h0m0 2.5h0m1.5-.5h0m1-2h0m.5 1.5h0m1-1.5h0m.5 2h0m1-2.5h0m0 4h0m2-4h0m.5 3h0m2-3h0m0 2h0m.5 1h0m2-2h0m33-.5h0m.5 .5h0m13.5 3h0m.5-.5h0m1.5 0h0m.5-.5h0m.5-.5h0m1.5 0h0m0 0h0m0-.5h0m273.5-3.5h0m0 0h0m1 0h0m1.5 1.5h0m.5 0h0m2 1.5h0m.5 0h0m73 2.5h0m2.5-.5h0m2-1.5h0m-405 4.5h0m4 3h0m30-2h0m1 1.5h0m1.5-2.5h0m.5 1.5h0m1.5-1h0m.5-1.5h0m1 1h0m.5-1.5h0m.5 0h0m.5 .5h0m.5-.5h0m.5-.5h0m1 0h0m145 3h0m.5-.5h0m.5 1h0m1.5 0h0m.5 .5h0m0-.5h0m1.5 1.5h0m0-.5h0m.5 1h0m2-.5h0m0 0h0m.5 .5h0m0-.5h0m1 .5h0m.5 0h0m46.5-2h0m.5 1h0m.5 .5h0m1-.5h0m.5-1h0m.5 0h0m.5-.5h0m0 2h0m1.5 0h0m.5 0h0m-225.5 6.5h0m.5-1h0m2-.5h0m.5-1h0m1 0h0m1-1h0m111.5 2h0m.5 0h0m54-4h0m3 .5h0m0-.5h0m1 0h0m.5 0h0m.5 0h0m1 1h0m.5-.5h0m.5 0h0m1.5 0h0m0 0h0m0 .5h0m1.5-.5h0m.5 0h0m.5 1h0m40 0h0m.5 1h0m1-1h0m0 3h0m.5-2h0m0-2.5h0m0 3.5h0m.5-2.5h0m1 2.5h0m0 1.5h0m0-4h0m.5 0h0m0 4.5h0m.5-2h0m0 0h0m1 1.5h0m0-3.5h0m0 1.5h0m.5 2h0m-235.5 6.5h0m0-1h0m1.5 0h0m0-1h0m1.5-1h0m.5 1h0m1-2h0m2-1.5h0m0 .5h0m227-.5h0m-235.5 6.5h0m0-.5h0m433.5 5h0m1-.5h0m2 0h0m-14 6h0m2-.5h0m1.5 0h0m1 1h0m1.5-2h0m.5 0h0m.5 2.5h0m0-1h0m1-3.5h0m0 2.5h0m1-1h0m.5 .5h0m0 2h0m.5-.5h0m.5-4h0m0 2h0m.5 2.5h0m.5-2h0m1 2.5h0m0-3.5h0m.5-1h0m.5 3.5h0m.5-3h0m0 2h0m0-2.5h0m.5 3.5h0m.5-1h0m.5 1.5h0m.5-2.5h0m.5-2h0m0 4h0m.5-3h0m0 1.5h0m.5 0h0m.5-3h0m0 4h0m0-2h0m.5-1.5h0m-162.5 7.5h0m.5-.5h0m2 2h0m.5-.5h0m1.5 2h0m.5-.5h0m0 .5h0m0 0h0m25-2h0m1.5-.5h0m0 1h0m1.5-3.5h0m0 2.5h0m.5 1h0m1 .5h0m.5-2.5h0m1.5 2h0m1 1.5h0m2.5-.5h0m0 1h0m1.5-1.5h0m83.5 1h0m1 .5h0m3-1h0m2.5-.5h0m.5-2h0m1.5-.5h0m.5 1.5h0m3-.5h0m1-1h0m1.5 0h0m.5 .5h0m2.5-1.5h0m.5 .5h0m2.5 .5h0m2.5 1h0m.5-2h0m1 0h0m.5 0h0m.5 3h0m0 1.5h0m1.5-3h0m0-2h0m0 5.5h0m1-4.5h0m0 1h0m.5 1.5h0m0-3h0m.5 3.5h0m.5-3.5h0m.5 4h0m.5-4h0m0 2h0m.5-2.5h0m0 0h0m0 2.5h0m1 3h0m0-5.5h0m0 3h0m0 .5h0m.5-2h0m.5 .5h0m.5 2h0m.5 0h0m0-2.5h0m1 2h0m.5-3.5h0m0 3h0m0 2h0m.5-5h0m.5 4h0m.5-2.5h0m0 1.5h0m.5 0h0m1-2.5h0m-388 8.5h0m75 1.5h0m1-.5h0m2.5-1.5h0m1-.5h0m149.5 3.5h0m.5 0h0m2-5h0m0-.5h0m1.5 1h0m.5 0h0m1 1.5h0m.5-.5h0m19 2h0m1.5-3.5h0m3.5-.5h0m8 0h0m9.5 4.5h0m72-4.5h0m22 3.5h0m1-3.5h0m0 2h0m2.5-1.5h0m.5 1.5h0m1-1h0m2.5-1h0m1.5 1.5h0m1-1.5h0m0 1.5h0m2-.5h0m-312 6.5h0m.5-.5h0m2-1h0m158 1h0m1-.5h0m1.5 1.5h0m0-1h0m2 1h0m0 .5h0m20-1.5h0m1 2h0m.5 0h0m1 1.5h0m35.5 1h0m0 0h0m1.5-.5h0m2-.5h0m0 1h0m.5-1h0m.5 .5h0m1 .5h0m1-.5h0m1.5 .5h0m4-.5h0m.5 .5h0m1.5-.5h0m.5 0h0m1.5-1h0m.5-.5h0m-394.5 5h0m272-.5h0m42.5 3h0m.5-3.5h0m.5-1.5h0m.5 3h0m0 2.5h0m1-5h0m0 .5h0m1 2.5h0m.5-2.5h0m.5 4h0m.5-2h0m2.5 .5h0m2 1.5h0m1-.5h0m2 1h0m17.5-5.5h0m30.5 0h0m1 .5h0m3.5-.5h0m6.5 0h0m2 0h0m1 .5h0m0 0h0m0-.5h0m-79.5 11h0m2 0h0m.5 .5h0m.5-1.5h0m1-1.5h0m.5 3h0m1-4h0m.5 3h0m1 1h0m.5-5.5h0m.5 1h0m0 3.5h0m.5 .5h0m.5-1.5h0m1-2h0m1 2h0m0 1.5h0m.5-3.5h0m1.5-1h0m0 1h0m.5 2.5h0m0 1.5h0m1.5-4.5h0m.5 2h0m0 2h0m.5-4.5h0m1 .5h0m.5 3h0m1.5 0h0m.5-2h0m.5 3h0m.5-3.5h0m1 1.5h0m1-2h0m0 3.5h0m.5-.5h0m2-1.5h0m0 2.5h0m1.5-1h0m.5-2.5h0m1 2.5h0m1-.5h0m1 1.5h0m1-3h0m.5 2h0m.5 1.5h0m.5-1.5h0m2.5 1h0m1-2h0m.5 2h0m.5-3h0m.5 1.5h0m1-2h0m0 2.5h0m0 1.5h0m2.5-1.5h0m4 1h0m.5 0h0m20.5-.5h0m1 .5h0m2 0h0m7 .5h0m-153.5 1.5h0m68.5 4.5h0m0-2h0m.5 1.5h0m.5-1h0m1.5-.5h0m.5 0h0m1.5-1.5h0m0 2.5h0m.5-2h0m.5 3h0m1-4.5h0m.5 3h0m.5-4h0m.5 1h0m0 4.5h0m1-2h0m.5 1h0m1-.5h0m.5-3h0m0 0h0m.5 4h0m1-2.5h0m1-.5h0m1 1h0m1 0h0m.5-2h0m.5 4.5h0m1-3h0m0 3h0m.5-3.5h0m1.5 .5h0m.5-1h0m1.5 2h0m.5-1.5h0m1-1h0m.5 4.5h0m1-1.5h0m.5 0h0m0 .5h0m.5-4.5h0m0 2h0m2-2h0m0 3.5h0m1-2.5h0m.5 3h0m1.5-3h0m0 4.5h0m1.5-4h0m0 3h0m.5-1.5h0m.5-1.5h0m.5 3.5h0m.5-2h0m1 1.5h0m.5-3h0m.5 1.5h0m.5-3h0m.5 1.5h0m.5 3.5h0m.5-1.5h0m.5-3.5h0m.5 .5h0m1 3h0m1-2.5h0m.5 2h0m0 2.5h0m2-4.5h0m0 1.5h0m.5 3h0m.5-3.5h0m0 2.5h0m.5-1.5h0m1.5 1h0m1-3.5h0m1.5 1.5h0m.5-2h0m1 1h0m1 2h0m.5-3h0m0 1h0m.5 2h0m2 0h0m.5-2.5h0m2 .5h0m.5 1.5h0m0 3h0m1.5-3.5h0m.5 1h0m0 2h0m.5-1.5h0m.5-2h0m.5 2h0m1-1h0m0 1.5h0m.5-2.5h0m0 2h0m0 1h0m2-.5h0m.5-2h0m0 3h0m2.5-3.5h0m0 2h0m.5-2h0m.5 3.5h0m.5-1h0m1-1h0m0 2.5h0m.5-4h0m1.5 .5h0m.5 2.5h0m.5-4.5h0m0 4h0m.5-1h0m.5-2h0m1 4h0m1-2.5h0m.5 3h0m.5-3.5h0m1 1h0m.5-2h0m1.5 2.5h0m1-2h0m.5-1h0m.5 2.5h0m.5 1.5h0m.5-3h0m.5-1.5h0m.5 2h0m0 3h0m.5-1.5h0m1-2.5h0m.5 4.5h0m1-3h0m.5 0h0m.5-1.5h0m0 3.5h0m2-1h0m-314.5 3.5h0m224.5 4h0m.5-2h0m.5-1h0m0 3.5h0m.5-3h0m.5-.5h0m1-2h0m1.5 4h0m.5-3.5h0m0 4h0m.5-1.5h0m1-2h0m2 1.5h0m.5-1h0m.5 2h0m1-2h0m1 1h0m1-1.5h0m1-1h0m0 3h0m1-1h0m1.5 1h0m.5 2h0m.5-4h0m.5 .5h0m1 2.5h0m.5-1h0m1.5-3h0m0 2h0m1-2h0m0 2h0m0 .5h0m0 3h0m.5 0h0m1-2.5h0m.5-2h0m1 4h0m1-2h0m1-1h0m0 3.5h0m.5-3h0m1-2.5h0m0 .5h0m1.5 1.5h0m0 1h0m1.5 .5h0m0 1h0m1-2.5h0m1.5 1h0m.5-1h0m1-.5h0m0 3h0m.5-1.5h0m0 1.5h0m1.5-1.5h0m.5-2.5h0m1.5 4.5h0m.5-1h0m.5-4h0m.5 1.5h0m.5 1.5h0m1-1.5h0m.5 4h0m.5-4.5h0m0 1.5h0m2.5 1h0m1 0h0m0 2h0m1 0h0m3-1h0m1 1h0m1-1.5h0m1.5 1h0m2-2.5h0m1-1.5h0m.5 4h0m1-1.5h0m.5-2h0m0 3h0m1.5-4.5h0m.5 2.5h0m.5-2h0m0 2.5h0m2-2h0m1 .5h0m.5 2.5h0m.5 .5h0m1-1.5h0m1-3h0m0 1h0m.5 3.5h0m.5-2.5h0m0 1h0m1 1.5h0m.5-1h0m1 1h0m.5-3.5h0m1 .5h0m0 2h0m1 .5h0m0 1h0m1 .5h0m1-5h0m1 .5h0m0 3h0m.5 1.5h0m1-4h0m0 1h0m.5-2.5h0m1 3.5h0m.5-3.5h0m0 5h0m.5-4h0m.5 4h0m1-4h0m0 2h0m1.5 .5h0m1.5-2.5h0m1 1h0m-87.5 6.5h0m.5-2h0m0 2h0m.5 3h0m1.5-3.5h0m.5 .5h0m0 3h0m1-5.5h0m1 1h0m0 4.5h0m.5-4h0m0 1.5h0m1-.5h0m0 2.5h0m1.5-5h0m0 0h0m1.5 3h0m0 2h0m1.5 0h0m1.5 .5h0m2.5-.5h0m2-1h0m1-2h0m.5 1.5h0m1-3.5h0m.5 1h0m.5 1h0m1.5-.5h0m0 2h0m2-1h0m.5-.5h0m1.5-1h0m2.5 .5h0m1.5-.5h0m.5-1h0m1 1h0m2.5 0h0m.5-1h0m.5 1h0m1.5 1h0m1.5-1.5h0m1 2h0m.5-1h0m1-.5h0m.5 .5h0m.5-1.5h0m0 2h0m.5 2h0m.5-2h0m0 .5h0m.5-1.5h0m0 1.5h0m1.5-.5h0m0 .5h0m0 3h0m.5-4h0m.5-1.5h0m.5 4h0m0 0h0m.5-1.5h0m.5-1h0m0 2.5h0m0 1h0m1-3.5h0m0 1h0m.5 0h0m.5 1h0m0 2h0m.5-4.5h0m2 2h0m.5-1.5h0m0 3.5h0m.5-5h0m.5 5.5h0m1-2h0m1-2.5h0m.5 1.5h0m0 3h0m1.5-5h0m0 4.5h0m.5-5h0m0 3h0m2 .5h0m0 2h0m.5-5.5h0m1.5 2h0m0 .5h0m0 2.5h0m.5-4.5h0m1-.5h0m.5 3.5h0m1.5-3.5h0m0 3.5h0m.5-1.5h0m1-1h0m2 .5h0m1.5-.5h0m3-1h0m1 0h0m3.5 1h0m2-.5h0m-255.5 8h0m173.5 2.5h0m.5 0h0m1.5-1.5h0m.5-.5h0m2-2h0m0 1.5h0m.5 0h0m.5 1.5h0m1.5-3h0m1-.5h0m0 2h0m.5 1.5h0m.5-1.5h0m2-1h0m1-.5h0m0 2.5h0m3-3h0m1 1h0m29.5-1.5h0m0 0h0m3 .5h0m25-.5h0m1 2h0m1.5-.5h0m.5-1.5h0m1 1.5h0m1-1h0m1.5 .5h0m0 1.5h0m1 1.5h0m.5-4h0m.5 1.5h0m-89.5 9.5h0m.5 0h0m2.5-1.5h0m0-.5h0m1-1.5h0m.5 0h0m1-1h0m.5 0h0m0-.5h0m0 .5h0m76 5h0m3.5-.5h0m1 .5h0m2-1.5h0m3 1.5h0m2 0h0m2.5-.5h0m3 0h0m1 0h0m2 0h0m-18.5 5h0m.5-1h0m.5-1.5h0m.5 2h0m0-.5h0m0 1.5h0m.5 .5h0m.5-4h0m0-.5h0m.5 1.5h0m1 2h0m0-1h0m.5-3h0m0 1.5h0m.5-1h0m0 3h0m.5-.5h0m0 2h0m.5 0h0m.5-5h0m0 2h0m0-2h0m0 1.5h0m.5 4h0m0 0h0m.5-2h0m0 0h0m1.5-2h0m.5-1h0m0 1.5h0m0 3h0m0-.5h0m.5-1h0m0 0h0m.5-3.5h0m0 2.5h0m.5 2.5h0m.5-4h0m0 1h0m1 1h0m0-3h0m1 1.5h0m0 2.5h0m0-.5h0m.5-1h0m0-1.5h0m0 4h0m1-1.5h0m0 1h0m.5-2h0m.5-1h0m0 3.5h0m1-.5h0m.5-1.5h0m.5-1h0m-18 4h0m.5 1.5h0m1 1h0m.5-.5h0m0 1h0m1-1.5h0m.5-1.5h0m.5 0h0m0 1.5h0m0 1.5h0m1-.5h0m.5-1.5h0m0 2.5h0m.5-1.5h0m1 2h0m.5-3h0m.5 0h0m0-1h0m0 3h0m1-2.5h0m.5 2h0m1.5-1h0m0 1.5h0m1-3h0m0 2h0m.5 1h0m1-3h0m1 1.5h0" stroke="#4682b4" stroke-width="3.2" stroke-linecap="round"/><path d="M720.5 26h0m-91.5 5.5h0m82.5 8h0m1.5-1.5h0m-29 9h0m1-.5h0m1 1h0m2.5-.5h0m19-4h0m2-1h0m36.5 1h0m6-1h0m-74 10.5h0m1.5-1h0m2.5 0h0m1-2h0m.5 3h0m.5-4.5h0m0 2.5h0m1 1.5h0m0 1.5h0m1-4h0m1.5-.5h0m0 1h0m21.5-1h0m12 .5h0m21.5 3h0m.5 1h0m2-2.5h0m0 2h0m.5-2.5h0m1.5 1h0m1-.5h0m0 2h0m3-2h0m0 2h0m0 .5h0m0-5.5h0m.5 1.5h0m1 3.5h0m2-.5h0m.5-2h0m-224.5 7h0m63.5 1.5h0m82.5-2.5h0m.5 1h0m2-1h0m1.5-1h0m0 2h0m1-2.5h0m1-1h0m0 2h0m.5 2h0m53.5 .5h0m1.5-2.5h0m1 1.5h0m1-3h0m0 2.5h0m.5 2h0m.5-3.5h0m1 3h0m.5-4h0m1 1.5h0m1 2h0m.5-3h0m0 .5h0m2.5-1h0m.5 1h0m1.5-1.5h0m-154 6h0m2 .5h0m54.5 1.5h0m4 2.5h0m.5 0h0m1.5 .5h0m19-1.5h0m.5 1h0m.5-4.5h0m0 3h0m1.5 .5h0m.5-3h0m.5 1h0m1 .5h0m.5-2h0m1 4.5h0m1-1.5h0m2 2.5h0m3-2h0m1.5 0h0m2 0h0m0 1.5h0m5 .5h0m1 0h0m10-1h0m1.5-1.5h0m1-1h0m2-2h0m17.5 4.5h0m1.5-1h0m1 2h0m.5-4h0m.5 3h0m0 .5h0m.5-3.5h0m2.5 0h0m2-1.5h0m-72.5 9.5h0m.5-2h0m1 1h0m0 .5h0m.5 2h0m.5-2h0m.5-2h0m1-.5h0m.5 2.5h0m.5-3h0m1 2h0m1-2h0m0 4.5h0m.5-2.5h0m1.5-2h0m.5 1h0m.5 3h0m0 1.5h0m1-1h0m.5-2.5h0m0 3h0m1.5-5h0m0 3h0m1-1h0m.5 1.5h0m0 2h0m1-3h0m0 3h0m.5-5h0m0 2.5h0m1.5-1h0m0 3.5h0m.5-5h0m.5 2.5h0m1.5 .5h0m0 2h0m.5-3h0m1.5-2.5h0m.5 1h0m.5 4.5h0m1-3.5h0m0 1h0m2.5-3h0m.5 1h0m.5 3.5h0m1-1h0m1-3.5h0m.5 2.5h0m1 2h0m.5-2h0m1 3h0m.5-2.5h0m1-2.5h0m0 1.5h0m.5 2h0m1.5 0h0m1 1h0m1-2h0m2-2.5h0m3 4h0m.5-.5h0m2 0h0m0 1.5h0m2.5-2.5h0m1.5 2.5h0m.5-2h0m2.5 1h0m1-.5h0m1.5-2h0m0 3.5h0m1.5 0h0m1-3.5h0m1 1.5h0m.5 0h0m1.5-2h0m1 2.5h0m.5-3h0m1-.5h0m.5 1h0m.5-1.5h0m1.5 4.5h0m-94 7h0m20 0h0m2 0h0m1.5-1.5h0m0 1h0m2-1.5h0m1-.5h0m.5 2h0m1.5-2.5h0m.5 1h0m0 1.5h0m.5-4.5h0m0 1h0m2.5-1.5h0m0 1h0m0 2h0m0 2.5h0m1-3.5h0m0 2h0m1.5-.5h0m.5-3h0m0 1h0m1.5 0h0m.5-1h0m.5 3h0m1 1.5h0m.5-3.5h0m0 2h0m2 2h0m.5-3.5h0m0 1.5h0m1-2.5h0m.5 2h0m1.5 1h0m2.5 0h0m0 1.5h0m1.5-1h0m.5-4.5h0m.5 2.5h0m0 2.5h0m1-2h0m1-1.5h0m.5 4h0m1-2.5h0m1-2.5h0m1 0h0m0 3h0m.5-2h0m1 1.5h0m1-1h0m.5-2h0m.5 3h0m1-2h0m.5-.5h0m0 4.5h0m1.5-3.5h0m.5 3.5h0m.5-3.5h0m1-1.5h0m0 5h0m.5-4h0m.5 3h0m0 1h0m1.5-3h0m.5 3h0m1-1.5h0m1.5-2h0m0 3.5h0m.5-4.5h0m.5 3h0m1-2.5h0m.5-.5h0m.5 5h0m.5-3.5h0m0 1.5h0m2-.5h0m.5-1.5h0m0 2.5h0m2-2h0m0 1h0m.5-1.5h0m1.5-1.5h0m0 5h0m1.5-2h0m.5-3h0m0 5.5h0m.5-1h0m1.5-2.5h0m.5-.5h0m.5 1.5h0m.5 2.5h0m1-1.5h0m.5 1h0m.5-5h0m0 1h0m1.5 3h0m0 1h0m1.5-1h0m.5-4h0m.5 1h0m0 4h0m1 .5h0m.5-1.5h0m.5-4h0m0 1h0m1.5-.5h0m0 4h0m0 0h0m1.5-1.5h0m11.5 1h0m-112 5.5h0m1.5-1h0m.5 2.5h0m.5-3h0m0 2h0m1.5-3h0m1 4h0m.5-1.5h0m.5-1.5h0m1.5-2h0m0 5h0m.5-1h0m.5-2h0m0 1.5h0m.5 2h0m1-3.5h0m1-1.5h0m1 2.5h0m.5 1h0m.5 1h0m.5-4.5h0m1.5 2h0m0 1.5h0m1 1h0m1-4h0m0 2h0m1.5-.5h0m1 0h0m1 .5h0m0 1.5h0m.5-3.5h0m1 4.5h0m.5-2.5h0m1.5-2.5h0m.5 5h0m1-1.5h0m0 1h0m1-3h0m0 3.5h0m1-3.5h0m0 1.5h0m1.5-1h0m0 0h0m0 3h0m1.5-1.5h0m1.5-4h0m0 1h0m0 4.5h0m.5-4.5h0m.5 2.5h0m.5 1.5h0m1-1.5h0m0 2h0m1.5-4.5h0m.5 2h0m.5-1h0m.5 3.5h0m1.5-2h0m1-2h0m0 1h0m1-2.5h0m0 1h0m0 4h0m1.5-1.5h0m1-2h0m1-1h0m0 3h0m.5 1h0m.5-2h0m.5-1.5h0m1.5 3.5h0m1-3.5h0m0 1.5h0m.5 2.5h0m1-5h0m0 3h0m1 2.5h0m1-1.5h0m.5-1.5h0m.5 1h0m1.5-1.5h0m2 1.5h0m.5-1.5h0m1.5-1.5h0m1.5-.5h0m.5 3.5h0m1 .5h0m0 1h0m1-5h0m1 2h0m0-.5h0m3.5 0h0m1 3h0m2 .5h0m.5-1.5h0m.5-1.5h0m0 1.5h0m1-2h0m1.5-.5h0m0 4h0m2-5h0m0 5h0m.5-1.5h0m.5-2h0m.5 2.5h0m.5-2h0m0 3h0m1.5-4.5h0m0 3h0m1 2h0m1-4h0m0 2.5h0m.5 1.5h0m1-5h0m0 3h0m2-2h0m0 2h0m0 1.5h0m.5-3h0m1.5 1.5h0m1-1.5h0m1-2h0m.5 2.5h0m1.5-1h0m.5 1.5h0m1.5-2h0m.5 1h0m0 2h0m2 1h0m.5-3h0m0 2.5h0m1.5-1.5h0m1 1.5h0m1-2.5h0m.5 1.5h0m.5 .5h0m0 1h0m1-4h0m1 2h0m0 2h0m-100.5 2h0m1 1.5h0m0 2.5h0m1-5h0m0 2h0m0 1h0m1-1.5h0m.5 2.5h0m1.5-3.5h0m.5 5h0m.5-2h0m1.5 1.5h0m.5-3.5h0m0 4h0m.5-1.5h0m1-4h0m0 1.5h0m0 1.5h0m2-1h0m1 1.5h0m1-2.5h0m0 4.5h0m1-2h0m0 2h0m1-4.5h0m1-1h0m0 3.5h0m1-2h0m0 3.5h0m1.5-2.5h0m1.5 0h0m0 3h0m1-4h0m1 2h0m1-3h0m0 2.5h0m0 2h0m.5 0h0m.5-3h0m1 1h0m.5 1.5h0m1.5-2.5h0m.5 .5h0m1 3h0m.5-4h0m.5 1h0m0 2.5h0m.5-3h0m1.5 .5h0m.5 2.5h0m1-3h0m.5 .5h0m1-1h0m.5 1.5h0m1-1h0m.5 2h0m1.5-3h0m0 4.5h0m1.5-2h0m.5-2.5h0m.5-1h0m0 5.5h0m.5-2h0m.5 1.5h0m1-1.5h0m1 1.5h0m1-4h0m.5 2.5h0m1 1h0m1-1.5h0m1-1h0m0 1h0m1.5 2h0m.5-4h0m.5 3h0m1.5-4h0m.5 1.5h0m0 4h0m.5-2h0m1-2h0m1 2h0m0 1.5h0m.5-4h0m1.5 2.5h0m0 1h0m.5-2.5h0m1 3.5h0m1.5-2.5h0m.5 2h0m.5-4.5h0m1.5 3h0m2 1.5h0m2.5-5h0m0 3h0m.5-2h0m0 2h0m2 .5h0m2 0h0m0 2h0m.5-4h0m1 .5h0m0 3h0m1.5-.5h0m.5-2h0m.5 1.5h0m1-2h0m0 3.5h0m1.5 0h0m2.5-3.5h0m0 1.5h0m0 2h0m1-2h0m.5 1.5h0m.5-3h0m1.5 1.5h0m.5-1.5h0m.5-2h0m0 5.5h0m1-3h0m0 3h0m.5-4.5h0m.5-1h0m.5 3.5h0m1.5-3h0m.5-.5h0m1.5 4.5h0m.5-4.5h0m0 1h0m.5 2.5h0m3 1.5h0m1.5-1h0m1.5-.5h0m1-2h0m-96.5 6h0m.5-1.5h0m2.5 2h0m1.5 2h0m.5 1h0m.5-3h0m1 1.5h0m.5-.5h0m0 1.5h0m.5-4.5h0m.5 .5h0m0 4.5h0m1-4h0m.5 1.5h0m1.5-1h0m0 3h0m1.5-1h0m0 2h0m.5 0h0m.5-2h0m.5-2h0m1-1h0m.5 3.5h0m0 1.5h0m1-4h0m1 2h0m.5 1.5h0m1-3h0m.5 .5h0m.5 3h0m.5-5h0m1 2.5h0m.5 2.5h0m.5-2.5h0m.5-2h0m.5 4h0m2-4h0m0 2.5h0m0 2h0m.5-4h0m.5 1h0m1.5-.5h0m1 1h0m1.5-1h0m0 3.5h0m.5-2h0m.5 2h0m.5-5.5h0m.5 3h0m.5-3h0m.5 .5h0m1.5 .5h0m1 3h0m.5-2h0m0 .5h0m0 2.5h0m1 0h0m1-3.5h0m1 0h0m.5 1.5h0m0 1.5h0m2-2.5h0m0 3.5h0m1-1h0m.5-4h0m0 3h0m1-3.5h0m1 5h0m1-3.5h0m.5 1h0m1 2h0m.5-4h0m.5 4h0m.5-3.5h0m0 1.5h0m1 1h0m1.5-3h0m1 4h0m1-2h0m2.5-.5h0m.5 3h0m.5-1h0m1-1h0m.5-1.5h0m0 3.5h0m2-5h0m0 .5h0m.5 4.5h0m1 .5h0m.5-2h0m.5-2h0m1 1h0m0 3h0m.5-5.5h0m1.5 0h0m0 1h0m.5 1.5h0m.5-2h0m.5 2h0m.5 3h0m1.5-4h0m1.5 0h0m0 1.5h0m0 2.5h0m1 0h0m1.5-3h0m1 0h0m.5 2.5h0m1 .5h0m1.5 0h0m1-3.5h0m.5 2.5h0m2-2.5h0m0 1.5h0m2-3h0m0 2h0m1 2h0m.5-4h0m.5 4.5h0m1-5h0m0 1.5h0m0 2h0m1 1.5h0m1-2.5h0m1-1h0m1-1h0m1 2h0m1-1.5h0m2 0h0m18 2h0m-209.5 6.5h0m2 2h0m98.5-5h0m1.5 3h0m1-2h0m0 3h0m2-1h0m.5-1.5h0m0 3.5h0m1-3h0m0 2.5h0m1-3.5h0m.5 3.5h0m.5-2.5h0m.5-2.5h0m1 4h0m0 .5h0m2-3h0m0 1h0m.5-1.5h0m.5 3h0m1.5-1.5h0m0 1.5h0m1-1h0m.5-1.5h0m.5 0h0m1 3h0m.5-3.5h0m.5 4h0m.5-2.5h0m1 2.5h0m.5-4.5h0m1 2h0m.5-1.5h0m1.5 2.5h0m1 2h0m1-4.5h0m.5 1.5h0m.5-1h0m0 3.5h0m1.5 .5h0m.5-3h0m1.5 1h0m.5-3.5h0m0 1h0m.5 4h0m1-2.5h0m1 2h0m.5-3h0m.5 3.5h0m.5-4h0m0 1.5h0m0-.5h0m1.5-2h0m.5 4.5h0m.5-2h0m.5 3h0m.5-5h0m2 3h0m1-2.5h0m.5 2.5h0m.5-2h0m1.5 2h0m.5-2h0m0 4h0m1.5-3h0m.5 2.5h0m1-1.5h0m1.5-.5h0m0 1.5h0m2-1h0m0 1h0m1-3.5h0m1 2.5h0m.5 2h0m1.5-4.5h0m.5 4h0m.5-1.5h0m.5-2.5h0m.5 4.5h0m3-1.5h0m0 1.5h0m1-4.5h0m.5 3.5h0m.5-3h0m1 4h0m.5-3h0m.5-1h0m2.5 3.5h0m1-3.5h0m0 3.5h0m1-2.5h0m1 3h0m1.5-2h0m1 2h0m.5-.5h0m.5-2.5h0m1-1h0m0 2h0m2.5-1h0m1 2.5h0m1.5-2h0m.5-2.5h0m0 3.5h0m1.5-1h0m.5-2h0m2 2.5h0m.5-2.5h0m1 0h0m.5 2.5h0m1.5-2.5h0m.5 3.5h0m1.5-1h0m0 1h0m2 0h0m.5-3h0m0 2h0m-187.5 3h0m97.5 1.5h0m0 2h0m1.5 1.5h0m.5-5h0m1 1.5h0m.5-1h0m1 0h0m0 3.5h0m1-2h0m1.5 .5h0m0 2.5h0m1-5h0m.5 4h0m.5-4h0m1 2.5h0m.5-2h0m0 4.5h0m.5-2h0m1 .5h0m1-3.5h0m0 3h0m1.5 .5h0m.5-3h0m0 2h0m.5 2h0m.5-4.5h0m2 2.5h0m0 2h0m1-5h0m.5 2.5h0m0 2.5h0m1-5h0m.5 4.5h0m.5-1h0m1.5-2.5h0m.5 4.5h0m2-.5h0m.5-3h0m0 .5h0m2 1h0m0 1h0m.5-3h0m0 .5h0m.5 3h0m.5-4.5h0m.5 3h0m1.5-3h0m1.5 3h0m.5-2.5h0m2 2h0m.5-2h0m0 3.5h0m1-1h0m.5-2.5h0m0 4h0m1.5-5h0m0 3h0m1 1.5h0m.5-4h0m.5 3h0m1 1.5h0m1-4h0m0 4h0m.5-3h0m1-1.5h0m0 3h0m.5-2.5h0m.5 4h0m1.5-3h0m0 2h0m.5-1h0m.5-1.5h0m1 .5h0m0 3.5h0m1-5.5h0m1 .5h0m0 2h0m.5 2h0m1 0h0m.5-1.5h0m.5-2h0m1 3.5h0m1-4h0m2.5 3.5h0m.5-2h0m.5-1.5h0m.5 2.5h0m0 2h0m1.5-.5h0m.5-4h0m.5 2h0m1.5-1h0m0 2.5h0m1.5-2h0m.5-.5h0m.5 3h0m.5-3h0m.5 .5h0m.5 2.5h0m2-3.5h0m.5 1h0m1.5 2h0m1-2h0m0 2.5h0m.5-3h0m.5-1.5h0m1 3.5h0m1-2.5h0m0 4h0m.5-2.5h0m.5-2h0m.5 4h0m1 1h0m.5-2.5h0m1-2h0m.5 3.5h0m.5-4.5h0m0 3h0m1-.5h0m1 2h0m1.5-2h0m.5-2.5h0m1 1.5h0m1-.5h0m0 3.5h0m1.5-4h0m0 2h0m1 .5h0m2.5 .5h0m.5 .5h0m1-2.5h0m0 2h0m1.5-1.5h0m3.5 3h0m1.5-2.5h0m0 3h0m1.5-2.5h0m1 1.5h0m-99.5 2.5h0m1.5-1h0m0 2h0m.5 2h0m1-1.5h0m0 2.5h0m1-3.5h0m1.5-1h0m.5 2.5h0m1-2.5h0m.5 2h0m0 2.5h0m1.5-1h0m.5-1.5h0m.5-1h0m1-.5h0m0 1h0m0 2h0m2-2h0m.5 3.5h0m.5-5h0m1 2h0m0 1.5h0m.5-4h0m1.5 1h0m0 1.5h0m.5 2.5h0m1-4.5h0m.5 5h0m1.5-4h0m0 3h0m1-2.5h0m.5 3.5h0m1-4.5h0m0 2.5h0m1-2.5h0m1 1h0m.5 2.5h0m1-3h0m1 4h0m1-4h0m.5 1.5h0m0 1.5h0m1-2h0m0 2.5h0m.5-4.5h0m2 3.5h0m.5-3h0m0 2h0m1.5 1h0m.5-1h0m.5-2h0m0 4h0m1-4h0m.5 1h0m.5 0h0m.5-1.5h0m2.5 1h0m0 2h0m.5 1.5h0m.5-.5h0m1-2.5h0m1.5 1.5h0m.5 .5h0m2-.5h0m.5 1.5h0m1-2.5h0m0 2.5h0m1-4.5h0m.5 4h0m1.5-3.5h0m0 1h0m1-1.5h0m0 3.5h0m1.5-1.5h0m1-1.5h0m1.5-.5h0m2 0h0m4.5 1h0m1.5-1h0m1 .5h0m3.5 .5h0m2-1h0m3 1.5h0m.5-.5h0m.5 1h0m1 1.5h0m1-3.5h0m0 2h0m.5 2.5h0m.5-4h0m1.5 2h0m.5-1.5h0m.5 3.5h0m-75.5 1h0m0 3.5h0m1.5 1.5h0m.5-5h0m0 2.5h0m1.5-1.5h0m.5 1h0m.5 1.5h0m.5-2.5h0m0 2.5h0m1.5-1.5h0m1-1.5h0m0 2.5h0m1 1h0m.5 1h0m1-2.5h0m1-1.5h0m0 3h0m.5-2h0m1-.5h0m1 .5h0m.5 2.5h0m1-4.5h0m0 2h0m0 2h0m3-3h0m0 2.5h0m1.5-.5h0m.5-1.5h0m.5 .5h0m.5-1h0m2-1h0m1.5 1h0m2-1h0m6 0h0m2.5 1h0m1.5-1h0m1.5 0h0m.5 3h0m2-.5h0m1-2h0m1.5 1.5h0m2.5-2h0m25 0h0m1 3h0m1-2.5h0m.5-.5h0m1 3.5h0m115.5 1.5h0m1.5-1.5h0m.5 .5h0m0-.5h0m0 0h0m1-1h0m1-.5h0m1 0h0m.5-.5h0m1.5-.5h0m.5 0h0m-194.5 6h0m.5 4h0m1.5-5h0m0 3h0m0 2h0m1-2.5h0m.5 2h0m.5-3.5h0m.5 1.5h0m.5 1.5h0m1 1.5h0m.5-3.5h0m.5-1.5h0m.5 4h0m25.5 0h0m2-2h0m1 .5h0m1.5-1h0m.5 0h0m0 0h0m.5 2h0m0 0h0m134-2h0m1.5 1.5h0m.5-2h0m0 2.5h0m2-1h0m1 1.5h0m2.5-1h0m0 0h0m1.5-1.5h0m.5 .5h0m2.5-2h0m0 0h0m0 0h0m.5 .5h0m1.5-1h0m-189 11h0m1-5h0m1.5 1h0m0 1.5h0m.5 2h0m1-4h0m.5 2h0m1-.5h0m.5 3h0m.5 .5h0m.5-5.5h0m1 4.5h0m.5-2h0m.5 1.5h0m33.5-2h0m.5 2.5h0m134-4.5h0m1.5 .5h0m0 2h0m.5 1.5h0m1.5 1h0m1-1.5h0m0 2h0m.5-2.5h0m1.5 1.5h0m1 .5h0m2 0h0m3.5 0h0m7-1h0m1.5 1h0m1.5-.5h0m1-2.5h0m0 1.5h0m1.5 1.5h0m1.5-2h0m0 1h0m1-2.5h0m.5 0h0m0 .5h0m2 3.5h0m.5-5h0m0 4.5h0m.5-3h0m1.5 1h0m1-.5h0m0 1.5h0m1.5 0h0m2 .5h0m1-1.5h0m0 1h0m2.5 1h0m.5-2h0m1 1h0m-325 7.5h0m.5-4h0m2 4h0m1-4h0m1.5 2h0m96.5 1.5h0m1-1.5h0m1.5 1.5h0m.5-2.5h0m.5 1h0m.5-3h0m.5 0h0m0 3.5h0m.5-2h0m2 1h0m.5-3h0m0 2.5h0m.5-.5h0m1-1.5h0m0 3.5h0m.5 1.5h0m1 0h0m.5-.5h0m.5-3h0m.5 .5h0m.5 1h0m.5-2.5h0m.5 1.5h0m34-2.5h0m115 5.5h0m2 0h0m3.5-1h0m1.5 .5h0m3 0h0m1.5 0h0m2-1h0m1.5-.5h0m0 1h0m1.5 1h0m.5-2h0m1-1h0m.5-2.5h0m.5 4.5h0m.5-2.5h0m1 .5h0m1-1h0m0 2h0m1 .5h0m1-1.5h0m2 0h0m.5 3h0m1-1h0m2-2h0m0 2h0m1 0h0m1.5-3.5h0m.5 0h0m0 2.5h0m1-.5h0m0 2.5h0m.5-4.5h0m1 4h0m.5-2.5h0m1-2h0m2.5 3.5h0m.5-3.5h0m1.5 2.5h0m0 1h0m.5-3.5h0m1 1.5h0m.5-.5h0m.5 2.5h0m.5 .5h0m.5-2h0m3-1.5h0m0 3.5h0m.5 .5h0m1-3.5h0m1 3h0m1-3.5h0m.5 1h0m1.5-2h0m0 2.5h0m1-1h0m3-1h0m6.5 2h0m.5 0h0m1.5-.5h0m0-1h0m1.5-.5h0m1 0h0m1 0h0m.5 .5h0m2.5 0h0m-336.5 5.5h0m3.5 .5h0m92.5 3.5h0m.5-2h0m0 2.5h0m1.5-2h0m1-.5h0m0 1.5h0m.5-2h0m1.5-2h0m1 2h0m.5 2h0m.5-3.5h0m.5 3.5h0m1-2.5h0m2-1h0m0 2.5h0m.5 0h0m.5-.5h0m.5 1h0m1-1h0m1-2h0m2 1.5h0m151.5 1h0m1-.5h0m1 1.5h0m1-4h0m.5 5h0m.5-2h0m.5-1.5h0m0 2h0m2-3h0m0 2.5h0m1-.5h0m0 2.5h0m.5-4h0m.5 4.5h0m.5-3h0m0 2h0m2.5-2.5h0m2 .5h0m0 2.5h0m.5-4h0m1 2.5h0m1-3.5h0m.5 4h0m1.5-1.5h0m.5 3h0m.5-3.5h0m0 2h0m1-4h0m1.5 5h0m.5-4h0m0 1h0m1.5-1.5h0m0 1.5h0m0 3h0m1.5-3h0m2-2h0m.5 2.5h0m0 1.5h0m1-1h0m2.5-1.5h0m0 3.5h0m1.5-4.5h0m0 4.5h0m.5-2.5h0m2-2h0m0 4h0m.5-2h0m.5-1.5h0m0 3.5h0m1-2.5h0m1-1.5h0m.5 3.5h0m.5-2h0m.5-2h0m.5 2h0m.5 1.5h0m.5-2.5h0m1 3.5h0m1.5-3.5h0m0 2h0m.5 2h0m1.5-2.5h0m0 2.5h0m.5-3.5h0m1.5-1h0m1 1h0m2-1.5h0m-327 9h0m11-2h0m7-.5h0m0 2h0m.5-2h0m2.5 0h0m1.5 2.5h0m0 2h0m1-1h0m40-2h0m1 2.5h0m1 1h0m.5-2.5h0m1-2h0m1 2h0m1-1.5h0m1-1h0m1 3.5h0m1-1.5h0m0 1h0m1.5-2.5h0m1.5 3h0m1-2h0m0 2.5h0m1.5-1h0m.5 2h0m13 0h0m1.5 0h0m5-1h0m1-2h0m1 1.5h0m0 1.5h0m1 0h0m1.5-1h0m1-3.5h0m.5 2h0m2-1h0m.5-1.5h0m0 2h0m2-1h0m.5-1h0m2.5 1h0m1-.5h0m.5-1h0m.5 0h0m157 5.5h0m2.5-2h0m2-2h0m0 2h0m1.5-3h0m1 .5h0m.5 .5h0m3-.5h0m8 1.5h0m.5 1.5h0m.5-3h0m.5 1h0m0 2.5h0m.5-3.5h0m2 2h0m.5-2.5h0m0 1.5h0m0 2.5h0m.5 0h0m1.5-2.5h0m.5 3.5h0m.5-.5h0m1-2.5h0m.5 2.5h0m.5-4.5h0m1.5-.5h0m0 3h0m1.5-2h0m0 1.5h0m1.5 .5h0m0 .5h0m.5-2.5h0m1.5 0h0m1 1.5h0m1-2.5h0m1.5 3h0m1.5-2.5h0m.5 2h0m.5-2h0m1 1.5h0m.5 1.5h0m1.5-2.5h0m0 1.5h0m1.5-2.5h0m0 4.5h0m1.5-2h0m1.5 2.5h0m.5-4h0m.5 1.5h0m0 3h0m1-1.5h0m1-3h0m1 3h0m.5-3.5h0m0 2h0m1.5 3h0m.5-4.5h0m0 3h0m.5-1h0m1.5-2.5h0m0 3h0m.5-.5h0m3.5 1.5h0m-329.5 3.5h0m37 2.5h0m28 0h0m.5-2.5h0m.5 3.5h0m2-1h0m3-2.5h0m0 2.5h0m1 .5h0m.5-1h0m2.5-.5h0m.5 1h0m1-2.5h0m1.5 3.5h0m.5-1h0m1.5-3h0m0 2.5h0m.5 1.5h0m1-5.5h0m.5 4h0m1-3h0m1 .5h0m.5 2h0m1 .5h0m.5-3.5h0m2.5 0h0m0 4.5h0m5-4.5h0m0 1.5h0m3-2h0m194 0h0m25.5 0h0m4.5 0h0m0 1h0m1-1h0m2 2.5h0m1.5-2.5h0m0 1.5h0m1 3h0m.5-3.5h0m.5 .5h0m.5 2.5h0m1-1.5h0m1.5-2h0m0 3.5h0m0 1h0m.5-3h0m.5-1h0m1 3h0m.5 1.5h0m.5-4h0m.5 2h0m1.5 .5h0m0 1.5h0m-268 1.5h0m1.5-1h0m.5 1h0m0 2.5h0m2-3.5h0m2.5 1.5h0m2 0h0m.5 1.5h0m.5-1.5h0m0 3.5h0m1.5-3h0m.5 1.5h0m1.5 .5h0m0 1h0m1.5-3.5h0m1-1.5h0m.5 1h0m0 4.5h0m1.5-4h0m1.5-1.5h0m241.5 0h0m2.5 2h0m1-1.5h0m.5 2h0m3.5-1h0m-365 8.5h0m105.5-4h0m3.5 1h0m1.5 1h0m.5 2h0m2-1.5h0m230 3h0m-341 1.5h0m7 .5h0m336-.5h0m-421.5 9h0m51.5-3.5h0m8 4.5h0m21 8.5h0m22 4h0m.5-.5h0m1-5h0m1.5 5h0m1.5-.5h0m0 .5h0m0-.5h0m.5 0h0m1.5 .5h0m1 0h0m1 .5h0m.5 0h0m0 0h0m136-.5h0m-383.5 4.5h0m9.5-.5h0m226-2.5h0m10-.5h0m1.5 .5h0m1-.5h0m1 1.5h0m1 1h0m0-2h0m0 1h0m1 1h0m.5 0h0m0-.5h0m.5 0h0m1 2h0m.5 .5h0m0-.5h0m60.5 1.5h0m.5-1.5h0m0 1.5h0m.5-1h0m1-3h0m0 .5h0m69-2h0m0 2.5h0m3 .5h0m.5 2h0m.5-.5h0m2-2.5h0m1.5 0h0m.5 3h0m1.5-.5h0m1-.5h0m1.5-1h0m1 1.5h0m2 .5h0m2.5-.5h0m21.5-2.5h0m88 2h0m1-.5h0m1.5 1.5h0m-247 2.5h0m112.5 2h0m3 1.5h0m2.5-2.5h0m3.5 3h0m1-2.5h0m0 2h0m.5-5h0m.5 2.5h0m.5 2.5h0m.5-4h0m1.5 1h0m.5 3h0m.5-2h0m.5 1h0m1-3.5h0m1.5 4h0m.5-2.5h0m.5 .5h0m0 3h0m.5-5.5h0m0 5.5h0m1.5-3h0m.5 2h0m1-3.5h0m.5 4.5h0m.5-2.5h0m0 2h0m.5-4h0m1 1h0m.5-1.5h0m2.5 .5h0m.5 2.5h0m.5 .5h0m.5-2h0m1-2h0m1 0h0m0 2h0m0 2h0m1.5-2.5h0m.5-1.5h0m0 4h0m2.5-1.5h0m.5-1.5h0m0 2.5h0m0 .5h0m1.5-1.5h0m86.5 0h0m.5 3h0m.5-3.5h0m3.5-1h0m0 2h0m0 2h0m.5-2h0m2.5 2h0m.5-5h0m0 3h0m1 1h0m.5-4h0m0 5.5h0m1-3.5h0m1.5 1h0m.5-.5h0m1-2h0m0 1h0m1 4h0m1.5-3h0m1 1.5h0m1 1h0m4 .5h0m10.5 0h0m-165 2.5h0m7-1h0m4.5 .5h0m4 .5h0m1 2.5h0m1 1h0m1.5-5h0m0 1h0m.5 4h0m1 0h0m.5-5h0m1 3h0m.5-1h0m1.5-2h0m1 .5h0m.5 1h0m1.5 .5h0m0 1h0m1.5-3h0m0 1h0m2 3h0m1.5-2h0m1-2h0m0 1.5h0m0 3h0m3-1.5h0m.5-2.5h0m.5 4.5h0m.5-2h0m1.5-3h0m.5 4.5h0m.5-5h0m0 2h0m86 3h0m2-1.5h0m1 0h0m.5-2h0m.5 4h0m2-4h0m0 2.5h0m.5 1.5h0m1.5-2h0m.5-3.5h0m0 .5h0m.5 2.5h0m.5-1h0m0 3.5h0m2-2h0m0 1.5h0m1-5h0m.5 1h0m2 3h0m.5-2h0m.5 3h0m1-3h0m1-1.5h0m1 4.5h0m1-5h0m0 1.5h0m0 3.5h0m1.5 0h0m.5-4.5h0m1 3.5h0m1.5-2.5h0m1 2.5h0m.5-2.5h0m1.5 3h0m1.5-.5h0m.5 1h0m.5-4h0m.5 3h0m1.5-2h0m.5 1h0m1.5-.5h0m1.5-2.5h0m1 3h0m0 2h0m1-3h0m.5 1.5h0m2 1.5h0m.5-1.5h0m1.5-2h0m0 1.5h0m.5-2h0m0 4h0m1.5-1.5h0m0 2h0m-556 5h0m190-4h0m202 5h0m7.5-5.5h0m1.5 1.5h0m3.5 2.5h0m1.5 .5h0m1-2h0m3.5-.5h0m3.5 2h0m2.5-3h0m2-.5h0m91.5 4.5h0m1.5 .5h0m.5-2.5h0m1.5 .5h0m.5-2h0m1-1.5h0m0 5h0m1-3.5h0m0 2h0m0 2h0m3-3h0m.5 3h0m.5-4h0m2 3.5h0m.5-5h0m1 1h0m0 3.5h0m1.5-.5h0m.5-2h0m1 3.5h0m.5-5.5h0m.5 .5h0m0 2h0m1-.5h0m0 .5h0m1 3h0m1.5-4h0m1 1.5h0m1-2.5h0m0 2h0m2.5-.5h0m1.5-1.5h0m2 1h0m.5-1.5h0m1 1.5h0m1.5-.5h0m1-1h0m2.5 0h0m1.5 3.5h0m1 2h0m-156.5 .5h0m10 0h0m1 2.5h0m0 2h0m1.5-3h0m0 2h0m.5-2.5h0m1 3h0m1-3.5h0m0 2h0m.5-.5h0m.5 2.5h0m97-.5h0m.5 0h0m2-.5h0m.5 1.5h0m.5-5h0m0 1h0m.5 1.5h0m2-1.5h0m2 .5h0m0 3h0m1-3.5h0m0 2.5h0m1-.5h0m0 1.5h0m1.5-4h0m0 1.5h0m.5 3.5h0m.5-5h0m1.5 3.5h0m.5-3h0m2 1.5h0m0 3h0m1-2h0m1-2h0m1 1.5h0m0 1.5h0m.5-3.5h0m0 4.5h0m3-3h0m0 1.5h0m.5-2h0m.5 0h0m.5 1.5h0m0 2h0m1-1.5h0m1.5 1.5h0m2 0h0m16-4h0m4 4h0m-407.5 3h0m216.5 0h0m0 0h0m2.5 1h0m0-1h0m1.5 1h0m0 0h0m.5 .5h0m2 1h0m32.5-5h0m.5 .5h0m83 5h0m2-1.5h0m.5 .5h0m15-2.5h0m0 2.5h0m.5-2.5h0m2-1h0m.5 2h0m.5 1h0m.5-2h0m.5-2h0m0 1.5h0m.5 4h0m1-4h0m0 .5h0m1 .5h0m0 3h0m1.5-4h0m.5 3.5h0m.5-2h0m1 1.5h0m1.5 0h0m.5-1.5h0m1.5 .5h0m1-2h0m2-1h0m0 4.5h0m.5 0h0m.5-5h0m2.5 4.5h0m1.5 0h0m.5-1h0m1-2.5h0m0 2h0m.5 2.5h0m1.5-.5h0m1.5-4h0m1 .5h0m0 1.5h0m1-1h0m0 2h0m.5 1.5h0m1-5h0m1-.5h0m.5 2.5h0m.5 3h0m1-2.5h0m.5 2.5h0m.5-3h0m1 3h0m1.5-3.5h0m1.5-.5h0m.5 1h0m2-1h0m0 1h0m0-1.5h0m2.5-.5h0m1.5 1h0m.5-1h0m3-.5h0m1 .5h0m-494 9h0m47.5-.5h0m121.5-3h0m48 4.5h0m3.5-2h0m2.5 1.5h0m1 1h0m1.5-3.5h0m0 2.5h0m1 1h0m.5-2h0m1-2.5h0m0 1h0m1.5 4h0m.5-4.5h0m0 4.5h0m.5-5.5h0m0 2.5h0m1 0h0m1-2h0m.5 1h0m1 1.5h0m1 2.5h0m3.5-1h0m73-4.5h0m112.5 0h0m21.5 .5h0m1.5 .5h0m2 2.5h0m0 1.5h0m1.5-1.5h0m1-3h0m1 2h0m.5-2h0m0 3.5h0m1.5-2h0m.5 2.5h0m1-2h0m.5 3h0m1-5h0m.5 4.5h0m.5-3.5h0m1 1h0m1.5 .5h0m1.5-2h0m0 2.5h0m2.5 0h0m0 1.5h0m1.5-5h0m0 2h0m.5 2.5h0m.5-4h0m0 4.5h0m.5-2h0m2 2h0m.5-4h0m1.5 1.5h0m.5-1.5h0m.5 3h0m1.5 0h0m.5-.5h0m1 1h0m.5-2.5h0m.5-2h0m1 4h0m1-2.5h0m1 1h0m.5 2h0m.5-4.5h0m.5 2.5h0m1 2h0m.5-.5h0m1.5-2.5h0m1 4h0m.5-3h0m1 1.5h0m3.5-.5h0m1 1h0m3 .5h0m-323.5 1.5h0m46.5 1h0m2.5 0h0m0 1.5h0m2.5 0h0m1-3h0m.5 1h0m1.5 .5h0m0 1h0m1.5 0h0m0 2h0m1-3.5h0m0 4.5h0m.5-2.5h0m.5-1.5h0m2.5-1h0m.5 2.5h0m1-1.5h0m.5 3h0m1.5-2.5h0m0 .5h0m2-2.5h0m0 5h0m.5-4h0m0 2.5h0m1.5-2.5h0m2 .5h0m1-1.5h0m112 .5h0m1-.5h0m96 1h0m1-1h0m2 0h0m2.5 1h0m1.5 0h0m5 2.5h0m.5-1.5h0m1-1h0m1.5 1h0m.5 2h0m1-2.5h0m1.5 1.5h0m.5 .5h0m0 1.5h0m.5-4.5h0m1 3.5h0m1 0h0m.5-1h0m1-1h0m.5 2.5h0m1.5 1h0m1-5.5h0m0 5.5h0m.5-3.5h0m1 .5h0m.5 1.5h0m1.5-2.5h0m0 1.5h0m0 1h0m2-.5h0m1 .5h0m1-3h0m0 3.5h0m1-4.5h0m.5 2.5h0m0 3h0m1-4.5h0m0 3.5h0m1.5-1h0m1 2h0m.5-3h0m0 2h0m.5-4h0m1.5 2h0m0 2h0m2-4.5h0m.5 2.5h0m.5 3h0m.5-3.5h0m.5-1h0m0 4h0m1.5-4h0m0 1h0m0 2h0m2-2h0m.5-1h0m1.5 1.5h0m1 1.5h0m2-1h0m.5 1.5h0m.5 0h0m65.5 0h0m1.5-1h0m3-1.5h0m-423.5 4h0m76 .5h0m1 2h0m1-.5h0m1.5 3.5h0m1-1h0m.5-2h0m1.5-.5h0m.5-1h0m0 4.5h0m1-2.5h0m0 1.5h0m1.5-1.5h0m.5 2.5h0m.5-5.5h0m1.5 3h0m.5 2h0m1.5-1.5h0m1 1.5h0m1.5-.5h0m1.5 .5h0m2.5 0h0m2.5 .5h0m101 0h0m2-1.5h0m1.5 1h0m1.5 0h0m.5-2.5h0m2 2.5h0m1-3h0m.5 3.5h0m1-3h0m.5-1h0m1 4h0m1-4.5h0m1 0h0m0 2.5h0m1 2h0m1-4h0m.5 1.5h0m0 2.5h0m1.5-5h0m.5 2h0m1 2h0m2 1h0m1-2h0m1 0h0m0 1.5h0m1.5 0h0m1 .5h0m.5-3h0m1.5 2.5h0m.5-1.5h0m.5-.5h0m1.5 1.5h0m1.5-1h0m1 .5h0m2 1h0m1 0h0m3-.5h0m1-.5h0m2.5 1.5h0m2.5-3h0m0 2.5h0m2-2.5h0m1.5 2h0m1-1.5h0m14.5 2.5h0m2.5-.5h0m1-.5h0m2-1h0m1 0h0m1.5-.5h0m2-.5h0m46-2.5h0m.5 3.5h0m1-2.5h0m1.5 4h0m.5-3h0m12.5-2h0m3.5 .5h0m2.5 1h0m.5-1.5h0m1 2h0m1-.5h0m0 3h0m.5-2.5h0m1-2h0m.5 5h0m.5-2h0m1 .5h0m-278.5 6.5h0m2 .5h0m2.5 .5h0m2 0h0m0 0h0m2 .5h0m1.5-5.5h0m3 3h0m1 0h0m.5-2.5h0m1-.5h0m1 4h0m2-1h0m.5-1.5h0m1 .5h0m1.5-2h0m.5 3.5h0m1 1.5h0m.5-2h0m.5-2.5h0m1.5-.5h0m.5 5.5h0m1-.5h0m.5-4h0m1 2h0m1-3h0m.5 2h0m1-1h0m.5 2h0m0 2h0m1.5 .5h0m1.5-4.5h0m.5 0h0m0 1.5h0m86 2h0m1.5-.5h0m1.5-.5h0m1 1.5h0m1-2.5h0m1 2.5h0m.5-2h0m1 1h0m1-1.5h0m.5-1.5h0m.5 3.5h0m.5-4h0m0 2.5h0m2-1h0m0 2.5h0m1-1h0m1-2.5h0m2 1.5h0m.5-1.5h0m.5 3.5h0m.5-1.5h0m.5-2h0m0 4.5h0m1.5-2h0m0 2h0m1.5-2h0m.5-3h0m.5 5h0m1.5-5h0m0 1.5h0m1 2h0m1-.5h0m.5 1h0m2-2h0m.5 3h0m.5-4.5h0m1-.5h0m0 3h0m0 .5h0m1-2.5h0m.5 1.5h0m2 2h0m1-3.5h0m.5 0h0m0 1h0m1.5 2h0m1-2.5h0m.5-1.5h0m0 4.5h0m1-2.5h0m.5-2h0m.5 4.5h0m2-2.5h0m0 2h0m.5-3h0m1.5 2h0m.5-2.5h0m0 2h0m0 1.5h0m0 1h0m.5-4.5h0m2 4.5h0m.5-2h0m.5-2h0m1 1.5h0m1.5-2.5h0m.5 4.5h0m.5-2h0m.5-2.5h0m1 4.5h0m.5-3h0m2-2h0m0 1h0m0 2h0m0 1h0m1 1.5h0m3 0h0m2.5-1h0m4.5-.5h0m65.5-3h0m8 .5h0m7 4h0m9-5.5h0m1.5 .5h0m-286 9.5h0m18.5-4h0m3 0h0m2 1h0m1 1h0m1-1.5h0m0 2.5h0m0 1h0m1.5-3.5h0m.5 5h0m1-4h0m2 1.5h0m0 2.5h0m.5-3.5h0m.5-2h0m0 4h0m2 0h0m.5-3.5h0m.5 3h0m.5 1.5h0m.5-4h0m0 1.5h0m2-2.5h0m80.5 4h0m1.5 .5h0m2-1h0m2-.5h0m1 2h0m1.5-2h0m.5-3h0m0 5.5h0m1-2.5h0m0 1.5h0m2-2.5h0m0 3h0m1-5h0m.5 3h0m1 2.5h0m.5-5h0m0 2h0m1.5-1.5h0m.5 4.5h0m1-5h0m0 2.5h0m1 .5h0m0 1.5h0m1-5h0m0 4h0m1.5-1.5h0m.5-1.5h0m.5 3h0m1-3h0m0 1.5h0m.5 2.5h0m2-4h0m0 4.5h0m.5-2.5h0m1.5-1h0m0 3.5h0m1-5.5h0m0 4h0m.5-3h0m0 2h0m1.5-2.5h0m0 2h0m2-2h0m0 3.5h0m1 1h0m.5-3h0m1 .5h0m.5-2h0m0 4.5h0m2-2.5h0m0 1.5h0m.5-3.5h0m1.5 0h0m0 2h0m.5-2.5h0m0 2h0m0 3h0m1-.5h0m1-1.5h0m1-1.5h0m1 4h0m.5-.5h0m.5-4h0m0 2h0m1.5-2.5h0m.5 3h0m.5 1h0m1-1.5h0m0 2h0m.5-4.5h0m.5 2h0m2-2h0m.5 2.5h0m0 1h0m0 1h0m1-4.5h0m2-.5h0m0 3h0m0 2.5h0m1-2h0m0 1h0m1-3h0m0 4h0m.5-3h0m1.5-2.5h0m1 5.5h0m1-4h0m.5-.5h0m0 2.5h0m1.5 2h0m.5-2.5h0m.5-1.5h0m0 3.5h0m2.5-3.5h0m0 1h0m0 3h0m1-3.5h0m.5-.5h0m2.5-1.5h0m0 2.5h0m1.5-2h0m.5 3h0m76-1.5h0m1.5 1.5h0m12-2.5h0m2.5 0h0m2.5 .5h0m2 .5h0m1.5 .5h0m2 1h0m2.5 1.5h0m0 0h0m-366.5 4h0m82 .5h0m10.5-.5h0m3 1h0m.5-3.5h0m0 2.5h0m2-2.5h0m0 3h0m.5 1.5h0m1.5-5h0m0 2h0m1.5 1.5h0m1-2.5h0m2.5 1h0m1-1h0m0 1h0m1.5 0h0m1-2h0m2 2.5h0m1 2h0m1.5-2h0m.5 1.5h0m1.5 .5h0m1-2h0m2 .5h0m1 1.5h0m68.5-4h0m1 0h0m.5 3h0m3.5-3h0m.5 1.5h0m.5 .5h0m1-1.5h0m0 3h0m1.5-.5h0m1.5-2.5h0m1 3h0m.5-2h0m2-1.5h0m0 3.5h0m.5 1.5h0m.5-5.5h0m.5 3.5h0m.5 1h0m1.5 .5h0m.5-5h0m1 .5h0m.5 1.5h0m0 3h0m2-1.5h0m.5-3.5h0m0 4.5h0m2-4.5h0m0 3h0m.5-2h0m0 4h0m1.5-.5h0m1-1.5h0m.5-1.5h0m0 3h0m1.5-2h0m.5 2h0m1-3h0m.5-.5h0m.5 3h0m.5-.5h0m0 2h0m1-5h0m1.5 .5h0m0 4h0m1-2h0m0 1h0m1.5-2.5h0m1-1.5h0m.5 4.5h0m0 1h0m.5-3h0m0 2.5h0m1.5-4h0m0 1h0m.5 2h0m2.5-4h0m0 2.5h0m.5-1.5h0m0 4.5h0m3-3h0m.5-2.5h0m1 3h0m0 2.5h0m.5-2h0m.5-2h0m.5-1h0m.5 2.5h0m1 0h0m.5-2h0m1 4h0m1.5-5h0m1 5.5h0m1-3.5h0m.5-1h0m.5 1h0m1-1.5h0m1.5 .5h0m1.5 1.5h0m0 2h0m1 .5h0m1-2h0m1-2.5h0m.5 4h0m1-4h0m0 3.5h0m.5-2h0m2-.5h0m.5 1.5h0m0 1h0m1-4h0m1 5h0m1 0h0m1.5-2.5h0m2-2.5h0m1.5 3.5h0m0 1h0m2-.5h0m3 1h0m.5 0h0m72.5-4.5h0m1 .5h0m0-.5h0m.5 2.5h0m9 1.5h0m-256.5 1.5h0m100 4.5h0m1.5-3h0m1 1.5h0m1.5-.5h0m1.5 1h0m1.5-2h0m1 3.5h0m1.5-4.5h0m4-.5h0m1 2.5h0m2.5-1h0m.5 .5h0m3.5-1h0m1 3h0m.5-1h0m1 0h0m2.5-2.5h0m0 3h0m0 2h0m.5-3.5h0m2 1h0m0 2h0m2-2.5h0m1.5-2.5h0m0 2h0m0 3h0m2-4h0m.5 3.5h0m.5-3.5h0m.5 1.5h0m.5 1.5h0m2-3h0m0 1h0m.5-1.5h0m.5 3.5h0m.5-2.5h0m0 2.5h0m3-.5h0m.5-1.5h0m1-1h0m.5 4h0m2.5-5h0m0 2h0m2 1.5h0m1 2h0m1-3h0m0 2.5h0m.5-4h0m1.5 4.5h0m1.5-2h0m1.5-1.5h0m1 3h0m0 0h0m.5-5h0m0 2.5h0m2-2.5h0m0 5h0m0 .5h0m.5-3.5h0m2-.5h0m.5 2h0m1 1h0m2-2.5h0m.5 0h0m1.5 2h0m.5-3.5h0m.5 2h0m1.5 1.5h0m.5-2.5h0m9-1.5h0m1 0h0m.5 0h0m67.5 2h0m11-1h0m0 .5h0m2 .5h0m-351 4h0m1 2h0m108.5 0h0m1.5-.5h0m3 2h0m71.5 .5h0m1.5-1.5h0m1.5 2h0m1.5-4.5h0m2.5 .5h0m1 1h0m1.5 0h0m1.5-.5h0m2-.5h0m1 1.5h0m.5-1h0m.5 2.5h0m1-1.5h0m.5 2h0m2-2h0m0 1.5h0m5.5 2h0m.5-.5h0m.5-1h0m1.5-2h0m.5 3.5h0m1-4h0m.5 2.5h0m0 1.5h0m.5-.5h0m3-1h0m1-4h0m1 2h0m.5-1h0m0 3h0m2.5-3h0m.5 3h0m0 1.5h0m2-1.5h0m3.5-4h0m.5 3.5h0m1 2h0m.5-2.5h0m.5-3h0m0 4.5h0m1 .5h0m.5-2.5h0m1.5-2h0m0 2.5h0m1.5-3h0m1 2h0m0 2.5h0m2.5-1.5h0m.5 .5h0m3.5-1.5h0m1 2h0m.5-4h0m.5 2.5h0m1.5 2h0m1-4.5h0m.5 2.5h0m0 1h0m1.5-2h0m1-1h0m3.5 2h0m-206.5 7.5h0m35.5 0h0m12.5 0h0m88.5-1.5h0m.5-2.5h0m19.5 0h0m0 2.5h0m2 2h0m.5-4.5h0m.5 .5h0m.5 1.5h0m.5 2h0m1.5 1h0m0 0h0m1-2h0m1-1h0m0 2.5h0m4-.5h0m.5-3.5h0m.5 1.5h0m.5-1.5h0m3 0h0m0 2h0m2-2.5h0m1 3.5h0m1.5 .5h0m.5 1.5h0m.5-4.5h0m2 3.5h0m.5-4h0m1.5 4.5h0m0 .5h0m.5-3h0m.5 2h0m2-2h0m.5 0h0m2.5-1.5h0m8-.5h0m.5 3h0m1 .5h0m22-3h0m2 3.5h0m0-.5h0m0-.5h0m1.5 .5h0m.5 0h0m0-.5h0m0 .5h0m1.5 .5h0m.5-1h0m0 .5h0m.5-1h0m1.5-.5h0m0 2.5h0m0 0h0m.5-3.5h0m0 0h0m0 3h0m0 .5h0m2-3.5h0m0 2h0m0 0h0m1-1.5h0m.5 .5h0m1-1h0m-146 7.5h0m67-3h0m5.5 0h0m1 .5h0m1.5 2h0m0 2h0m1.5-.5h0m.5-3h0m0 .5h0m1 4h0m1-4.5h0m0 2h0m1.5 .5h0m2-1.5h0m4-.5h0m1-.5h0m.5 1h0m1-1.5h0m1 .5h0m21 .5h0m2-1.5h0m15 4h0m-204 7h0m70-4h0m78.5 4.5h0m.5 0h0m2-1h0m0-1h0m.5 0h0m0 .5h0m1-3.5h0m2.5 2h0m1-2h0m1 .5h0m.5 .5h0m36.5 1.5h0m-160 5h0m111 .5h0m.5-.5h0m1.5-1.5h0m.5 0h0m7 3.5h0m1 1.5h0m33.5-4.5h0m.5 .5h0m2 1.5h0m2.5 1.5h0m0-.5h0m.5 .5h0m1 .5h0m1-.5h0m1.5 .5h0m4.5 .5h0m1.5-.5h0m.5-.5h0m1 0h0m.5 0h0m-310 7h0m261-4h0m0 0h0m0 1h0m0-.5h0m38 1h0m4.5-2.5h0m.5-.5h0m2.5 0h0m-300.5 9.5h0m177-2h0m79.5-1.5h0m1 .5h0m34.5-.5h0m-301 11.5h0m210-.5h0m10-1h0m90 10h0m0 1h0m3-3h0m0 0h0m.5 .5h0m1.5 .5h0m1.5 1h0m.5 0h0m1 1h0m0-.5h0m2.5 1.5h0m-352.5 5h0m32.5-1h0m190.5 3.5h0m118-.5h0m0 0h0m0 .5h0m0-3h0m.5 .5h0m0-2h0m.5-.5h0m-306 11h0m5.5-5h0m323 3h0m1 0h0m2.5 1.5h0m0 .5h0m2 1h0m.5 0h0m1 1h0m2.5 3.5h0m-210 5.5h0m40.5 1h0m117.5-2h0m1.5-1.5h0m1.5-.5h0m38.5 1.5h0m.5 0h0m0 2.5h0m-483.5 4h0m287-2h0m37.5 1h0m2.5-1h0m0 2.5h0m.5-3.5h0m1.5 3h0m33.5 0h0m2 1.5h0m5-3.5h0m114.5-1h0m0 2.5h0m.5 2h0m1.5-3.5h0m-1.5 6h0m-227 38.5h0m.5 1h0m125.5-3h0m0 .5h0m3 2.5h0m77.5 0h0m5.5-2.5h0m2-1h0m0 0h0m2-1h0m1-.5h0m.5 0h0m-141.5 16.5h0m14.5 .5h0m7.5 6.5h0m0 0h0m.5-.5h0m.5 .5h0m105.5-3h0m-252.5 5.5h0m141.5 1h0m1 0h0m1.5-1.5h0m0-.5h0m4-.5h0m0 .5h0m2.5 1h0m0 0h0m-92.5 6h0m70.5 3h0m1 0h0m2 .5h0m1.5-.5h0m0 0h0m0-1.5h0m.5 1.5h0m1.5-2.5h0m0 1h0m1-1.5h0m1-1h0m70 4.5h0m-76 .5h0m54.5 4h0m1 0h0m1.5-1h0m0 1h0m2.5-.5h0m2-.5h0m0 0h0m2.5-1h0m2-1h0m4.5-.5h0m1.5 0h0m1.5-.5h0m-81.5 11.5h0m1-.5h0m1-2h0m0 .5h0m1.5-2h0m.5 0h0m51-1.5h0m1 0h0m-62 11h0m1.5-1h0m0-.5h0m2-1.5h0m0 0h0m1-1h0m.5 0h0m.5-.5h0m0 .5h0m-6 5h0m49.5 20h0m0 3.5h0" stroke="#f28124" stroke-width="3.2" stroke-linecap="round"/><path d="M678 58h0m2-4h0m-26.5 9h0m41 1h0m1 .5h0m2.5 0h0m36.5-3.5h0m2-1h0m3.5 0h0m-80.5 6.5h0m1 0h0m3.5 1.5h0m14-1.5h0m11 0h0m0 4h0m3.5-3.5h0m13.5 3.5h0m17-.5h0m3-1.5h0m1 3h0m2.5-1h0m-46.5 4h0m2.5-1h0m5-.5h0m8.5 2.5h0m.5 1h0m5-4.5h0m.5 4.5h0m9-4.5h0m5 2h0m7 .5h0m6.5-.5h0m-90.5 4.5h0m30 0h0m6.5 2h0m3.5-2.5h0m1 1.5h0m2.5 3h0m3.5 1h0m1.5-2.5h0m1-1.5h0m1.5-.5h0m8.5 .5h0m3 4h0m2.5-1.5h0m8-2h0m4.5 3.5h0m10.5-3.5h0m3.5-1.5h0m2 1.5h0m-81 5.5h0m18-1h0m4 1h0m5 .5h0m5 3h0m4.5-5h0m2 3h0m1.5-1.5h0m6 2h0m.5-2.5h0m3-.5h0m7 .5h0m2 2.5h0m1.5-1.5h0m9.5 1h0m4.5-2.5h0m1 3h0m1-2h0m.5 0h0m1 4h0m-92.5 1.5h0m13-1h0m25.5 3h0m5 0h0m5.5 2.5h0m1-2h0m2.5-2h0m1 3h0m2.5-2.5h0m2 .5h0m7 2h0m3-.5h0m3.5-2h0m2-1h0m1 1h0m1.5 1h0m1.5 0h0m3.5 1.5h0m7.5-4.5h0m4 4h0m-71 4.5h0m1 2h0m3.5-4.5h0m4 1h0m13 4h0m4-4.5h0m1.5 .5h0m3.5-.5h0m6 2.5h0m1.5-1.5h0m2 1h0m4.5 1.5h0m1-3.5h0m0 3h0m3.5-2.5h0m3-.5h0m3 1h0m2.5-.5h0m2.5 3.5h0m1.5 0h0m5-2h0m4.5 .5h0m-89 5h0m22.5-1h0m0 2h0m8.5 1.5h0m2 0h0m19.5-2h0m2.5 .5h0m.5-3h0m7 2h0m5 2.5h0m2-4h0m11.5-.5h0m1.5 5h0m1-3h0m6.5-1.5h0m5 2h0m-89.5 8h0m14.5-2h0m7.5-.5h0m12.5 3h0m3.5-5h0m2.5 1h0m1.5-.5h0m6 2.5h0m6.5-2.5h0m13.5-.5h0m1.5 4h0m-60 2.5h0m28 2.5h0m4.5-2.5h0m-6.5 9h0m4.5-1h0m-35 7h0m36.5-3h0m.5 0h0m0 1h0m.5 1h0m0 0h0m0 2h0m138.5-3h0m14 3.5h0m18.5-2.5h0m-318.5 7h0m1-3.5h0m.5 2h0m1 3.5h0m145.5-5h0m140 4h0m.5-4.5h0m1.5 .5h0m1.5 1.5h0m1-1h0m7 1.5h0m0 2.5h0m2.5-2h0m6.5-1.5h0m1.5 1h0m2-2.5h0m18 1h0m.5-1h0m3 1h0m-333 5.5h0m271.5 0h0m1.5 4.5h0m2-4.5h0m2.5 1.5h0m9 2.5h0m3.5-.5h0m2.5-4h0m8.5 5.5h0m5.5-4.5h0m-300.5 8h0m45-2.5h0m0 1h0m3.5-1.5h0m5.5 5h0m20.5-.5h0m187.5-4.5h0m2.5 1.5h0m2.5-1.5h0m1 5.5h0m19.5-2h0m5 .5h0m2-1h0m6-1.5h0m2.5 2h0m6 1.5h0m-263 2h0m1-.5h0m.5 3h0m1-1h0m.5-2h0m2 0h0m1.5-.5h0m0 1.5h0m2 0h0m0 3.5h0m1.5 .5h0m2-3h0m.5-2.5h0m4 0h0m3.5 2h0m2 0h0m.5 2h0m1-2h0m.5 2.5h0m.5 .5h0m1-3h0m.5 1.5h0m-21.5 4.5h0m.5 1.5h0m1 0h0m1.5 .5h0m5.5 1.5h0m3.5-2h0m2-3.5h0m0 3.5h0m0 2h0m1-2h0m.5-2.5h0m1.5 1h0m245.5 0h0m-257 5h0m6 0h0m0 2h0m230 1.5h0m-171 26h0m3 2h0m17 3h0m4.5-.5h0m108.5-1h0m-135 7h0m2-2.5h0m2 1.5h0m1.5-1h0m.5 2h0m.5-5h0m6.5 0h0m3.5 1h0m6.5 3h0m2-1.5h0m14-.5h0m81.5 3h0m3.5-3.5h0m.5 1.5h0m2-2.5h0m1.5 0h0m2.5 1h0m6 1.5h0m1.5 1.5h0m3.5 .5h0m-149 2.5h0m1 0h0m2-1h0m1 1.5h0m6-2h0m1 5h0m.5-2h0m.5-2.5h0m.5 5h0m1.5-5h0m1.5 2.5h0m0 .5h0m1 1h0m1.5-1.5h0m3.5 1h0m1 0h0m4.5 1.5h0m2.5-1h0m2-3.5h0m1 1.5h0m2 .5h0m2.5-1h0m99.5 1.5h0m1-1.5h0m3 .5h0m2.5 .5h0m1.5 0h0m4 1.5h0m1.5 1h0m.5-5h0m7.5 1h0m1.5 .5h0m1.5-2h0m1.5 .5h0m2-.5h0m-150.5 11h0m1.5-2.5h0m2-1h0m3.5-1h0m1.5-.5h0m2.5 .5h0m0 2h0m1-1h0m103 0h0m0 2h0m0 1.5h0m3-3.5h0m1 1.5h0m1.5 0h0m4.5 2h0m-126.5 5.5h0m1.5-4.5h0m2.5 5h0m104 .5h0m2.5-2.5h0m6.5 2h0m2-.5h0m2-4h0m-154.5 9h0m39-3.5h0m107 1h0m2.5 .5h0m1.5 3h0m1-2h0m1.5 1.5h0m2.5-2.5h0m0 1.5h0m2-2h0m3 2h0m8.5-1.5h0m9 0h0m.5 2h0m5.5-2h0m-274 10h0m2.5-1.5h0m0 1.5h0m14.5-1.5h0m77-3.5h0m0 .5h0m135.5 0h0m2 3.5h0m5-4h0m4.5 4.5h0m.5-4h0m2.5 4.5h0m2-5h0m5.5 2h0m3.5-1.5h0m5 2h0m3-2h0m1.5 1.5h0m6 3h0m-269 1.5h0m9.5 3.5h0m1.5-.5h0m1-4h0m.5 5.5h0m5-2h0m0 2h0m2.5-5.5h0m220.5 1.5h0m.5-1h0m4 0h0m6.5-.5h0m2 1h0m3 3.5h0m1.5-4h0m4-.5h0m1.5 3h0m6.5-2h0m10.5 0h0m5 2.5h0m-276 4h0m1.5-.5h0m3 2h0m125 0h0m4-.5h0m1 3h0m6-2h0m101.5-1h0m26.5-1.5h0m-266 5h0m1.5 4.5h0m3-1.5h0m1.5 2h0m2 0h0m.5-3.5h0m3.5 3.5h0m2.5-2h0m4 1h0m2.5-.5h0m101-2.5h0m1.5 4h0m5-3.5h0m6.5-1h0m6 3.5h0m.5-.5h0m17 1h0m4.5-4h0m2.5 2h0m5.5 2h0m3 1h0m82 0h0m2.5 0h0m-250.5 3h0m12.5-1h0m74.5 3.5h0m2.5 0h0m4.5 0h0m6.5-5h0m49 5.5h0m.5-3h0m9.5 3h0m2-1.5h0m78-2.5h0m1.5 3h0m10-4h0m1 0h0m2.5 1h0m.5-.5h0m.5 0h0m2 .5h0m1 .5h0m2 0h0m0 1h0m1-.5h0m2 1h0m-270.5 7.5h0m.5-2.5h0m3 2h0m6-4.5h0m13.5 4.5h0m73-2.5h0m1 2h0m.5-3.5h0m3.5 3.5h0m2 1h0m1-5h0m1.5 2h0m5.5 0h0m7 1h0m5-2.5h0m6 3h0m8.5-1h0m.5 2h0m9.5-2.5h0m2.5 3.5h0m1.5-1.5h0m1.5-.5h0m8.5-.5h0m3.5-1.5h0m.5 1h0m2-1.5h0m.5 2.5h0m1-.5h0m2-2h0m77-.5h0m1.5 3h0m.5 1.5h0m.5 0h0m8 0h0m-158 2.5h0m.5-1h0m1 .5h0m.5 3.5h0m.5-1.5h0m3 1.5h0m.5-4h0m3.5 0h0m1 1h0m1 3.5h0m1-3h0m.5 .5h0m0 2h0m.5-4.5h0m.5 5h0m3-4.5h0m2 1h0m3-1h0m.5 1h0m2 4h0m2-1.5h0m3-4h0m3 4.5h0m3-3h0m11-1h0m0 2.5h0m.5 .5h0m3.5-.5h0m.5-2.5h0m2.5-.5h0m.5 4h0m1-2.5h0m2-.5h0m5-1h0m0 2.5h0m3-1.5h0m1.5-.5h0m0 3.5h0m1.5-3h0m4.5-1h0m78 1.5h0m9-1h0m.5 0h0m.5 1h0m.5-1h0m1.5 2h0m-161.5 4.5h0m1.5 .5h0m2 1h0m1-2h0m8.5-.5h0m3 3h0m0 1.5h0m2 .5h0m6.5-4.5h0m1 2.5h0m2.5-1h0m3.5 .5h0m1 2h0m6.5-4.5h0m6 5h0m3.5-5h0m.5 5.5h0m2.5-5.5h0m.5 1.5h0m0 3.5h0m1-1.5h0m4.5-1.5h0m6-1h0m0 .5h0m2.5-.5h0m2-.5h0m-52 7.5h0m8.5 3h0m1-2h0m.5 2.5h0m1.5-2h0m.5 2h0m.5-4h0m2 2.5h0m.5 1h0m1-.5h0m1-3h0m2-.5h0m1 2h0m2 0h0m0 2.5h0m4-4.5h0m2-1h0m4 0h0m3.5 1h0m22 4.5h0m2.5 0h0m0-.5h0m1.5 0h0m.5 .5h0m2.5-.5h0m1-1.5h0m.5 .5h0m4-2h0m3 0h0m2 0h0m-68 5.5h0m2 0h0m3.5 0h0m3.5 2.5h0m41.5-3.5h0m-52 9h0m.5-.5h0m.5-.5h0m2-1h0m-.5 8.5h0m1 1.5h0m35-2.5h0m3 .5h0m4 2h0m1.5 0h0m1 0h0m-43 5h0m.5-1h0m83 .5h0m2 1h0m3 1h0m-44.5 22h0m0 0h0m3-2h0m0-.5h0m1-1h0m2 .5h0m5.5 3h0m18 13.5h0m-.5 .5h0m2 2.5h0m1 .5h0m0 .5h0m1 1h0m-169.5 7.5h0m4.5 1.5h0m3 2h0m60.5 79.5h0m2.5-.5h0m12-3h0m2.5-.5h0m.5-.5h0" stroke="#4682b4" stroke-width="3.2" stroke-linecap="round"/><path d="M543.5 233.5h0m0 0h0m-15 3h0m5-1.5h0m2.5 0h0m2-.5h0m4-.5h0m201.5 107h0m0 .5h0m1 1h0m.5 .5h0m1.5 1h0m.5-1h0m1.5 2h0m0 .5h0m.5-.5h0m2.5 .5h0m2 0h0m1 0h0m2.5-1.5h0m1.5-.5h0m1-1h0" stroke="#f28124" stroke-width="3.2" stroke-linecap="round"/></svg>
<svg x="104.8" y="598.4" width="892.6" height="497.5" viewBox="104.8 2.4 892.6 497.5" overflow="hidden"><path d="M855.5 123.5h0m2.5 .5h0m1.5 1h0m10.5 9.5h0m.5 0h0m1.5-.5h0m0-1h0m1.5 0h0m0-.5h0m.5-.5h0m.5 .5h0m1 0h0m.5 .5h0m1 0h0m1.5 0h0m-630.5 225.5h0m1 0h0m1.5-1.5h0m1 2h0m2-2h0m1.5 2.5h0m1-1h0m.5-1h0m2.5 2h0m-15.5 4.5h0m1.5 .5h0m.5-1.5h0m.5-2h0m1.5-.5h0m.5 4.5h0m.5-1.5h0m.5-.5h0m.5-2h0m1 2.5h0m.5-3h0m2.5 2h0m1.5 2.5h0m1-4.5h0m.5 .5h0m1.5 2h0m1.5 2h0m2-4.5h0m-17 8.5h0m1.5 0h0m2.5 2.5h0m.5-2h0m1 1.5h0m.5-3.5h0m.5 1h0m2-1.5h0m0 1.5h0m0 3h0m1-3h0m2-.5h0m.5 0h0m0 2.5h0m2-2h0m0 2.5h0m3-5h0m0 0h0m1 1h0m.5-1h0m-32 7h0m1-1h0m21.5 1h0m5.5-.5h0m477.5 28.5h0m-3 2h0m2 3.5h0m1.5-1.5h0m5.5-1.5h0m0 1.5h0m1 1h0m-12.5 2.5h0m3.5 .5h0m2 3.5h0m1-4.5h0m1.5 1.5h0m1.5 2.5h0m2.5 0h0m.5-2.5h0m.5 1.5h0m-171 30.5h0m.5 1.5h0m2-1.5h0m58.5 0h0m1-1h0m0 1.5h0m-22.5 9.5h0m.5 .5h0m.5 2h0m1-1.5h0m1.5 3h0m.5-4h0m1 2.5h0m1-2.5h0m0 2.5h0m-4 2h0m0 0h0m38.5 11.5h0m2 0h0m-10 4.5h0m1.5 .5h0m1-4h0m.5 1.5h0m3.5-2h0m0 1.5h0m1 2h0m1.5-2h0m.5 3h0m.5-1h0m.5-1h0m1-.5h0m2.5 3h0m1.5-2.5h0m.5 2.5h0m-14 4h0m2 0h0m1.5-2h0m0 2.5h0m2-2.5h0m2 1.5h0m1.5-1h0m0 1.5h0m1-1h0m.5 1h0m2-1.5h0" stroke="#4682b4" stroke-width="3.2" stroke-linecap="round"/><path d="M720.5 26h0m-91.5 5.5h0m82.5 8h0m1.5-1.5h0m-29 9h0m2 .5h0m2.5-.5h0m19-4h0m2-1h0m36.5 1h0m6-1h0m-301 10h0m2 1h0m225-.5h0m4-1h0m1-2h0m.5 3h0m.5-2h0m1 1.5h0m0 1.5h0m1-4h0m1.5-.5h0m0 1h0m21.5-1h0m12 .5h0m17 1.5h0m2-1h0m2.5 2.5h0m.5 1h0m2-2.5h0m.5-.5h0m2.5 .5h0m0 2h0m3-2h0m0 2.5h0m0-5.5h0m.5 1.5h0m1 3.5h0m2-.5h0m.5-2h0m-299.5 4h0m1.5 1h0m1.5 .5h0m72 1.5h0m63.5 1.5h0m82.5-2.5h0m.5 1h0m1 .5h0m1-1.5h0m1-2.5h0m.5 1.5h0m0 2h0m2-3.5h0m0 2h0m.5 2h0m8 0h0m49-1h0m.5 2h0m1.5-.5h0m.5-4h0m1 1.5h0m1 2h0m.5-3h0m0 .5h0m2.5-1h0m.5 1h0m1.5-1.5h0m-325.5 10.5h0m171.5-4.5h0m56.5 2h0m1.5 1h0m2.5 1.5h0m.5 0h0m1.5 .5h0m19-1.5h0m.5 1h0m.5-4.5h0m0 3h0m1.5 .5h0m.5-3h0m2-.5h0m1 4.5h0m1-1.5h0m2 2.5h0m3-2h0m1.5 0h0m2 1.5h0m2-1h0m1 .5h0m2 1h0m11-1h0m1.5-1.5h0m1-1h0m2-2h0m17.5 4.5h0m1.5-1h0m1 2h0m.5-4h0m.5 3h0m0 .5h0m.5-4h0m0 .5h0m2-1.5h0m.5 1.5h0m3-1.5h0m39 1h0m3 1h0m-122.5 4.5h0m1 0h0m3.5 1.5h0m2.5 1.5h0m.5-2h0m1 1h0m0 .5h0m.5 2h0m.5-2h0m1.5-2.5h0m.5 2.5h0m.5-3h0m1 2h0m1-2h0m0 4.5h0m.5-2.5h0m2.5 2h0m0 1.5h0m1-1h0m.5-2.5h0m0 3h0m1.5-5h0m0 3h0m1-1h0m.5 1.5h0m0 2h0m1-3h0m0 3h0m.5-2.5h0m1.5 2.5h0m.5-5h0m.5 2.5h0m1.5 .5h0m0 2h0m.5-3h0m1.5-2.5h0m.5 .5h0m.5 5h0m1-3.5h0m0 1h0m2.5-3h0m1 4.5h0m1-1h0m1-3.5h0m.5 2.5h0m1.5 0h0m1 3h0m.5-2.5h0m1-2.5h0m0 1.5h0m.5 2h0m2.5 1h0m1-2h0m2-2.5h0m3 4h0m.5-.5h0m2 1.5h0m2.5-2.5h0m2 .5h0m2.5 1h0m2.5-2.5h0m1.5 2h0m2-.5h0m.5 0h0m.5-1h0m1-1h0m0 4h0m1-1.5h0m.5-3h0m1-.5h0m0 4h0m1-4.5h0m1.5 4.5h0m-94 7h0m20 0h0m2 0h0m1.5-.5h0m5-2.5h0m.5 2.5h0m.5-4.5h0m0 1h0m2.5-1.5h0m0 1h0m0 2h0m0 2.5h0m1-1.5h0m1.5-.5h0m.5-3h0m0 1h0m2-1h0m.5 3h0m1.5-2h0m3.5-.5h0m4.5 3h0m1.5 .5h0m.5-4.5h0m.5 2.5h0m0 2.5h0m1-2h0m1-1.5h0m.5 4h0m.5-4.5h0m1.5-.5h0m1.5 1h0m1 1.5h0m1-1h0m.5-2h0m.5 3h0m1-2h0m.5 4h0m1-1.5h0m.5-2h0m2.5-.5h0m.5 3h0m2-4h0m.5 4.5h0m.5-1h0m1.5-2h0m0 3.5h0m2.5-4.5h0m.5 5h0m.5-3.5h0m0 1.5h0m2-.5h0m.5-1.5h0m0 2.5h0m2-2h0m0 1h0m.5-1.5h0m3 1.5h0m.5-3h0m0 2h0m0 3.5h0m.5-1h0m2-3h0m.5 1.5h0m.5 2.5h0m1-1.5h0m.5 1h0m.5-5h0m1.5 2.5h0m0 1.5h0m1.5 0h0m.5-4h0m.5 1h0m0 4h0m1 .5h0m.5-1.5h0m.5-3h0m1.5-.5h0m0 4h0m0 0h0m.5-2.5h0m-370.5 5.5h0m271 2h0m1.5-1h0m.5 2.5h0m3 0h0m.5-1.5h0m2 1.5h0m.5-1h0m.5-2h0m0 1.5h0m.5-3h0m0 5h0m1-3.5h0m1-1.5h0m1.5 3.5h0m1-3.5h0m1.5 3.5h0m2-3h0m0 2h0m1.5-.5h0m1 0h0m1 .5h0m.5-2h0m1.5 2h0m1.5-2.5h0m.5 5h0m1-1.5h0m0 1h0m1-3h0m0 3.5h0m1-3.5h0m0 1.5h0m1.5-1h0m0 0h0m0 3h0m1.5-1.5h0m1.5-4h0m0 1h0m0 4.5h0m.5-4.5h0m.5 2.5h0m1.5 0h0m1.5-2.5h0m.5 2h0m.5-1h0m2 1.5h0m1-2h0m0 1h0m1-1.5h0m0 4h0m1.5-1.5h0m1-2h0m1-1h0m0 3h0m.5 1h0m.5-2h0m0 0h0m.5-1.5h0m1.5 3.5h0m1-3.5h0m0 1.5h0m.5 2.5h0m1-5h0m0 3h0m1 2.5h0m1-1.5h0m.5-1.5h0m0 2h0m.5-1h0m1.5-1.5h0m1.5 3.5h0m.5-2h0m.5-1.5h0m.5 1h0m1-2.5h0m0 1h0m1.5-1.5h0m0 1h0m.5 2.5h0m1 .5h0m0 1h0m2-3h0m0-.5h0m3.5 0h0m1 3h0m.5-3h0m1.5 3.5h0m.5-1.5h0m.5-1.5h0m0 1.5h0m.5 2h0m.5-4h0m1.5 3.5h0m.5-1h0m1.5-4h0m0 5h0m1-3.5h0m1 .5h0m0 3h0m1.5-1.5h0m1 2h0m1-4h0m0 2.5h0m.5 1.5h0m.5-3.5h0m.5 1.5h0m2-2h0m0 3.5h0m.5-3h0m1.5 1.5h0m0 2h0m2-5.5h0m.5 2.5h0m3.5-1.5h0m.5 1h0m0 2h0m2 1h0m.5-3h0m1.5 0h0m1 2.5h0m1.5-1h0m.5 .5h0m0 1h0m.5-4.5h0m1.5 2.5h0m-100.5 4h0m1 1.5h0m0 2.5h0m1-5h0m0 2h0m0 1h0m1-1.5h0m.5 2.5h0m2 1.5h0m.5-2h0m2-2h0m0 4h0m1.5-5.5h0m0 1.5h0m0 1.5h0m2-1h0m2-1h0m1 2.5h0m0 2h0m2-5.5h0m0 3.5h0m2.5-1h0m1.5 3h0m2-2h0m1-.5h0m0 2h0m1-3h0m1.5 2.5h0m1.5-2.5h0m.5 .5h0m2 2.5h0m.5-3h0m3 0h0m1.5-.5h0m.5 1.5h0m2.5-2.5h0m.5 .5h0m0 4.5h0m2-4.5h0m.5-1h0m0 5.5h0m.5-2h0m.5-2h0m0 3.5h0m2 0h0m1-4h0m2 1h0m1.5 1h0m2-2h0m.5 3h0m1 1h0m.5-5h0m.5 1.5h0m.5 2h0m1-2h0m1 2h0m0 1.5h0m.5-4h0m.5-1h0m1 3.5h0m0 1h0m.5-2.5h0m.5 1h0m.5 2.5h0m1-4h0m.5 1.5h0m.5 2h0m.5-4.5h0m1.5 3h0m2 1.5h0m2.5-5h0m0 3h0m.5-2h0m0 2h0m1.5-2.5h0m.5 3h0m2 2h0m.5-4h0m1 .5h0m3-1h0m.5 1h0m3 0h0m1 1.5h0m0 2h0m1-2h0m.5 1.5h0m.5-3h0m2 0h0m.5-2h0m1 2.5h0m0 3h0m1-5.5h0m.5 3.5h0m1.5-.5h0m.5-3h0m1.5 4.5h0m.5-4.5h0m0 1h0m.5 2.5h0m1.5-3h0m1 3h0m.5 1.5h0m1-3.5h0m.5 2.5h0m.5 1.5h0m1-2h0m1-2h0m-380 8.5h0m283.5-2.5h0m.5-1.5h0m1.5 1h0m1 1h0m2 3h0m.5-3h0m1.5 1h0m1-2.5h0m0 4.5h0m1-4h0m.5 1.5h0m1.5-1h0m0 3h0m1.5-1h0m0 2h0m2.5-5.5h0m0 .5h0m.5 5h0m1-4h0m1 2h0m.5 1.5h0m1-3h0m.5 .5h0m1-2h0m1 2.5h0m.5 2.5h0m1-4.5h0m.5 4h0m2-4h0m0 2.5h0m0 2h0m.5-4h0m2 .5h0m1 1h0m2 .5h0m.5 2h0m.5-5.5h0m.5 3h0m.5-3h0m.5 .5h0m2.5 3.5h0m.5-2h0m0 .5h0m1 2.5h0m1-3.5h0m1 0h0m.5 1.5h0m0 1.5h0m.5-1.5h0m1.5 2.5h0m1.5-5h0m0 3h0m2-.5h0m0 2h0m1-3.5h0m.5 1h0m1 2h0m.5-4h0m.5 4h0m.5-3.5h0m0 1.5h0m1 1h0m.5 2h0m1-5h0m0 3h0m4.5-1.5h0m1 2h0m.5-2h0m.5 1h0m.5 2h0m2-4.5h0m.5 4.5h0m1.5-1.5h0m1.5-1h0m.5-2.5h0m1.5 1h0m.5 1.5h0m0 2h0m.5-4h0m.5 2h0m.5 3h0m1.5-4h0m0 2.5h0m1.5-2.5h0m0 1.5h0m0 2.5h0m1 0h0m1-3.5h0m1.5 .5h0m.5-1.5h0m0 4h0m1-3h0m0 3.5h0m1.5-2.5h0m0 2.5h0m1-3.5h0m.5 1h0m0 1.5h0m2-2.5h0m0 1.5h0m1.5 1h0m.5-4h0m1 4h0m.5-4h0m.5 4.5h0m1-5h0m0 1.5h0m0 2h0m2-1h0m2-2.5h0m0 .5h0m2 .5h0m2 3h0m18-1h0m-329.5 8.5h0m120-2h0m2 2h0m100-2h0m1-2h0m0 3h0m2.5-2.5h0m0 3.5h0m1-.5h0m1-3.5h0m1.5-1.5h0m3 1.5h0m0 1h0m.5-1.5h0m.5 3h0m1.5-1.5h0m0 1.5h0m1.5-2.5h0m.5 0h0m1.5-.5h0m.5 4h0m2-2.5h0m1 0h0m0 2h0m2-1h0m1 2h0m.5-5.5h0m.5 1h0m.5 1.5h0m.5-1h0m0 3.5h0m1.5 .5h0m1-4.5h0m1.5-1h0m0 1h0m.5 4h0m2-.5h0m.5-3h0m.5 3.5h0m.5-2.5h0m0-.5h0m1.5-2h0m.5 4.5h0m1 1h0m.5-5h0m2 3h0m1-2.5h0m1 .5h0m0 3.5h0m1.5-1.5h0m2-1h0m.5-2h0m1 3h0m1.5-.5h0m0 1.5h0m2 0h0m.5-4h0m1.5 3h0m2.5 1.5h0m.5-1.5h0m.5-2.5h0m.5 4.5h0m.5-2.5h0m2.5 1h0m0 1.5h0m1-3h0m.5 2h0m2-2h0m2 1.5h0m1-3.5h0m0 3h0m1-2h0m1 1h0m1 3h0m.5-4.5h0m1 2.5h0m1 2h0m.5-.5h0m.5-4.5h0m0 2h0m1 1h0m2-2h0m.5 1h0m1 2.5h0m1.5-2h0m.5-2.5h0m0 3.5h0m1.5-1h0m0 1.5h0m.5-3.5h0m1 3.5h0m1-1h0m.5-2.5h0m1 0h0m.5 2.5h0m2-1h0m0 2h0m1.5-1h0m0 1h0m2 0h0m-313.5 6.5h0m2 0h0m1.5-2h0m.5-3h0m0 1.5h0m2-.5h0m0 4h0m1.5-.5h0m1.5-4h0m0 3h0m.5 2h0m1-2h0m116-3h0m96 4.5h0m1.5-3h0m0 2h0m1.5-2h0m0 3.5h0m1.5-3.5h0m.5-1h0m1 0h0m0 3.5h0m1-2h0m1.5 .5h0m0 2.5h0m1-5h0m.5 4h0m.5-4h0m1.5 .5h0m0 4.5h0m1.5-1.5h0m1-3.5h0m0 3h0m1.5 .5h0m.5-3h0m0 2h0m.5 2h0m.5-4.5h0m2 2.5h0m0 2h0m1-5h0m.5 5h0m1-5h0m.5 4.5h0m2-3.5h0m.5 4.5h0m.5-4.5h0m1.5 4h0m.5-3h0m0 .5h0m2 1h0m.5-2h0m0 .5h0m.5 3h0m.5-4.5h0m.5 3h0m1.5-3h0m1 4h0m.5-1h0m.5-2.5h0m1 3.5h0m1.5 0h0m1-1h0m.5-2.5h0m0 4h0m1.5-5h0m0 3h0m1 1.5h0m1-1h0m1 1.5h0m1-4h0m0 4h0m.5-3h0m1-1.5h0m.5 .5h0m2 1h0m0 2h0m1-2.5h0m1 .5h0m1-2h0m1 .5h0m0 2h0m.5 2h0m1 0h0m.5-1.5h0m.5-2h0m.5 1.5h0m.5 2h0m1-4h0m1 2.5h0m.5-3h0m2 .5h0m.5 2.5h0m1.5 1.5h0m.5-4h0m.5 2h0m1.5-1h0m0 2.5h0m.5-2h0m1 0h0m.5-.5h0m.5 3h0m.5-3h0m.5 .5h0m.5 2.5h0m1.5 0h0m.5-3.5h0m.5 1h0m1-1.5h0m.5 3.5h0m1.5-2.5h0m1.5 2h0m1 1.5h0m1-4.5h0m2 2.5h0m1-2h0m.5 3.5h0m.5-4.5h0m0 3h0m1-.5h0m1-2.5h0m0 4.5h0m1.5-2h0m0 2.5h0m.5-5h0m.5 2h0m.5-.5h0m1-.5h0m0 3.5h0m1.5-4h0m1 2.5h0m2.5 .5h0m.5 .5h0m1-.5h0m1.5-1.5h0m3.5 3h0m1.5-2.5h0m2.5 2h0m-336.5 5.5h0m1 1.5h0m.5-.5h0m3-1h0m.5-1.5h0m0 2h0m2 0h0m.5-1.5h0m.5-1h0m0 3.5h0m1-2h0m1-3h0m1 4.5h0m1-3h0m0 2h0m1.5-4h0m4 1.5h0m0 1.5h0m.5 1.5h0m1-4h0m0 4h0m1-1.5h0m1-1h0m.5-2h0m0 4.5h0m.5-2h0m1.5-.5h0m0 2h0m213.5-3h0m1.5 1h0m1.5 .5h0m0 2.5h0m1-3.5h0m.5 3h0m1.5-1.5h0m1-2.5h0m.5 2h0m0 2.5h0m1.5-1h0m.5-1.5h0m.5-1h0m1 .5h0m0 2h0m2-2h0m.5 3.5h0m.5-5h0m1 2h0m0 1.5h0m.5-4h0m1.5 1h0m0 1.5h0m.5 2.5h0m1-4.5h0m.5 2h0m0 3h0m1.5-1h0m1-2.5h0m.5 3.5h0m1-4.5h0m0 2.5h0m1-2.5h0m1 1h0m.5 2.5h0m1-3h0m0 .5h0m1 3.5h0m1-4h0m.5 1.5h0m1-.5h0m0 2.5h0m2.5-1h0m.5-3h0m1.5 3h0m1-3h0m1.5 1h0m.5 0h0m.5-1.5h0m2.5 1h0m0 2h0m.5 1.5h0m.5-.5h0m1-4.5h0m0 2h0m2 2h0m.5-3h0m1.5-.5h0m0 3h0m.5 1.5h0m1-2.5h0m1-2h0m.5 4h0m1.5-2.5h0m1-1.5h0m0 3.5h0m.5-1h0m1-.5h0m1-1.5h0m1.5-.5h0m3 0h0m3.5 1h0m1.5-1h0m1 .5h0m3.5 .5h0m2-1h0m2-.5h0m1 2h0m.5-.5h0m0 2.5h0m.5-1.5h0m1 1.5h0m1-1.5h0m.5 2.5h0m.5-4h0m1.5 2h0m.5-1.5h0m.5 3.5h0m-314.5 2h0m2 0h0m.5 3.5h0m.5-.5h0m1-3h0m1 1.5h0m0 2.5h0m1-4.5h0m2 5h0m1.5 0h0m1-5h0m1 3h0m1 0h0m.5-2h0m1.5-1.5h0m.5 1h0m3 0h0m58.5 1h0m162.5-2h0m0 3.5h0m1.5 1.5h0m.5-5h0m0 2.5h0m1.5-1.5h0m.5 1h0m.5 1.5h0m.5 0h0m2.5-3h0m0 2.5h0m1 1h0m.5 1h0m.5-4.5h0m.5 2h0m1-1.5h0m0 3h0m.5-2h0m1-.5h0m1.5 3h0m1-4.5h0m0 2h0m0 2h0m3-3h0m1.5 2h0m.5-1.5h0m.5 .5h0m.5-1h0m2-1h0m1.5 1h0m2-1h0m8.5 1h0m1.5-1h0m1 3h0m.5-3h0m.5 3h0m2-.5h0m1-2h0m.5 0h0m1 1.5h0m2.5-2h0m25 0h0m3.5 3.5h0m117.5 0h0m2-1.5h0m1 0h0m.5-.5h0m2-.5h0m-429 8.5h0m.5-2.5h0m0 4.5h0m1-5.5h0m.5 5.5h0m1-2.5h0m231.5-2h0m.5 4h0m1.5-5h0m0 3h0m0 2h0m1-2.5h0m.5 2h0m.5-3.5h0m.5 1.5h0m.5 1.5h0m1 1.5h0m1-5h0m.5 4h0m25.5-1h0m0 1h0m2-2h0m1 .5h0m1.5-1h0m0 .5h0m.5-.5h0m0 0h0m.5 2h0m0 0h0m135.5-.5h0m.5-2h0m0 2.5h0m2-1h0m3.5 .5h0m2-1h0m2.5-2h0m0 0h0m0 0h0m.5 .5h0m-413.5 10h0m11-.5h0m.5 0h0m2-2h0m.5 0h0m.5 2.5h0m14-1h0m.5 0h0m2-1h0m3-1h0m128.5 1h0m0 0h0m0 .5h0m63.5 1.5h0m1-5h0m1.5 1h0m0 1.5h0m.5 2h0m1-4h0m.5 2h0m1.5 2.5h0m.5 .5h0m.5-5.5h0m1 4.5h0m1-.5h0m32.5-3.5h0m.5 0h0m0 1h0m.5 1h0m0 0h0m0-.5h0m0 2.5h0m134.5-4.5h0m1.5 2.5h0m.5 1.5h0m1.5 1h0m1-1.5h0m0 2h0m.5-2.5h0m1.5 1.5h0m6.5 .5h0m5 0h0m9-2h0m0 1h0m1-2.5h0m.5 .5h0m2.5-1.5h0m2 2.5h0m1-.5h0m0 1.5h0m2.5-1.5h0m4.5 2.5h0m-630 6.5h0m.5-4h0m.5 .5h0m.5 1h0m0 2h0m.5-4h0m2-1h0m.5 2.5h0m0 1.5h0m180 .5h0m.5-4h0m.5 1.5h0m0 3h0m1-2h0m.5-2h0m1 4.5h0m.5-1.5h0m2 1h0m1-3h0m0 2h0m.5-2h0m2 1.5h0m1.5-2.5h0m1.5-1h0m1 5h0m.5-4h0m.5 2.5h0m.5 2h0m1-.5h0m1-1h0m1 1.5h0m1 0h0m.5-.5h0m.5-2h0m1.5-.5h0m.5 2h0m1-1h0m60.5 0h0m38.5 2h0m.5-4h0m1-1.5h0m1 5.5h0m.5 0h0m.5-4h0m1.5 2h0m35-1.5h0m0 1h0m61.5 2h0m1-1.5h0m1.5 1.5h0m.5-2.5h0m.5 1h0m.5-3h0m.5 3.5h0m.5-2h0m2 1h0m.5-3h0m0 2.5h0m.5-.5h0m1-1.5h0m0 3.5h0m.5 1.5h0m1.5-.5h0m.5-3h0m.5 .5h0m.5 1h0m.5-2.5h0m34-.5h0m.5-.5h0m117 5.5h0m3.5-1h0m1.5 .5h0m4.5 0h0m2-1h0m1.5-.5h0m0 1h0m2-1h0m2 1h0m.5-2.5h0m1 .5h0m1-1h0m1 2.5h0m1-1.5h0m1 2h0m1-2h0m.5 3h0m.5-5h0m2.5 2h0m0 2h0m1 0h0m1.5-3.5h0m.5 0h0m1.5 0h0m1.5 1.5h0m1-2h0m0 2h0m0 2.5h0m2.5-2h0m0 1h0m.5-3.5h0m2 0h0m1.5 1h0m.5 2.5h0m1-1.5h0m1-1h0m1.5 1h0m.5-1.5h0m.5 4h0m1-3.5h0m2-.5h0m2 1.5h0m1-1h0m3-1h0m-633 9h0m2-1h0m0 1.5h0m1-2.5h0m.5 0h0m1 2h0m1-.5h0m0 2h0m1-4.5h0m.5 3.5h0m1.5-2h0m1.5-2h0m.5 4h0m1-4h0m.5 4h0m.5-1.5h0m10 3h0m2.5-.5h0m.5-.5h0m1.5 0h0m0 0h0m.5-.5h0m2-.5h0m160-2h0m3.5-1h0m2 1.5h0m1-2h0m.5 3h0m0 1h0m2-3h0m0 2h0m1-2.5h0m1 2.5h0m10.5-2.5h0m1.5 1h0m1.5-1h0m1.5 3h0m92.5 .5h0m1-1.5h0m0 2.5h0m1-3h0m1-1.5h0m.5 0h0m.5 1.5h0m0 3h0m1.5-4.5h0m0 4h0m1.5-3.5h0m0 1.5h0m0 2h0m1.5 .5h0m42-3.5h0m0 0h0m49.5 1h0m0 2.5h0m2.5-2.5h0m0 1.5h0m2-4h0m1 2h0m.5 2h0m.5-3.5h0m3.5 2.5h0m1-.5h0m.5 1h0m1-1h0m3-.5h0m153.5 2h0m1-4h0m.5 5h0m1-3.5h0m0 2h0m2-3h0m0 2.5h0m1-.5h0m0 2.5h0m.5-4h0m1 3.5h0m1-4h0m3.5 4.5h0m.5-4h0m1 2.5h0m4-1.5h0m0 2h0m2.5 1h0m2-4.5h0m0 1.5h0m1.5 2.5h0m2.5-2h0m0 1.5h0m1 0h0m2.5-2.5h0m1.5-1h0m.5 2h0m2 2h0m.5-2h0m.5 2h0m1-2.5h0m1-1.5h0m.5 3.5h0m.5-2h0m.5-2h0m1.5 1h0m1 3.5h0m1.5-3.5h0m1.5 0h0m.5 4h0m.5-3.5h0m1.5-1h0m1 1h0m2-1.5h0m-636 11.5h0m2-1h0m2 .5h0m1-1.5h0m1-2h0m1 2h0m1-2h0m1 3h0m1.5-3h0m.5-1.5h0m1.5 .5h0m0 1.5h0m.5 2h0m.5 1.5h0m1-4.5h0m0 1h0m.5 2h0m1.5-3.5h0m0 1h0m1 3h0m1-4h0m0 2.5h0m1 1h0m0 1.5h0m1-1.5h0m.5-4h0m1 2h0m1 2h0m.5-1.5h0m.5-2.5h0m.5 5.5h0m.5-1.5h0m.5-3.5h0m.5 1.5h0m2-2h0m.5 1.5h0m1.5-1h0m.5-.5h0m1.5 .5h0m2 0h0m3-.5h0m1 .5h0m53 4h0m112 .5h0m19.5-1h0m1.5 1h0m2 0h0m78-1h0m3.5-.5h0m0 0h0m7 2h0m1.5-4.5h0m2.5 0h0m1.5 0h0m1 0h0m0 1h0m2-2h0m.5 1.5h0m.5 2h0m2.5-1.5h0m.5-1.5h0m0 2h0m.5-2h0m2.5 0h0m0 2.5h0m1.5 2h0m1-1h0m1-2h0m1.5 2h0m35.5-4h0m2 2h0m1 2.5h0m1 1h0m.5-5h0m0 1h0m0 1.5h0m1-2h0m1 2h0m1-1.5h0m.5-1.5h0m.5 .5h0m1 3.5h0m1-1.5h0m1.5-1.5h0m1.5 3h0m1-2h0m0 2.5h0m1.5-1h0m.5 2h0m13 0h0m1.5 0h0m5-1h0m1-2h0m2 3h0m1.5-1h0m1-3.5h0m.5 2h0m2-1h0m.5 .5h0m2-1h0m.5-1h0m2.5 1h0m1-.5h0m.5-1h0m.5 0h0m157 5.5h0m4.5-4h0m0 2h0m1.5-3h0m1 .5h0m.5 .5h0m5.5-1.5h0m2.5 1.5h0m3 1h0m.5 3h0m.5-4.5h0m.5 3.5h0m.5-3.5h0m4.5 1h0m2 .5h0m.5 2.5h0m2-5h0m0 3h0m1.5-2h0m0 1.5h0m1.5 .5h0m0 .5h0m2-2.5h0m1 1.5h0m1-2.5h0m2 3.5h0m1-3h0m2.5 3h0m1.5-2.5h0m0 1.5h0m0 1.5h0m1.5-4h0m.5 3h0m1-.5h0m2-1.5h0m.5 1.5h0m0 3h0m2-4.5h0m1 3h0m.5-3.5h0m0 2h0m1.5 3h0m.5-1.5h0m.5-1h0m1.5-2.5h0m0 3h0m.5-.5h0m3 2h0m.5-.5h0m-653 6h0m1 1h0m.5-2.5h0m1.5-1.5h0m.5 2h0m1 1.5h0m1.5-3h0m0 0h0m.5 1.5h0m2.5 1h0m.5-3h0m2 1h0m.5-2h0m1.5 2h0m.5 1.5h0m.5-2.5h0m2.5 1.5h0m0 1h0m.5-3.5h0m1 4h0m1-2h0m0 2h0m1-2.5h0m2-.5h0m0 3h0m1.5-4h0m1 1.5h0m1 .5h0m.5 1h0m1 2h0m1-3.5h0m0 2.5h0m1-2h0m0 1h0m.5-3.5h0m1.5 2h0m.5 1.5h0m1.5 0h0m.5-1h0m.5 2.5h0m1-4h0m.5 4h0m.5-3.5h0m1 3h0m7 .5h0m58.5-2.5h0m99.5 1.5h0m2-1.5h0m0 1.5h0m1.5-2h0m1.5 0h0m4.5-.5h0m1.5 0h0m.5 3h0m.5-2.5h0m.5-1.5h0m1.5 0h0m.5 4h0m.5-3h0m.5 4h0m.5-1.5h0m.5 1h0m.5-.5h0m.5-2.5h0m1 0h0m.5-1h0m0 2.5h0m2.5-2.5h0m.5 3.5h0m.5-1h0m0 2h0m2-1.5h0m2-.5h0m3.5-1h0m1 1h0m1-1h0m.5 .5h0m1.5-.5h0m2-1.5h0m47.5 4.5h0m1.5 0h0m31-.5h0m4.5-4.5h0m0-.5h0m.5 2h0m.5 1h0m4-1h0m13 3.5h0m4-.5h0m2-.5h0m1.5-1.5h0m0 1h0m1-4h0m.5 2.5h0m1.5 3h0m.5-4h0m1 2.5h0m1-1.5h0m0 2.5h0m2.5-2.5h0m1 2.5h0m0-1.5h0m1.5-.5h0m29.5 1.5h0m.5-2.5h0m.5-1h0m0 4.5h0m1-5h0m1.5 2h0m.5-2h0m2 0h0m0 4h0m1.5-4.5h0m0 1.5h0m0 2.5h0m2-2.5h0m0 3.5h0m.5-1.5h0m.5 1h0m.5 1h0m.5-3.5h0m1.5 .5h0m.5-2.5h0m0 4.5h0m1.5-3h0m0 2.5h0m.5 1.5h0m1.5-1.5h0m.5-4h0m.5 1h0m1 .5h0m.5 2h0m1 .5h0m.5-3.5h0m0 1.5h0m2 0h0m.5 3h0m1-3h0m1 3h0m1.5-1.5h0m1.5-3h0m0 1.5h0m3-2h0m194 0h0m25.5 0h0m4.5 0h0m0 1h0m1-1h0m2 2.5h0m1.5-1h0m1.5-.5h0m1 3h0m2.5-3.5h0m0 3.5h0m0 1h0m.5-3h0m.5-1h0m1 3h0m-659 2h0m1 1h0m0 0h0m.5 1h0m1 2.5h0m2-4.5h0m0 2.5h0m1.5 0h0m0 1h0m1.5-3h0m0 4h0m.5-1.5h0m0 2.5h0m1-2.5h0m.5-3h0m1 2.5h0m1-2.5h0m.5 1.5h0m0 2.5h0m1.5-.5h0m.5-1.5h0m.5 3h0m.5-2h0m1-2h0m0 4h0m2-4.5h0m.5 2h0m0 3h0m1-5h0m.5 2h0m0 1h0m1.5-3h0m0 3.5h0m.5-1.5h0m.5-2h0m1 .5h0m.5 0h0m0 2.5h0m0 2h0m1.5-2.5h0m0 2.5h0m.5-5.5h0m0 2h0m1 .5h0m1 2.5h0m.5-.5h0m.5-3h0m0 2.5h0m0 1.5h0m2-1.5h0m1 1.5h0m.5-5h0m.5 1.5h0m0 3.5h0m1-1.5h0m.5-3.5h0m0 1h0m0 2h0m2.5-3.5h0m.5 2h0m1 1.5h0m.5-2h0m1-1h0m.5 4h0m1 .5h0m.5-4.5h0m0 .5h0m1.5 3.5h0m0 .5h0m2-.5h0m.5 .5h0m43.5-1h0m2-.5h0m39.5 2h0m3-1h0m72-4.5h0m2 0h0m.5 1.5h0m.5-1.5h0m1.5 1.5h0m1 1h0m1.5 0h0m0 .5h0m3.5-1h0m1-.5h0m.5-1h0m.5 4h0m.5-4.5h0m1.5 5.5h0m1-3h0m2-.5h0m1.5-1.5h0m1.5 0h0m2.5 .5h0m2-1h0m6.5 1h0m51-1h0m0 5h0m1-2h0m1 2h0m1-3.5h0m0 1.5h0m.5-.5h0m.5 2h0m.5-3h0m.5 .5h0m.5 3h0m2.5-2h0m1 1.5h0m2.5 .5h0m3.5 .5h0m9.5-2.5h0m6-3h0m24.5 .5h0m15.5 0h0m3.5 0h0m31.5 .5h0m1.5-1h0m2 2h0m.5-2h0m2.5 1.5h0m0 2.5h0m2.5-1h0m.5-1.5h0m2 2h0m.5 2h0m1-1.5h0m0 1h0m1.5-3.5h0m1-1.5h0m0 3.5h0m.5-2.5h0m0 4.5h0m1.5-4h0m0 2h0m0 2h0m1-2h0m.5-3.5h0m0 1h0m241.5-1h0m2.5 2h0m1.5 .5h0m1.5-.5h0m2-.5h0m-689.5 7.5h0m.5 2h0m1-.5h0m2-3h0m.5 .5h0m.5 1h0m1.5 1.5h0m0 .5h0m2-1h0m1 1.5h0m.5-1.5h0m2.5 1.5h0m19.5-5h0m3 0h0m.5 1.5h0m2-.5h0m3 2h0m1-.5h0m0 2h0m1.5-1h0m1-2.5h0m1.5 2.5h0m1.5-2.5h0m1.5-1h0m0 1h0m1 3h0m.5-4h0m.5 1h0m1.5-.5h0m0 3h0m1-1h0m1-1.5h0m.5 4h0m2-3h0m0 2.5h0m1-3h0m0 2h0m1.5-1h0m.5 2.5h0m.5-4h0m1.5 1.5h0m0 2.5h0m.5-.5h0m48 .5h0m1.5-.5h0m2 .5h0m1.5-2.5h0m.5 2.5h0m.5-4.5h0m1.5-1h0m.5 3.5h0m.5 2h0m.5-5.5h0m0 2.5h0m1 2h0m1-2.5h0m1.5 3.5h0m.5-4.5h0m.5 1.5h0m1 2h0m2-4h0m0 1.5h0m1 0h0m.5 2.5h0m2 1h0m1-3h0m.5-2h0m0 2.5h0m1 2h0m1-4.5h0m.5 1.5h0m1.5-.5h0m.5 3.5h0m1-1.5h0m0 1h0m1-2.5h0m1.5 2h0m1-3.5h0m0 1.5h0m1.5 3h0m1.5 .5h0m3.5 0h0m1.5-3.5h0m2 .5h0m.5 1.5h0m1.5-1h0m1 1.5h0m1-2h0m.5-2h0m.5 4.5h0m1.5-1.5h0m0 1h0m.5-3.5h0m.5 2.5h0m1-2.5h0m1.5 1.5h0m0 2h0m1-4h0m.5 4h0m1.5-1h0m85.5-.5h0m67 1.5h0m1.5 1h0m3.5-.5h0m.5-3.5h0m1.5-.5h0m1.5 2h0m.5 2.5h0m0-1.5h0m.5-3.5h0m.5 0h0m0 4h0m1.5-2h0m1.5 0h0m0 2.5h0m.5-3.5h0m.5-.5h0m1 3h0m.5-1.5h0m1-1.5h0m2 4h0m1.5 .5h0m94.5-5.5h0m.5 1h0m3 0h0m2 3h0m1-3h0m1 1.5h0m1 2h0m.5 .5h0m.5-1.5h0m0-.5h0m227 1.5h0m1 1h0m-676.5 6h0m1 0h0m4.5 0h0m5.5-5.5h0m.5 1.5h0m0 4h0m.5-5.5h0m0 4h0m0 1h0m2-2.5h0m1-1h0m1 2h0m1.5-1h0m0 1h0m0 1.5h0m2-3.5h0m1 2h0m1-.5h0m.5-2h0m1.5 1.5h0m.5-.5h0m0 3h0m1-3h0m1 1.5h0m1.5 .5h0m3 1.5h0m.5-1.5h0m3.5 1h0m.5-1.5h0m.5-1.5h0m.5 3h0m1-4h0m0 2.5h0m1-1h0m1 .5h0m0 1.5h0m1.5-1h0m2 0h0m1.5 2h0m1.5-2.5h0m1.5 0h0m1.5-.5h0m2-.5h0m0 2h0m1.5-3.5h0m0 3.5h0m.5 1h0m.5-2.5h0m1-2h0m.5 .5h0m0 3h0m2-3.5h0m.5 1h0m.5-1.5h0m0 2h0m1 3.5h0m3.5-5h0m2.5 .5h0m.5 3.5h0m.5 .5h0m.5-.5h0m.5-2.5h0m1.5 0h0m1 1.5h0m.5 2h0m.5-1.5h0m.5 1.5h0m1-3h0m.5 .5h0m1.5 0h0m.5 2h0m2 0h0m.5-1h0m.5 1h0m3 0h0m22.5-1.5h0m2.5-1h0m6.5 1.5h0m2 0h0m.5-3h0m1.5-1h0m0 1.5h0m1.5 1.5h0m.5-2.5h0m.5 3.5h0m2-3h0m1 1h0m1 3.5h0m1-2h0m.5-1.5h0m1 3h0m.5-2.5h0m1-1.5h0m1 3h0m0 .5h0m2-2.5h0m0 1.5h0m2-3h0m.5 2h0m2.5 3h0m.5-3.5h0m2-1h0m.5 1.5h0m2-2h0m2 3.5h0m1.5-2.5h0m0 2h0m1.5-1.5h0m1 1h0m.5-1.5h0m2 1h0m.5-.5h0m2.5 0h0m0 3h0m1.5-2.5h0m1-1h0m2 2h0m.5-2h0m0 1.5h0m1.5 2.5h0m.5-4h0m.5 3h0m1.5-2.5h0m.5 1.5h0m1-3.5h0m2 5.5h0m2-1h0m1 .5h0m117.5-3.5h0m2.5 1h0m1 1h0m2 .5h0m0 1.5h0m2.5-.5h0m2-.5h0m1 .5h0m2 .5h0m4.5-.5h0m8.5-1h0m6.5 1h0m1-.5h0m2.5 1h0m1.5-2.5h0m1.5 0h0m0 2h0m1 .5h0m.5-2.5h0m.5 1h0m1-1h0m2-2h0m1.5 1.5h0m.5-1.5h0m1 2h0m1 0h0m1-2h0m1.5 2h0m.5-1.5h0m0 3.5h0m1-4h0m.5 2h0m1-1.5h0m0 3.5h0m1-1.5h0m.5 .5h0m1-4h0m0 3h0m1.5-2.5h0m1 0h0m.5 1h0m103.5 3h0m.5-1.5h0m0 2h0m.5-4.5h0m0 1h0m0 1.5h0m231.5-2h0m-676 6.5h0m1.5 0h0m2 2.5h0m1-2.5h0m0 1h0m1 0h0m2.5 .5h0m.5-2.5h0m1 .5h0m0 4.5h0m.5-2.5h0m1.5 .5h0m0 1.5h0m1-1h0m2.5 1h0m1-1h0m.5-3.5h0m.5-.5h0m.5 .5h0m0 4.5h0m.5-1h0m0 1.5h0m1-5.5h0m0 1.5h0m3 1h0m.5-1h0m2 3h0m1.5-4.5h0m.5 5.5h0m.5-2h0m.5-2h0m1 2.5h0m0 1.5h0m1 0h0m.5-5.5h0m0 4h0m1-2h0m1 1h0m2-1.5h0m2 0h0m1.5 4h0m1-5.5h0m.5 5h0m.5-4.5h0m.5-.5h0m1 1.5h0m.5 2.5h0m.5 1.5h0m1-3h0m.5 0h0m.5-1h0m1-1.5h0m.5 3.5h0m.5-1.5h0m.5 2.5h0m1-1h0m.5 1.5h0m1.5-4.5h0m1.5 2h0m0 1h0m0 2h0m1-5.5h0m.5 1.5h0m1-1.5h0m0 3.5h0m0 1h0m1-3h0m10.5 0h0m1 1h0m1-1.5h0m0 4.5h0m.5-3.5h0m.5 1.5h0m1 .5h0m0 1h0m1.5-4.5h0m1 3.5h0m.5-1.5h0m.5 2h0m2-3h0m1.5 4h0m.5-4h0m0 2.5h0m1 .5h0m.5-3.5h0m1.5 4.5h0m1-3.5h0m0 1h0m.5 2.5h0m1-1h0m.5-3.5h0m.5 .5h0m0 3.5h0m.5-1h0m0-3h0m0 2h0m.5 1.5h0m.5 .5h0m.5-2h0m.5 .5h0m.5 .5h0m0 1h0m2-2.5h0m.5 1.5h0m1 1h0m.5-2h0m.5-1.5h0m0 2h0m2-.5h0m.5-2h0m0 2h0m0 2h0m2-2h0m.5 1.5h0m2-2h0m1.5-2h0m2 1.5h0m2-1h0m8-1h0m3 1.5h0m1-.5h0m1.5-1h0m0 1h0m2-1h0m8.5 0h0m2.5 0h0m2.5 2h0m0 2.5h0m2-4h0m0 2.5h0m1.5-.5h0m0 3h0m1.5-.5h0m.5 .5h0m8.5-3.5h0m5.5-1.5h0m1-.5h0m2.5 .5h0m2.5 1h0m1 0h0m2.5 .5h0m75.5-1h0m18 3h0m1 1.5h0m.5-3.5h0m.5 2.5h0m1-2.5h0m0 2.5h0m1.5-2h0m31.5-2h0m1 1h0m2.5 0h0m2.5 0h0m1 0h0m2 1h0m.5-1h0m1.5 0h0m.5 1.5h0m4-2.5h0m5.5 3h0m2-1h0m1-2h0m1 2h0m4-2.5h0m13 1h0m1 .5h0m.5 2.5h0m1-4h0m0 0h0m.5 2h0m104 3h0m0 0h0m1-1.5h0m.5 0h0m1-1.5h0m0 0h0m1.5-1.5h0m0-.5h0m0 1h0m.5-.5h0m-448.5 11h0m6-2h0m1 2h0m1-4h0m.5 3h0m.5-4.5h0m.5 3.5h0m1.5-1.5h0m.5-2h0m0 4.5h0m.5-.5h0m.5 1.5h0m.5-3.5h0m.5 2h0m1.5-4h0m0 1h0m0 2h0m0 1.5h0m.5 0h0m.5-3.5h0m1.5 2h0m0 2.5h0m1.5-4h0m1-.5h0m.5 2.5h0m.5 1.5h0m.5-4.5h0m.5 3h0m1.5-1.5h0m0 .5h0m1-2.5h0m0 5.5h0m1.5-5.5h0m.5 .5h0m0 3h0m1 .5h0m1 .5h0m.5-2.5h0m1 .5h0m1-1.5h0m.5 .5h0m4 2h0m.5 2h0m1.5-1h0m1.5-1.5h0m1 2.5h0m.5-5.5h0m0 1h0m.5 1h0m.5 3h0m.5-1h0m1-1h0m1 1.5h0m.5-3.5h0m0 1.5h0m.5 2h0m1.5-2.5h0m.5 1.5h0m.5-2.5h0m1.5 2h0m1-2h0m22-.5h0m3.5-.5h0m0 2h0m3-1h0m.5 1.5h0m2-1h0m.5 1.5h0m2 .5h0m.5-1.5h0m2-1h0m0 2.5h0m2-3h0m1 1.5h0m.5 1h0m.5-1.5h0m0 3.5h0m.5-1.5h0m0 2h0m0-1h0m.5-3.5h0m1-1h0m0 3h0m.5-3h0m0 0h0m.5 1.5h0m0 3h0m1-2.5h0m.5 1h0m0-1h0m0 0h0m1.5-2h0m0 2.5h0m.5-.5h0m0-2h0m1.5 .5h0m0 2h0m0 2h0m38.5-2h0m.5-2.5h0m2 .5h0m.5 4.5h0m0-2h0m1-1.5h0m5.5 3.5h0m2 0h0m3-2h0m1-1h0m0 3.5h0m57.5-4.5h0m49-.5h0m183.5 1h0m0-.5h0m1 4h0m0 0h0m-461 4h0m1-2h0m2.5-.5h0m1.5 0h0m9 0h0m.5 0h0m4.5 5h0m1 0h0m1-3h0m1-2.5h0m0 3.5h0m1-2.5h0m1 4.5h0m1-4h0m0 1.5h0m1-1.5h0m0 1h0m0 2.5h0m2-1.5h0m0 2h0m1.5-4.5h0m0 2.5h0m3-1h0m2-1.5h0m0 2h0m2-.5h0m1-.5h0m1 .5h0m1-1h0m0 4h0m.5-3h0m1.5 1h0m.5 1.5h0m2-4h0m0 4h0m1-5h0m0 3.5h0m1 2h0m.5-4h0m1.5 1h0m1 2.5h0m.5-3.5h0m0 1h0m1.5 2h0m1.5-1h0m1.5-3h0m0 3.5h0m1.5 1h0m1-4h0m0 2.5h0m1.5-2.5h0m1.5 .5h0m1.5 2h0m1.5-1h0m1-1h0m47-1.5h0m0 1h0m.5-.5h0m1 2h0m1-2h0m1.5 4.5h0m1.5-2.5h0m.5 2h0m2-2h0m0 3h0m.5-2.5h0m2 2h0m23.5-3h0m5 3h0m1.5 .5h0m2-2h0m.5 1.5h0m1-2h0m.5 1h0m.5-2.5h0m1.5 1.5h0m.5 1h0m1.5-2.5h0m.5-1h0m0 3h0m.5-3.5h0m1 2h0m1 2.5h0m.5-1.5h0m0 1h0m.5-3h0m1.5-.5h0m.5 1.5h0m1 .5h0m.5-1h0m0 4h0m1-1h0m1-4h0m0 2h0m1 0h0m2 1h0m1 1h0m174-2.5h0m6.5-.5h0m.5 1h0m1.5-1.5h0m1 .5h0m1-1h0m.5 1h0m.5-1h0m21 4h0m1 .5h0m1-5h0m1 4h0m0 .5h0m.5 .5h0m1-1.5h0m.5 1h0m0-1h0m0 1.5h0m0-.5h0m.5 0h0m1-2h0m0 .5h0m0-1h0m0 1h0m.5 2h0m1-3.5h0m0 3.5h0m.5-3h0m.5 3.5h0m.5 0h0m68.5 0h0m1-1.5h0m0 0h0m2-2h0m0 0h0m64.5 3h0m18-1h0m.5 1h0m3-2h0m1-.5h0m-527 4.5h0m0 1.5h0m1 1.5h0m1.5-2.5h0m.5 1h0m1.5-2h0m2 0h0m14 .5h0m1 1.5h0m4 1h0m.5-3h0m.5 1h0m.5-1.5h0m1.5 1h0m66.5 0h0m3-.5h0m0 2h0m0 1.5h0m2.5-1.5h0m0 2h0m.5-3h0m1 3h0m.5-3h0m0 1h0m1.5-2.5h0m.5 2.5h0m0 1.5h0m2-1h0m0 2h0m.5-4.5h0m.5 1h0m.5 1h0m0 2h0m1 1h0m2-2.5h0m1 2h0m1-2h0m.5 1h0m1.5 0h0m1.5-1.5h0m1 2h0m1.5-1.5h0m1 1h0m1-.5h0m0 0h0m1.5-1h0m1.5 0h0m1 2.5h0m2-3h0m.5 .5h0m0 2h0m1-4.5h0m1 .5h0m.5 4h0m.5-2h0m0 2.5h0m0-2h0m1.5-3h0m1.5 1.5h0m186 3h0m2-2h0m2.5-2.5h0m0 0h0m8 5.5h0m6-1.5h0m5.5 1.5h0m2-.5h0m0 0h0m2-.5h0m1-.5h0m1.5-.5h0m4.5-2h0m.5 .5h0m1.5-1.5h0m.5-.5h0m.5 0h0m.5 0h0m0 0h0m8.5 0h0m1.5 .5h0m1-.5h0m2 2.5h0m0-2h0m0 1h0m1 1h0m.5 0h0m.5-.5h0m1 2h0m.5 .5h0m0-.5h0m60.5 1.5h0m.5-1.5h0m0 1.5h0m.5-1h0m1-4.5h0m0 1.5h0m0 .5h0m67.5-1.5h0m1.5 2h0m1.5 0h0m1.5 .5h0m.5 2h0m.5-.5h0m2-2.5h0m1.5 0h0m.5 3h0m1.5-.5h0m1-.5h0m2.5 .5h0m2.5-4h0m2 4h0m1 1h0m4.5-.5h0m16-3h0m88 2h0m1-.5h0m3.5 .5h0m-607 7.5h0m1-4h0m0 2h0m1.5 0h0m68-3h0m1 2.5h0m.5 1h0m1-2.5h0m.5-1h0m.5 3h0m0 2h0m2-2.5h0m0 1.5h0m.5-3.5h0m.5 0h0m1 1.5h0m0 3h0m.5-4.5h0m1.5 1h0m1-2h0m.5 5h0m2-2.5h0m0 2h0m.5-3h0m1 3h0m.5-1.5h0m.5-2h0m2-1h0m0 2.5h0m0 1.5h0m1-4h0m.5 3.5h0m2 1h0m2-4.5h0m0 4h0m1-1h0m.5-3h0m.5 1.5h0m0 4h0m.5 0h0m.5-1h0m.5-3h0m.5 1.5h0m2-2h0m0 4.5h0m.5-4.5h0m0 1h0m.5 3h0m1-3.5h0m2-.5h0m.5 4.5h0m.5-2.5h0m2.5 0h0m1 1h0m.5 1h0m123-2.5h0m7-.5h0m75-2h0m44.5 1.5h0m112.5 2h0m5.5-1h0m1.5 .5h0m1-3h0m2 3h0m0 2h0m.5-5h0m.5 2.5h0m.5 2.5h0m2-3h0m1-2h0m.5 4h0m2.5 .5h0m.5-3.5h0m0 1h0m.5 .5h0m0 3h0m.5 0h0m1.5-3h0m.5 2h0m1-3.5h0m.5 4.5h0m.5-2.5h0m.5-2h0m1 1h0m.5-1.5h0m1.5 2h0m1-1.5h0m.5 2.5h0m1-1.5h0m1-2h0m1 2h0m1.5-.5h0m.5 2.5h0m2.5-1.5h0m.5-1.5h0m0 2.5h0m0 .5h0m1.5-1.5h0m3-.5h0m81.5 3h0m2-2.5h0m.5 3h0m.5-3.5h0m.5-.5h0m3-.5h0m0 2h0m0 2h0m1-4.5h0m2 4.5h0m.5-5h0m0 1.5h0m1.5-1.5h0m0 5.5h0m2.5-2.5h0m.5-.5h0m1-1h0m.5 1.5h0m1.5 1.5h0m1.5-.5h0m2 1h0m3 .5h0m10.5 0h0m-628.5 .5h0m3 1h0m1.5-1h0m67.5 1h0m0 1.5h0m1.5-.5h0m0 2h0m1-4h0m0 4h0m2.5-2h0m1.5-1h0m0 1h0m.5 3h0m1.5-.5h0m1-2h0m1 1h0m0 2h0m.5-3.5h0m.5-2h0m1 4h0m.5-1.5h0m1-1.5h0m1.5 0h0m0 2h0m0 .5h0m1.5-3.5h0m.5 3.5h0m1.5 .5h0m.5-1.5h0m.5-2.5h0m1 3.5h0m.5-3.5h0m.5 2.5h0m1-1h0m1-1.5h0m1.5 2.5h0m0 2h0m1 0h0m.5-3h0m1.5 2h0m1.5-3.5h0m.5 3h0m.5 1.5h0m1-3.5h0m.5 2h0m0 1h0m1.5-3.5h0m0 5h0m.5-1.5h0m.5-1h0m.5-3h0m1 1h0m.5 3.5h0m.5-2h0m1 1h0m1 1.5h0m70.5-2.5h0m.5-1h0m153.5 4h0m1.5-.5h0m126-3h0m2.5-.5h0m1 0h0m2-1h0m1 1.5h0m6-2h0m1.5 3h0m.5-2.5h0m.5 5h0m2.5 0h0m.5-2.5h0m0 .5h0m1-2h0m0 3h0m1.5-1.5h0m2-.5h0m1.5-2h0m1 .5h0m0 3h0m.5-2h0m1.5 .5h0m0 1h0m1.5-3h0m0 1h0m2 3h0m2.5-4h0m0 1.5h0m0 3h0m1-4h0m2 2.5h0m.5-2.5h0m.5 4.5h0m2-5h0m.5 1.5h0m0 3h0m.5-3h0m86 3h0m2-1.5h0m1 0h0m.5-2h0m.5 4h0m2-4h0m0 2.5h0m2-.5h0m.5-3.5h0m0 .5h0m.5 2.5h0m.5-1h0m0 3.5h0m2-2h0m1-3.5h0m.5 1h0m0 2.5h0m1-1.5h0m1.5 0h0m1.5 0h0m0 .5h0m1-2h0m1 4.5h0m.5-2h0m.5-1.5h0m1 1.5h0m1-2.5h0m1 3.5h0m1.5-2.5h0m1 2.5h0m.5-2.5h0m.5 4h0m4-1.5h0m2-1h0m1.5-.5h0m1.5-2.5h0m1 3h0m0 2h0m1-5h0m0 2h0m.5 1.5h0m1-3h0m1 4.5h0m.5-1.5h0m.5-3.5h0m1 1.5h0m0 1.5h0m.5 2h0m1.5-1.5h0m0 2h0m-562.5 2.5h0m0 2.5h0m1 1h0m1-5.5h0m0 3.5h0m.5-1h0m1-2h0m0 2h0m1-2h0m0 3h0m3.5-1h0m0 2.5h0m1-4.5h0m0 1.5h0m1 3.5h0m1-4h0m1 2.5h0m1.5-4h0m.5 2.5h0m0 1h0m1-1.5h0m1.5 1.5h0m.5 .5h0m.5-3.5h0m1.5 3.5h0m.5-3h0m2-1h0m0 2h0m1-2h0m0 3h0m0 2.5h0m1-1.5h0m1-1.5h0m.5-2.5h0m0 3.5h0m.5 2h0m1.5-5h0m1.5-.5h0m66.5 3h0m1.5 2h0m37.5-3h0m3 1.5h0m.5 2h0m1.5-.5h0m8-1.5h0m45.5 1h0m1.5-3h0m0 0h0m0 1.5h0m0 2.5h0m.5-2.5h0m1-.5h0m1-2h0m30.5 4.5h0m1.5 0h0m21-3h0m4 3.5h0m1.5-1h0m.5 0h0m1 0h0m0-.5h0m.5-.5h0m1.5-.5h0m2-1h0m.5-1h0m1 0h0m0 0h0m132 3.5h0m1.5-.5h0m3 1.5h0m7.5-5.5h0m3 5h0m3.5-.5h0m4.5-2.5h0m3-1.5h0m0 2h0m.5 1.5h0m2.5-3h0m2-.5h0m91.5 4.5h0m1.5 .5h0m.5-2.5h0m1.5 .5h0m.5-2h0m1 3.5h0m1-3.5h0m0 2h0m1.5 0h0m2 2h0m.5-4h0m.5 0h0m1 1.5h0m.5 2h0m.5-5h0m.5 3h0m.5-2h0m0 3.5h0m1.5-.5h0m.5-2h0m1 3.5h0m.5-5.5h0m.5 .5h0m0 2h0m0 2.5h0m1-3h0m0 .5h0m1 3h0m1.5-4h0m1 1.5h0m1-2.5h0m0 2h0m2.5-.5h0m3.5-.5h0m.5-1.5h0m1 1.5h0m1.5-.5h0m1-1h0m2.5 0h0m1.5 3.5h0m1 2h0m-564 6h0m1.5-.5h0m1.5-.5h0m1-2h0m0 3h0m1.5-1h0m.5-4.5h0m0 4h0m.5 1h0m.5-2.5h0m2 .5h0m.5-1.5h0m1 2.5h0m.5-2h0m1.5-2h0m.5 2h0m.5 2h0m.5-3.5h0m0 3.5h0m1-3.5h0m0 .5h0m1 .5h0m1.5-1h0m.5 2h0m0 3h0m3.5-5.5h0m6 .5h0m1 0h0m1 1h0m1.5 .5h0m2-1.5h0m.5 2h0m2-1h0m57 1.5h0m0-.5h0m1.5-.5h0m2 1.5h0m0 2h0m1.5-1.5h0m.5-2.5h0m11.5 2h0m37.5-2h0m1-.5h0m2 0h0m0 3.5h0m1-1.5h0m1.5 1.5h0m.5 0h0m2 0h0m1.5 1h0m14.5 0h0m2.5-.5h0m2-1.5h0m3-1h0m1.5-1h0m.5 0h0m5.5 0h0m2 2h0m14-3.5h0m32.5 5.5h0m1.5 0h0m1-2h0m0 2h0m2-.5h0m1-2h0m0 2h0m1-5h0m.5 5.5h0m1.5-1h0m1 0h0m12-1h0m0 0h0m.5-.5h0m1-1h0m0 1h0m0 0h0m2-1.5h0m.5 .5h0m.5 .5h0m1-1h0m0 .5h0m0-.5h0m.5-.5h0m2-1h0m.5 0h0m143 0h0m9.5 4.5h0m.5-4.5h0m1 2.5h0m0 2h0m1.5-3h0m0 2h0m.5-2.5h0m.5 4h0m.5-1h0m1-3.5h0m0 2h0m98 1.5h0m.5 0h0m2-.5h0m.5 1.5h0m1-2.5h0m.5 3h0m1.5-4.5h0m1 2h0m1-1.5h0m0 3h0m1-3.5h0m0 2.5h0m1-.5h0m0 1.5h0m1.5-4h0m0 1.5h0m.5 3.5h0m.5-5h0m1 4.5h0m.5-1h0m1.5 .5h0m1 1h0m3-2.5h0m0 1.5h0m.5-3.5h0m0 4.5h0m3-3h0m.5-.5h0m1 3.5h0m1-1.5h0m1.5 1.5h0m18-4h0m-574 10h0m3-1.5h0m1.5-1h0m2-1h0m0 2.5h0m.5-2h0m2.5-2.5h0m.5 3h0m.5 .5h0m1.5-1h0m.5 1h0m3 .5h0m1.5-3.5h0m1 1.5h0m2-2h0m100.5 4h0m.5-1.5h0m0 3h0m1.5-3.5h0m2 1.5h0m1-3h0m0 1.5h0m0 3.5h0m1-1h0m.5-4h0m1 1h0m.5 1.5h0m.5 .5h0m1-1h0m.5 2.5h0m1.5-1.5h0m0 2h0m9-4h0m2.5 0h0m1.5 .5h0m2 1h0m1.5 .5h0m7.5-1.5h0m.5-1.5h0m.5 2h0m1-2.5h0m1.5 1.5h0m1-1.5h0m0 4h0m.5-2h0m1 1h0m0 2h0m.5-2.5h0m0 .5h0m1.5-3h0m.5 5.5h0m.5-5h0m0 2.5h0m2.5-1.5h0m0 2h0m1.5-1h0m1 2.5h0m.5-3.5h0m0 1h0m0 2.5h0m0-2.5h0m2.5 1.5h0m3.5-3.5h0m12 5h0m5.5-1.5h0m1 1.5h0m10.5-.5h0m1-.5h0m0 .5h0m1-2h0m1.5 2h0m.5-1.5h0m1.5 1.5h0m.5-1h0m.5 0h0m.5 1h0m1.5-.5h0m0 1h0m0-2h0m0 1.5h0m1-2h0m.5 1.5h0m1 0h0m.5 1h0m0-2h0m.5-.5h0m.5 1h0m1-.5h0m0-.5h0m0 2.5h0m1-1h0m.5 .5h0m1-1.5h0m0 1.5h0m1 .5h0m2.5-2h0m.5 .5h0m.5 1h0m1.5-.5h0m.5 1h0m1.5-1.5h0m3-1.5h0m0 .5h0m.5 1.5h0m0 1h0m1-3h0m1 3h0m1-2h0m1-1.5h0m0 3h0m.5-1h0m.5-2.5h0m1 2.5h0m.5-2.5h0m1 2h0m0 1.5h0m1.5 .5h0m.5-3h0m1-1h0m0 2.5h0m1-.5h0m1-2h0m1.5 .5h0m.5 3h0m.5-4h0m.5 3h0m.5-1.5h0m1 3h0m.5-3.5h0m.5 2h0m1.5-2h0m0 2h0m.5-3.5h0m1.5 1.5h0m0 1.5h0m1 .5h0m.5-2h0m1.5 1h0m.5 2h0m19.5 .5h0m109.5-3h0m0 0h0m2.5 1h0m0-1h0m1.5 1h0m.5 .5h0m.5-.5h0m1.5 1.5h0m32.5-5h0m.5 .5h0m4.5-.5h0m78.5 5.5h0m2-1.5h0m.5 .5h0m15-2.5h0m0 2.5h0m.5-2.5h0m2.5 1h0m.5 1h0m.5-2h0m.5-2h0m0 1.5h0m.5 4h0m1-4h0m1 1h0m0 3h0m1.5-4h0m.5 3.5h0m.5-2h0m1.5-2h0m1 3.5h0m.5-1.5h0m1-1.5h0m.5 2h0m1-2h0m0 3h0m1-2h0m1-2h0m.5 3.5h0m.5-4h0m2 1.5h0m0 1.5h0m2-2h0m0 3.5h0m.5-1h0m1-2.5h0m1.5 2h0m.5 2h0m2.5-3.5h0m1 2.5h0m.5 1.5h0m2-5.5h0m.5 2.5h0m.5 3h0m1-4h0m0 1.5h0m.5 2.5h0m.5-3h0m1 3h0m1.5-3.5h0m1.5-.5h0m.5 1h0m2-1h0m0 1h0m0-1.5h0m1.5 .5h0m.5 2h0m.5-3h0m1.5 1h0m.5-1h0m3 1h0m0-1.5h0m1 .5h0m-574.5 6h0m1.5-.5h0m79 3.5h0m29.5-3h0m.5 3.5h0m1-3h0m1 3h0m1-3.5h0m.5 .5h0m0 4h0m1 .5h0m1-5.5h0m0 2.5h0m1-2h0m.5 1.5h0m0 1h0m3-1.5h0m.5 2.5h0m.5-3.5h0m.5 2h0m1 2h0m1-2.5h0m0 2h0m.5 1.5h0m1-4.5h0m0 4.5h0m.5-2h0m.5-3h0m1 1.5h0m.5 1h0m1-1h0m0 2h0m.5 1.5h0m1.5-1h0m.5-.5h0m.5-3.5h0m0 5h0m1-4h0m1.5 2.5h0m1-2h0m2.5 .5h0m3 1h0m3 1h0m7.5 .5h0m3 0h0m.5 .5h0m5.5 0h0m2-4.5h0m1 .5h0m1.5-1h0m15 4h0m1-.5h0m1 1h0m.5-1.5h0m.5 1h0m1-3.5h0m1 2.5h0m.5-2h0m.5 4h0m.5-4h0m.5 4h0m2 0h0m12.5-2.5h0m.5 1.5h0m1.5 0h0m.5-3h0m0 1h0m2 1h0m0 1h0m.5-1h0m1 1.5h0m1-3.5h0m0 1.5h0m0-1.5h0m.5 0h0m0-1.5h0m0 4h0m1 1h0m0-2.5h0m.5 0h0m.5-2h0m.5 1h0m0 2.5h0m.5-2.5h0m0 3.5h0m0 .5h0m.5-3.5h0m1 2.5h0m0-3.5h0m.5 2h0m1-.5h0m0-2h0m.5 4h0m0-2.5h0m0 2h0m.5-2.5h0m1 2h0m0 .5h0m0-2h0m.5-2h0m0 5.5h0m.5-4h0m0 1.5h0m.5-1h0m0 3.5h0m.5-4.5h0m0 2.5h0m.5 .5h0m.5-3h0m.5 2.5h0m.5-1.5h0m.5 2.5h0m.5-4.5h0m1 2.5h0m.5 .5h0m0 2h0m1.5-3.5h0m.5 2h0m0 1h0m.5-2h0m0 1h0m1.5-3h0m.5 1h0m0 3.5h0m.5-2.5h0m1-2.5h0m1 3h0m.5-1.5h0m0 3h0m1.5-2h0m0 2.5h0m.5-3h0m.5 3h0m.5-3h0m0 1.5h0m2.5-3h0m0 .5h0m0 2.5h0m0 1.5h0m.5-1h0m0 1.5h0m2-2h0m1-2.5h0m0 3.5h0m1.5-4h0m1 .5h0m0 3.5h0m1-4.5h0m.5 3h0m0 2.5h0m1.5-3h0m0 1h0m0 1h0m1-1h0m1.5-2.5h0m1 1h0m0 3.5h0m.5-5.5h0m.5 .5h0m.5 2.5h0m1-2.5h0m0 1.5h0m0 3.5h0m1-2.5h0m.5-3h0m0 2.5h0m1.5-1h0m.5 2h0m0 2h0m1.5-.5h0m.5-1h0m.5-3h0m0 2h0m.5-2.5h0m2 2h0m.5 .5h0m1.5 0h0m1 2h0m2.5 0h0m27.5 .5h0m0 0h0m3-.5h0m1-.5h0m.5 0h0m2 1h0m1.5-3h0m1 1.5h0m0 1.5h0m1.5-1.5h0m1 1h0m1.5-3.5h0m0 2.5h0m1 1h0m.5-2h0m1-2.5h0m0 1h0m1.5 4h0m.5-4.5h0m0 4.5h0m.5-5.5h0m0 2.5h0m1 0h0m1-2h0m.5 1h0m2 4h0m1-1.5h0m2.5 .5h0m73-4.5h0m1.5 .5h0m102.5 4.5h0m.5 0h0m.5-1h0m.5 0h0m.5 0h0m1.5-1h0m2-1h0m3-2h0m21.5 .5h0m1.5 .5h0m1.5 0h0m.5 4h0m1.5-1.5h0m1-3h0m1 2h0m2-.5h0m1-1.5h0m.5 2h0m.5 3h0m1-5h0m1 1h0m1 1h0m.5 2.5h0m.5-4h0m2 0h0m0 2.5h0m.5 2h0m2-5h0m0 3h0m0 1.5h0m1.5-5h0m.5 4.5h0m.5-4h0m0 4.5h0m.5-2h0m2 2h0m.5-4h0m0 1.5h0m1.5 0h0m.5-1.5h0m.5 3h0m1-3h0m.5 3h0m.5-.5h0m1 1h0m.5-2.5h0m.5-2h0m1 4h0m1-2.5h0m0 1.5h0m2-3h0m1 1h0m.5 3.5h0m1-2h0m1-1h0m1 4h0m.5-3h0m1 1.5h0m2.5 1.5h0m1-2h0m4 1.5h0m-465 3h0m.5 1h0m1-2h0m1-1h0m.5 3.5h0m.5 0h0m1-2h0m1.5 2h0m.5 1.5h0m.5-4h0m.5-.5h0m.5 4h0m.5 .5h0m1-2.5h0m0 1.5h0m1.5-2h0m.5 1h0m0 2.5h0m1-4h0m1 2.5h0m2-3h0m0 2h0m0 2h0m2.5-4.5h0m0 1.5h0m.5 2h0m1-1h0m2.5 2h0m1-4h0m1-.5h0m1 3h0m0 .5h0m4-1h0m8.5-2h0m2 1h0m1.5-2h0m2 1.5h0m1-.5h0m0 1h0m2 0h0m1-2h0m.5 2h0m2 .5h0m15 2.5h0m1 0h0m1.5-3h0m0 3.5h0m.5-.5h0m1-4.5h0m.5 2.5h0m.5 2h0m.5-4.5h0m1 1h0m0 .5h0m1.5 3h0m.5-2h0m.5 2h0m.5-4.5h0m.5 2.5h0m.5 1.5h0m1.5-3.5h0m.5 1.5h0m1.5 2h0m.5-1.5h0m.5-2.5h0m.5 2h0m.5 1.5h0m1.5-1h0m0 1.5h0m2.5-1h0m.5 0h0m1.5 .5h0m.5 1.5h0m10 0h0m3 0h0m1-5.5h0m2 0h0m2 0h0m3.5 5h0m.5-4.5h0m0 3.5h0m.5 1.5h0m.5-2.5h0m0 2h0m1 0h0m.5-2h0m1 2.5h0m.5-5h0m0 3h0m.5 1.5h0m1-4.5h0m.5 4.5h0m.5-1.5h0m1-3.5h0m0 1.5h0m1.5 2h0m.5 .5h0m.5-2.5h0m.5 4h0m1.5 0h0m.5-5h0m1 .5h0m1 .5h0m0 1h0m0 2h0m2-3h0m0 2h0m0 2h0m2-2.5h0m0 2h0m1-3.5h0m.5 2h0m0 1.5h0m.5-4.5h0m0 2.5h0m.5 1.5h0m2-4h0m0 4h0m.5-.5h0m.5-3h0m1 2h0m.5 2.5h0m1-4h0m.5 2h0m.5 1h0m.5-1h0m1-2h0m0 3.5h0m1.5-3h0m.5 1.5h0m.5-.5h0m.5-2.5h0m.5 0h0m.5-.5h0m0 5h0m1-.5h0m.5-1h0m1.5-1.5h0m1-1.5h0m0 4h0m.5-.5h0m1.5-4h0m0 2.5h0m.5-2h0m1 5h0m1-2.5h0m.5-1.5h0m0 3.5h0m1-3h0m.5 1h0m.5-2.5h0m0 3.5h0m1.5-1h0m.5 1.5h0m.5-3h0m.5 3h0m.5-1.5h0m1-1.5h0m0 1h0m1.5-1h0m1 2.5h0m1 1h0m.5-1h0m.5-.5h0m0 1.5h0m1-2h0m0 2h0m.5-.5h0m2-1h0m1-1h0m1.5 0h0m.5 2h0m.5-.5h0m0 1h0m1.5-2h0m0-1h0m1.5-.5h0m1-.5h0m2.5 0h0m2-.5h0m0 0h0m4-.5h0m6.5 1.5h0m2.5 0h0m0 1.5h0m.5-2h0m2 2h0m1-3h0m.5 1h0m1.5 .5h0m0 1h0m1.5 0h0m0 2h0m1 1h0m.5-2.5h0m.5-1.5h0m1 3h0m1.5-4h0m0 3.5h0m.5-1h0m.5-3h0m.5 1.5h0m0 4h0m.5-1h0m1.5-2.5h0m0 .5h0m2-2.5h0m0 5h0m.5-4h0m0 2.5h0m.5 0h0m0 2h0m1-4.5h0m1.5-1h0m.5 1.5h0m1-1.5h0m112 .5h0m1-.5h0m55 2.5h0m1-.5h0m.5-.5h0m1.5-.5h0m1-1h0m0 .5h0m40-.5h0m2.5 1h0m1.5 0h0m3 .5h0m2 2h0m.5-1.5h0m1-1h0m1-.5h0m2 1h0m1.5 1.5h0m.5 .5h0m0 1.5h0m.5-4.5h0m1 3.5h0m1-4h0m.5 3h0m1-1h0m.5-1h0m0 3.5h0m2.5-4.5h0m0 5.5h0m.5-3.5h0m1 .5h0m.5-2h0m0 3.5h0m1.5-2.5h0m0 1.5h0m0 1h0m2.5-4h0m.5 4h0m1-3h0m0 2h0m0 1.5h0m1.5-2h0m0 3h0m2.5-2h0m1 2h0m1-5h0m.5 .5h0m1 1.5h0m0 2h0m2-4.5h0m1 5.5h0m.5-3.5h0m.5-1h0m1.5 0h0m0 1h0m0 2h0m2-2h0m2-1h0m0 1.5h0m1 1.5h0m2-1h0m.5 1.5h0m.5 0h0m1-1h0m64.5 1h0m1.5-1h0m3-1.5h0m-561 9.5h0m0 0h0m2.5-1h0m2-.5h0m0 1h0m2-1.5h0m1.5 .5h0m1-1h0m1 .5h0m13-3h0m.5 1h0m2 0h0m2 0h0m1.5-1h0m5.5 5h0m1.5-1.5h0m3 .5h0m1 1h0m4-1.5h0m1.5 1h0m22.5-.5h0m0 1h0m1.5-2h0m2 1h0m1.5 .5h0m.5-2h0m.5 1.5h0m1 0h0m1.5-3h0m0 1.5h0m1.5 2h0m.5-4.5h0m0 4h0m1-3h0m0 4h0m.5-3.5h0m0 2h0m.5-3h0m2 3.5h0m.5-2h0m.5-1.5h0m.5 3.5h0m.5-2.5h0m1-1h0m0 4.5h0m.5-1.5h0m1-2.5h0m.5-.5h0m1 1h0m0 3.5h0m.5-2h0m.5-2h0m0 2.5h0m1-3h0m1 3h0m.5-4h0m0 2h0m1 .5h0m0 2h0m.5 1h0m1-4.5h0m1 4.5h0m.5-4h0m.5 1h0m0 2h0m.5-1.5h0m2-2.5h0m.5 4.5h0m.5-1.5h0m1 2h0m.5-3.5h0m1.5 1h0m0 .5h0m1-3h0m0 5h0m.5-2h0m1-2h0m1 4h0m.5-1h0m1-2h0m.5-2.5h0m.5 3.5h0m1.5-2h0m.5-1h0m.5 3.5h0m1.5-2h0m.5 .5h0m0 3h0m.5-3h0m.5 1h0m0 1.5h0m.5-4h0m0 3h0m.5-3.5h0m0 2h0m0 2h0m0-2h0m.5 3h0m.5-4.5h0m0 3h0m1 .5h0m.5-4h0m0 2.5h0m.5-1.5h0m.5-1h0m0 0h0m0 1.5h0m.5-1h0m.5 3.5h0m.5-2h0m0 .5h0m.5-1h0m0 2h0m.5 1h0m0-2.5h0m1 2h0m.5 1h0m0-5h0m0 2h0m.5 .5h0m.5-.5h0m0 1.5h0m.5-3h0m.5 2.5h0m0-2.5h0m1 1.5h0m0-.5h0m1 2.5h0m.5-3.5h0m1.5 3h0m1-1.5h0m0 0h0m1-2h0m3-.5h0m0 2h0m.5-2h0m1.5 3h0m1-2h0m0 3.5h0m.5-4.5h0m.5 .5h0m2 4h0m1-3h0m1 .5h0m0 2h0m0 1.5h0m1.5-2.5h0m0 1h0m1-4h0m0 4h0m1-.5h0m1.5-3.5h0m.5 4.5h0m.5-3.5h0m0 1.5h0m.5 2h0m1-2.5h0m1-2h0m0 3h0m0 .5h0m1.5-3.5h0m1 4h0m1.5 1h0m.5-3h0m.5 2h0m.5-1h0m1.5 2h0m.5-4.5h0m1 2h0m.5-1.5h0m1 3h0m.5-1.5h0m.5-1.5h0m.5 3.5h0m0 1h0m.5-3h0m.5-1.5h0m1 4h0m.5-2.5h0m.5-2h0m0 4h0m.5-2h0m1-2h0m0 4h0m1-2h0m.5-1h0m.5 2h0m1.5-2.5h0m1.5 .5h0m3 0h0m.5-.5h0m1.5 0h0m3.5 0h0m.5 0h0m1.5 1h0m.5 0h0m1.5 1.5h0m2 1h0m27.5-4h0m1 2h0m1-.5h0m1.5 3.5h0m.5-4.5h0m.5 3.5h0m.5-2h0m1.5-.5h0m.5-1h0m0 2h0m0 2.5h0m1-2.5h0m0 1.5h0m2 1h0m.5-5.5h0m2 5h0m1.5-1.5h0m1 1.5h0m1.5-.5h0m1.5 .5h0m2.5 0h0m2.5 .5h0m101 0h0m5.5-3h0m2 2.5h0m.5-2h0m.5-1h0m1.5 .5h0m.5-1h0m1 4h0m.5-3h0m.5-1.5h0m.5 4.5h0m.5-4.5h0m1 4.5h0m1.5-2.5h0m0 2.5h0m1.5-5h0m.5 2h0m1 1h0m0 1h0m2 1h0m1-2h0m1 1.5h0m1.5 0h0m3 0h0m.5-1.5h0m.5-.5h0m10 1.5h0m1-.5h0m2.5 1.5h0m2.5-3h0m0 2.5h0m4.5-2h0m14.5 2.5h0m2.5-.5h0m1-.5h0m2-1h0m1 0h0m1.5-.5h0m2-.5h0m46-2.5h0m1 2.5h0m.5-1.5h0m1.5 4h0m.5-3h0m18.5-.5h0m.5-1.5h0m2 1.5h0m0 3h0m.5-2.5h0m1.5 3h0m.5-2h0m.5-2h0m.5 2.5h0m-492.5 4h0m1.5-.5h0m1 1h0m1.5-1.5h0m1 .5h0m1.5 0h0m23.5-1h0m9 5h0m2.5-2.5h0m.5-2.5h0m1 4.5h0m1-3.5h0m0 1h0m1-1h0m0 1h0m2-1h0m0 1h0m0 2h0m1-.5h0m2-3h0m.5 3h0m0 1.5h0m1-4.5h0m1 5h0m2-5.5h0m2.5 3h0m.5-3h0m1 0h0m2 3h0m.5 1.5h0m1.5 0h0m.5 .5h0m5-1.5h0m.5 2h0m1-2.5h0m1.5-.5h0m0 2.5h0m2 .5h0m.5-3h0m.5-2.5h0m.5 3h0m1 1.5h0m.5-.5h0m.5-2h0m1 3.5h0m.5-4h0m.5 3h0m.5-4h0m.5 .5h0m.5 2.5h0m1 .5h0m0 .5h0m1-4h0m0 1h0m1 2h0m0 1.5h0m1-3h0m1.5 0h0m0 1.5h0m1.5 2h0m.5-3h0m.5 1h0m.5-1.5h0m.5-1h0m1 3.5h0m1.5-4.5h0m1 1h0m0 4h0m.5-3h0m0 1h0m.5-.5h0m.5 2.5h0m.5-4h0m1.5 2.5h0m.5 1h0m1-1.5h0m.5-3h0m.5 2.5h0m.5-2.5h0m1 4h0m1-2h0m0 2h0m.5 .5h0m1 0h0m.5-3.5h0m0 2.5h0m1.5-3.5h0m0 5.5h0m.5-3.5h0m.5-1h0m0 2h0m1.5 1h0m.5-2.5h0m1 1.5h0m.5 2.5h0m1.5-4h0m.5 2.5h0m0 1h0m2-2h0m1-2h0m0 3h0m1.5-3h0m.5-1h0m1.5 1h0m0 1.5h0m.5-2h0m0 5h0m.5-1.5h0m1 1h0m.5-5h0m1 2h0m0 1.5h0m0-2h0m.5 2h0m.5 2h0m1-4.5h0m0 4.5h0m0-5h0m.5 2h0m1-.5h0m.5-2h0m.5 3h0m0 2.5h0m.5-4h0m0 2.5h0m.5-1.5h0m.5-2.5h0m.5 .5h0m0 2h0m0 1h0m0 1.5h0m.5-3h0m0 2.5h0m1 0h0m.5-.5h0m0-2.5h0m.5 3.5h0m0-1.5h0m.5-3.5h0m0 1.5h0m.5 0h0m0 2h0m0 1.5h0m1-4.5h0m0 2.5h0m.5-3h0m.5 2h0m0 1h0m.5-1.5h0m0 2.5h0m.5-2.5h0m.5-1h0m0 4.5h0m1-1h0m.5-1h0m.5-2.5h0m1.5 3h0m1 .5h0m0 1h0m2 .5h0m1-1h0m1-1h0m.5-1h0m.5 3h0m1-3h0m.5 2h0m.5-4h0m1.5-.5h0m.5 2.5h0m1.5-.5h0m0 2.5h0m.5-1h0m1-2.5h0m.5 .5h0m0 4h0m1 0h0m.5-1.5h0m.5-2h0m1 1h0m2 2h0m.5-4.5h0m0 4.5h0m.5-3h0m.5 1.5h0m.5-3.5h0m.5 2.5h0m.5 1.5h0m1-3.5h0m0 2h0m.5 2h0m.5-3h0m.5-1.5h0m1.5 3.5h0m0 2h0m.5-4.5h0m.5 1h0m.5-1.5h0m0 3h0m3-3.5h0m.5 1.5h0m.5 1h0m0 1h0m1.5 1.5h0m.5-1h0m.5-4h0m.5 1.5h0m1-1h0m.5 1.5h0m0 2.5h0m1-.5h0m1-2.5h0m1 1.5h0m2-3h0m3.5 2.5h0m13.5-2.5h0m0 .5h0m1.5 0h0m1.5 1h0m2 .5h0m0 .5h0m5.5 2h0m2.5 0h0m5.5-.5h0m2 .5h0m2.5 .5h0m2 0h0m0 0h0m2 .5h0m3.5-5.5h0m1 3h0m.5 1.5h0m.5-1.5h0m.5-2.5h0m1-.5h0m1 3h0m0 1h0m1.5 1h0m.5-2h0m.5-1.5h0m1 .5h0m0 3h0m.5-3.5h0m1-1.5h0m.5 3.5h0m1 1.5h0m1-4.5h0m0 4.5h0m1.5-5h0m.5 5.5h0m.5-2.5h0m.5 2h0m.5-4h0m1 2h0m2 1h0m.5-3h0m.5 2h0m0 2h0m1.5-1.5h0m0 2h0m1.5-4.5h0m.5 0h0m0 1.5h0m86 2h0m4 .5h0m1-2.5h0m2.5 1.5h0m1-1.5h0m.5-1.5h0m.5 3.5h0m.5-4h0m2 1.5h0m0 2.5h0m1-1h0m1-2.5h0m.5 4h0m1.5-2.5h0m.5-1.5h0m1 2h0m2-1.5h0m0 2h0m0 2h0m1.5-2h0m.5-3h0m.5 5h0m1.5-5h0m0 1.5h0m2 1.5h0m.5-3h0m0 4h0m2-2h0m.5 3h0m1.5-2h0m0 .5h0m1-2.5h0m.5 1.5h0m1 .5h0m1 1.5h0m1.5-3.5h0m0 1h0m1.5 2h0m1-2.5h0m.5-1.5h0m0 4.5h0m1-2.5h0m.5-2h0m2.5 2h0m0 2h0m.5-3h0m1.5 2h0m.5-2.5h0m0 2h0m0 1.5h0m.5-3.5h0m2 4.5h0m.5-2h0m1.5-.5h0m.5 1.5h0m1-4h0m1 2.5h0m.5-2.5h0m1.5 1.5h0m2-2h0m0 1h0m0 2h0m0 1h0m1-1.5h0m0 3h0m3 0h0m2.5-1h0m0 0h0m3 1h0m1.5-1.5h0m65.5-3h0m8 .5h0m5 1.5h0m2 2.5h0m0 0h0m2.5 0h0m6.5-5.5h0m1.5 .5h0m126.5 4.5h0m-588.5 1h0m6.5 5h0m1-2.5h0m0 2h0m1-4.5h0m1 2.5h0m.5 2.5h0m1-5h0m.5 4.5h0m.5-2.5h0m.5-1h0m1 1h0m1 2h0m.5-3h0m0 1h0m1.5-1.5h0m.5 1.5h0m0 3h0m2-5h0m0 3h0m0 1.5h0m0-.5h0m1.5-4h0m1 4h0m.5-3h0m0 .5h0m1.5-1.5h0m0 4.5h0m1-2.5h0m.5-2h0m2.5 3h0m.5-2.5h0m2-.5h0m.5 2h0m1-.5h0m1-1h0m2 .5h0m.5-1h0m4 2.5h0m1.5-1h0m2.5-.5h0m2-.5h0m1 1h0m1.5 0h0m0 1h0m2.5-2h0m0 3h0m.5-3h0m1.5 2h0m.5-1h0m1 1.5h0m1.5-1.5h0m.5 1.5h0m1-2h0m.5-1h0m.5 3.5h0m1.5 .5h0m0 1.5h0m.5-4h0m0 4h0m1-4h0m1.5 3.5h0m.5-3h0m.5 0h0m7 .5h0m1 3h0m.5-3h0m1-1.5h0m.5-.5h0m0 3.5h0m.5 1.5h0m.5-.5h0m1.5-4.5h0m0 2h0m.5 3h0m1.5-2h0m.5-2.5h0m0 4h0m1-3h0m1.5 2h0m1-1.5h0m.5 3h0m.5-5.5h0m0 2.5h0m.5-2.5h0m0 5h0m1-4h0m1.5 2h0m.5 2.5h0m.5-4.5h0m2 1h0m2-1h0m.5 1.5h0m0 1.5h0m1-3h0m0 2h0m0-2.5h0m0 .5h0m.5 3h0m.5 0h0m.5-3h0m0-1h0m.5 4h0m0 1.5h0m.5-2h0m.5-3.5h0m0 4h0m1-2.5h0m.5 4h0m.5-4h0m0 2.5h0m1-2h0m0 .5h0m.5 .5h0m.5 2h0m.5-3.5h0m0 1h0m0-1h0m1.5 2h0m0 1.5h0m.5-5h0m0 1.5h0m0 1.5h0m.5-1h0m0 3h0m.5 .5h0m.5-3.5h0m0 1h0m0-2.5h0m0 .5h0m0 3.5h0m2-.5h0m.5-2h0m0 2.5h0m.5-4.5h0m0 4h0m.5-2.5h0m1 1.5h0m1-1h0m0 2.5h0m1 .5h0m.5-1h0m1 1h0m.5-5h0m.5 3h0m.5-2h0m0 3.5h0m1.5-1h0m.5 2h0m1-5.5h0m0 3.5h0m1 2h0m.5-5h0m0 .5h0m1 4.5h0m.5-1.5h0m.5-4h0m.5 2h0m0 3h0m1-1h0m1 1h0m1.5-2h0m1-3h0m0 2h0m.5 3h0m1-3h0m0 2h0m1 1h0m.5-1.5h0m.5-2.5h0m1 1h0m0 2.5h0m.5-4.5h0m1 5.5h0m1-5.5h0m1 .5h0m0 3.5h0m.5 1.5h0m1.5-3.5h0m.5 1.5h0m1-3h0m0 4.5h0m.5-2.5h0m.5-1h0m.5-1.5h0m1 1.5h0m0 2.5h0m1-1h0m.5 2h0m.5-3h0m0 3h0m1.5-2h0m.5-3h0m.5 1h0m.5-1h0m1 3.5h0m.5-3.5h0m0 1.5h0m1 .5h0m0 1h0m1-3h0m0 5h0m.5-3.5h0m0 2.5h0m1 1h0m19.5-2.5h0m8.5 1.5h0m7.5-4h0m4.5 5.5h0m2-2.5h0m1 1.5h0m.5-.5h0m1-1.5h0m.5-1h0m1 3h0m.5 1h0m0-5.5h0m2.5 4.5h0m.5-4.5h0m3 2h0m1-1.5h0m0 2.5h0m0 1h0m1.5-3.5h0m.5 5h0m1-4h0m2 1.5h0m.5-1h0m.5-2h0m0 4h0m2 0h0m.5-3.5h0m.5 3h0m1-2.5h0m0 1.5h0m4.5-1h0m74.5 3.5h0m2.5 0h0m1-1h0m1.5 .5h0m2-1h0m0 1.5h0m2-2h0m1 2h0m2-5h0m0 5.5h0m1-2.5h0m0 1.5h0m.5-4.5h0m1.5 2h0m1-2h0m.5 3h0m1 2.5h0m.5-5h0m1.5 .5h0m.5 4.5h0m1-2.5h0m1 .5h0m0 1.5h0m1-5h0m0 4h0m1.5-1.5h0m1 1.5h0m1-3h0m0 1.5h0m.5 2.5h0m2-4h0m0 4.5h0m.5-2.5h0m1.5-1h0m0 3.5h0m1-5.5h0m0 4h0m.5-3h0m0 2h0m1.5-2.5h0m0 2h0m2-2h0m0 3.5h0m1 1h0m.5-3h0m1 .5h0m.5-2h0m0 4.5h0m2-2.5h0m0 1.5h0m2-1.5h0m.5-2.5h0m0 2h0m2 1h0m1-1.5h0m2-.5h0m3.5 4h0m.5-4.5h0m.5 2h0m2-2h0m.5 2.5h0m0 1h0m0 1h0m3-5h0m0 3h0m0 2.5h0m1-2h0m0 1h0m1-3h0m0 4h0m.5-3h0m1.5-2.5h0m0 5.5h0m.5-3h0m.5 3h0m1-4h0m.5-.5h0m0 2.5h0m1.5 2h0m.5-2.5h0m.5-1.5h0m2.5 0h0m0 4h0m1-3.5h0m.5-.5h0m1 4h0m1.5-5.5h0m1.5 .5h0m77 1h0m1 2h0m.5 1h0m10-4h0m1 0h0m.5 .5h0m2 .5h0m.5-.5h0m0 0h0m2.5 .5h0m0 0h0m1 .5h0m1 0h0m1 1h0m.5-.5h0m.5 0h0m1.5 1h0m.5 0h0m2 1.5h0m0 0h0m-482 2.5h0m0-.5h0m2 0h0m1 0h0m1 0h0m3.5-1h0m6.5 2.5h0m1 1h0m2.5-1.5h0m2 0h0m.5-1h0m.5 1h0m2-1h0m0 1.5h0m1.5-2h0m1 0h0m1 1.5h0m1-1.5h0m2 2.5h0m.5-2h0m0 3.5h0m1.5 1h0m.5-4h0m0 2h0m.5-3.5h0m0 2h0m1 2h0m1-3h0m0 1h0m1-1.5h0m0 3h0m0 2h0m2.5-5.5h0m.5 2h0m0 0h0m3-.5h0m2 .5h0m14 .5h0m17.5-.5h0m.5-1.5h0m.5 0h0m0 3.5h0m1.5-1h0m.5 2h0m1-.5h0m2.5-2h0m.5 2h0m.5-4.5h0m1 1h0m0 3.5h0m.5-1.5h0m2 1h0m.5-3h0m0 3.5h0m.5-2h0m.5-1h0m.5 .5h0m1-2h0m0 4h0m.5 1.5h0m.5-3.5h0m1-1.5h0m0 3.5h0m1.5-1h0m.5-2h0m1 2.5h0m0 0h0m0 2h0m1.5-5h0m0 4.5h0m1-3h0m.5-1.5h0m.5 4h0m.5-1.5h0m0 2.5h0m1.5-4h0m0 2.5h0m.5-1h0m5 2h0m1-2h0m.5 1.5h0m.5-4.5h0m0 0h0m0 1h0m.5 1.5h0m0 .5h0m.5 2h0m0 .5h0m0-1h0m1-4.5h0m0 2h0m0 3h0m0-4h0m1 2.5h0m.5-2.5h0m0 3.5h0m0 0h0m.5-2.5h0m0-.5h0m1-.5h0m.5 1h0m0 1.5h0m.5-3.5h0m.5 5.5h0m.5-4.5h0m0 1h0m0 3h0m0 .5h0m.5-2h0m.5 .5h0m1 .5h0m0-1.5h0m.5-2.5h0m0 2.5h0m0 2h0m0-5h0m0 2h0m.5 3.5h0m.5-2.5h0m.5 .5h0m.5-2.5h0m0 3h0m1-.5h0m1-2h0m0 3h0m1.5-3h0m.5 3.5h0m2-4.5h0m0 2.5h0m.5 2h0m.5-3.5h0m.5 2h0m.5 1h0m1-3.5h0m.5 3h0m0 1h0m1.5-4h0m.5 4h0m.5-2.5h0m.5-1.5h0m1.5 .5h0m0 3.5h0m1 .5h0m1-4h0m1.5 2h0m0 1h0m.5-1h0m.5-1.5h0m1 1h0m1-2.5h0m1.5 .5h0m.5 2h0m.5-2.5h0m1.5 1.5h0m0 1.5h0m.5 1.5h0m1.5-2.5h0m0 3h0m.5-3.5h0m1 1.5h0m.5-3.5h0m.5 4.5h0m1-4h0m0 3h0m1-2.5h0m0 2.5h0m0 1.5h0m.5-5h0m1 1h0m0 2.5h0m1.5 1h0m.5-1h0m.5-2h0m1-1h0m0 3.5h0m.5 0h0m1.5-4h0m1 4h0m.5-4h0m0 1h0m.5 4.5h0m.5-2h0m1-1.5h0m0 3h0m.5-1h0m2-3h0m0 2.5h0m1.5 0h0m0 2h0m1-3.5h0m0 2.5h0m1-1.5h0m1.5 1.5h0m.5-1.5h0m1 1.5h0m2.5 1h0m3-1h0m1.5-.5h0m1 1.5h0m2-.5h0m1 0h0m18-1.5h0m.5 1.5h0m3-2.5h0m.5 2h0m1-4.5h0m.5 3h0m0 2h0m1.5-2h0m.5-3h0m.5 5.5h0m.5-1.5h0m2-1h0m3.5-2.5h0m0 2.5h0m1.5 1.5h0m.5-4h0m2-.5h0m1.5 3.5h0m1-2.5h0m1-1h0m1.5 2h0m1-1h0m0 1h0m2.5-2h0m2 2.5h0m1 2h0m1.5-2h0m2 2h0m1-2h0m1 2h0m1-1.5h0m1 1.5h0m63.5 0h0m2-.5h0m2 0h0m.5 0h0m.5-3.5h0m1 0h0m.5 3h0m1-1.5h0m0 2h0m1 0h0m.5-3.5h0m1 0h0m.5 1.5h0m.5 .5h0m1-1.5h0m.5 3h0m1-.5h0m1 1.5h0m.5-4h0m.5-1h0m.5 4h0m1-2h0m1.5 2h0m.5 1.5h0m.5-5.5h0m.5 3.5h0m.5 1h0m1.5 .5h0m.5-5h0m0 2h0m1-1.5h0m.5 1.5h0m0 3h0m2-1.5h0m2.5-3.5h0m0 3h0m.5 2h0m.5-2h0m1 1.5h0m1-1.5h0m.5-1.5h0m0 3h0m2 0h0m.5-4h0m.5 1h0m.5-.5h0m.5 3h0m.5-.5h0m0 2h0m1-5h0m2.5 2.5h0m.5 .5h0m2-3.5h0m.5 4.5h0m.5-2h0m0 2.5h0m1.5-4h0m0 1h0m.5 2h0m2.5-4h0m0 2.5h0m1 0h0m.5 2h0m2.5-4.5h0m1 5.5h0m1-4h0m.5-1h0m.5 2.5h0m1 0h0m.5-2h0m1 4h0m1.5-5h0m0 2h0m1 3.5h0m1.5-4.5h0m0 4.5h0m1.5-5h0m0 3.5h0m1.5-3h0m0 2.5h0m1.5-1h0m2 .5h0m1-2.5h0m.5 4h0m1-4h0m0 3.5h0m.5-2h0m2 1h0m.5 0h0m0 1h0m1-4h0m1 5h0m1-3.5h0m0 3.5h0m.5-2.5h0m1 0h0m1-1.5h0m.5 2.5h0m.5-3.5h0m.5 3h0m1 .5h0m0 1h0m1-3.5h0m1 3h0m3 1h0m.5 0h0m72.5-4.5h0m0 0h0m1 .5h0m0-.5h0m.5 2.5h0m0 .5h0m.5 1.5h0m.5 0h0m0-2.5h0m.5 1h0m0 1h0m7.5 .5h0m0-.5h0m0 0h0m0 .5h0m-439.5 2h0m0 2h0m12.5-1h0m2 .5h0m.5-.5h0m1.5 .5h0m.5 1h0m4.5 0h0m2.5 1h0m3.5 1h0m3.5 0h0m2-1.5h0m2-.5h0m.5-2.5h0m0 1.5h0m.5-1h0m1 4h0m1-2h0m0 1.5h0m1.5-1.5h0m1.5 .5h0m3 0h0m0 1.5h0m1-3h0m1 1.5h0m1-2.5h0m.5-1h0m0 2.5h0m1 .5h0m.5-3h0m1 1h0m.5 3h0m.5-3.5h0m0 1h0m.5 2h0m.5 1.5h0m1.5-5h0m0 1h0m.5 3h0m.5-3.5h0m0 4h0m.5-2.5h0m0 2.5h0m.5-1h0m.5-4h0m1 1.5h0m1 3.5h0m1-5h0m9.5 .5h0m0 2h0m0 3h0m2-2.5h0m1-2.5h0m0 2h0m0 1h0m1.5-2.5h0m0 2h0m0 1h0m1 .5h0m1-2.5h0m.5-1.5h0m0 4h0m0 .5h0m.5-4h0m.5 1h0m0 3.5h0m.5-5h0m.5 5h0m.5-1.5h0m0-3.5h0m1 2.5h0m.5-.5h0m.5 1.5h0m.5-2h0m0 2.5h0m.5-4h0m0 4h0m.5-4h0m.5 0h0m0 4h0m0-2h0m.5-1h0m.5 2.5h0m0-2.5h0m0 1.5h0m0 1h0m.5 1.5h0m1-2.5h0m.5 1.5h0m.5-4h0m0 1.5h0m0 3h0m.5 .5h0m0-2h0m.5-1h0m.5 2.5h0m.5-3.5h0m1 .5h0m0 3h0m.5-4.5h0m1 2.5h0m.5 1.5h0m1.5-1.5h0m0 1.5h0m1.5-4.5h0m0 2.5h0m1.5 1.5h0m.5-2.5h0m0 3.5h0m.5-2h0m1-1.5h0m1 1h0m0 2h0m2 0h0m1-4h0m1 .5h0m0 4h0m1.5-4.5h0m0 2h0m0 2.5h0m0 .5h0m1.5-2.5h0m1-2.5h0m1 4h0m.5-2.5h0m1 3h0m9.5-5h0m1.5 1h0m.5 1h0m1 0h0m.5-1.5h0m.5 .5h0m0 3.5h0m1.5-2.5h0m1.5 2h0m.5-4h0m0 2.5h0m0 2h0m.5-3h0m1.5 .5h0m.5-1h0m.5 4h0m.5-2h0m0 1h0m1.5-3.5h0m1 1h0m.5 .5h0m1.5-1h0m1 1h0m1.5-1h0m.5 2h0m1.5 1h0m.5-2.5h0m.5 1h0m.5-2.5h0m1.5 4.5h0m.5-3h0m0 1h0m0 3h0m1-4h0m.5 2.5h0m1-1.5h0m.5-2.5h0m.5 3.5h0m.5-.5h0m.5 1.5h0m.5-4.5h0m2 4.5h0m1-2.5h0m1.5-1h0m.5 3h0m.5-.5h0m.5-2.5h0m1.5 3.5h0m.5-4h0m3 2h0m.5 2h0m1.5-1.5h0m0 1h0m1.5 1.5h0m1-1h0m.5 1h0m7-5.5h0m2 1h0m0 1h0m.5 0h0m3 .5h0m1-2.5h0m1 1.5h0m6-1.5h0m98.5 1.5h0m.5-1h0m1 .5h0m0 3.5h0m.5 0h0m1-3h0m1 1.5h0m1.5-.5h0m0 2h0m.5-4h0m1 3h0m2.5-3h0m0 4.5h0m1-3.5h0m.5-1h0m.5 4.5h0m1.5-.5h0m.5-4.5h0m.5 5h0m1-5h0m1 2.5h0m1-2h0m1.5 1h0m.5 .5h0m3-1.5h0m.5 1h0m1 2.5h0m.5-1h0m.5 2.5h0m2-1.5h0m1-3.5h0m0 3h0m0 2h0m.5-3.5h0m2 1h0m0 2h0m2.5-.5h0m1-4.5h0m0 2h0m0 3h0m2-4h0m0 .5h0m.5 3h0m.5-3.5h0m.5 1.5h0m.5 1.5h0m2-2h0m.5-1.5h0m.5 3.5h0m.5-2.5h0m0 2.5h0m3-.5h0m1.5-2.5h0m.5 4h0m.5-4.5h0m0 2.5h0m.5 .5h0m1.5-3.5h0m0 2h0m2 1h0m.5-2.5h0m.5 5h0m1-3h0m.5-1.5h0m.5-1h0m.5 4h0m.5 1.5h0m.5-4h0m1 2h0m1-2.5h0m.5 1h0m1 3h0m0 0h0m.5-2.5h0m2-2.5h0m0 5h0m0 .5h0m.5-3.5h0m.5 .5h0m1.5-1h0m1.5-.5h0m0 3.5h0m1.5-4h0m0 3.5h0m.5-2h0m.5 0h0m1.5 2h0m.5-3.5h0m.5 2h0m1.5 1.5h0m.5-2.5h0m.5-1.5h0m8.5 0h0m1 0h0m.5 0h0m67.5 2h0m.5-.5h0m.5-.5h0m.5 0h0m9 .5h0m0-1.5h0m.5 1h0m0 .5h0m0-1h0m1.5 2h0m0-1.5h0m1 .5h0m-603 6h0m118.5 2h0m.5-1.5h0m.5 2h0m0-1h0m.5 1.5h0m1-1.5h0m0-1h0m0 2h0m.5 0h0m0 .5h0m.5-4h0m0 1h0m0 2.5h0m.5-2h0m0 3.5h0m.5-2h0m.5 0h0m56-1.5h0m0 .5h0m1 1h0m1.5 0h0m1 .5h0m1 1h0m1 0h0m3-4h0m1.5 1h0m.5 2h0m1-3.5h0m1 .5h0m1 4.5h0m.5-3.5h0m.5-2h0m.5 4h0m.5 1.5h0m.5-4h0m0 2h0m0 2h0m0-.5h0m2-2h0m.5-1.5h0m.5 3.5h0m.5-4.5h0m0 1.5h0m0 2h0m1.5-3.5h0m0 2h0m2 .5h0m.5-.5h0m.5 2.5h0m1.5-2.5h0m.5-1h0m.5 .5h0m.5-2h0m.5 3h0m1-2.5h0m0 1.5h0m.5 1.5h0m1.5-1h0m1 0h0m1-.5h0m.5 1h0m1.5-1.5h0m.5-1h0m2 1h0m.5 0h0m6.5 2.5h0m1 1.5h0m1-2.5h0m.5-2h0m0 4h0m1.5-2h0m.5-3h0m0 5h0m.5-2h0m0 2.5h0m.5-3h0m.5-2.5h0m.5 1.5h0m1.5 3h0m.5-4.5h0m.5 1.5h0m1 1.5h0m0 2.5h0m.5-2.5h0m.5-1h0m0 3.5h0m0-3.5h0m1 0h0m1 1.5h0m0-2.5h0m.5 3.5h0m.5 1h0m0-5h0m0 1.5h0m.5 1h0m.5-1h0m.5-1.5h0m0 2h0m0 1h0m0 2h0m.5-4.5h0m0 2.5h0m1-1.5h0m.5 1h0m0 2.5h0m.5-3h0m.5 2.5h0m0 .5h0m.5-1.5h0m0-4h0m0 1.5h0m0 2h0m0 2h0m.5-4h0m1.5-1.5h0m0 2.5h0m0 1.5h0m.5 1h0m0-2.5h0m0 2.5h0m.5-1.5h0m.5-3.5h0m0 5h0m.5-2.5h0m1.5-1.5h0m0 1.5h0m1 1h0m1-2h0m1-1.5h0m0 5.5h0m.5-5.5h0m.5 0h0m.5 4.5h0m0-2.5h0m.5 .5h0m1 1h0m0 2h0m.5-5.5h0m1 1.5h0m0 2.5h0m.5-2.5h0m.5-1h0m.5 4h0m1-3h0m0 3h0m.5 1h0m.5-5h0m1 2h0m0 2h0m.5-4.5h0m2.5 2.5h0m0 1.5h0m.5-3.5h0m.5 1h0m.5 2.5h0m1.5-4h0m0 5.5h0m1-2h0m1.5-1.5h0m0 2h0m0 1h0m1-4h0m0 3h0m.5 1h0m.5-3h0m2 1.5h0m1 0h0m2 1.5h0m.5-1h0m3 .5h0m1-4.5h0m1.5 4h0m.5-2.5h0m0 1.5h0m.5-2.5h0m1.5 5h0m1.5-4.5h0m0 1h0m19.5-1h0m0 .5h0m.5-1h0m1 2.5h0m1.5-2h0m0 1h0m.5 2h0m2-4h0m0 1.5h0m0 2h0m1-3h0m.5 1.5h0m1 2h0m1-2h0m0 3.5h0m.5-5.5h0m.5 3.5h0m1-3h0m0 3h0m.5-2.5h0m0 4.5h0m.5-2.5h0m1-1h0m.5 2h0m.5 1h0m.5-2.5h0m.5 2h0m1.5-.5h0m2-3.5h0m0 3h0m.5-1h0m.5 0h0m1 2h0m1.5 1h0m34-3.5h0m1.5-.5h0m0 1.5h0m2.5 1h0m.5-.5h0m1.5 2h0m70-1.5h0m1.5-1.5h0m1.5 2h0m.5-3.5h0m1-1h0m3.5 .5h0m0 1h0m1.5 0h0m1.5-.5h0m2-.5h0m1 1.5h0m1 1.5h0m1-1.5h0m.5 2h0m2-.5h0m1-.5h0m2 2h0m2.5 .5h0m.5-.5h0m.5-1h0m1.5-2h0m.5 3.5h0m1-5h0m0 1h0m.5 2.5h0m0 1.5h0m.5-2.5h0m0 2h0m2.5-3h0m.5 2h0m1-4h0m1 2h0m.5-1h0m0 3h0m.5-1.5h0m1 2h0m1-3.5h0m.5 3h0m0 1.5h0m2-1.5h0m3-4h0m.5 0h0m1.5 5.5h0m.5-2.5h0m.5 1.5h0m1 .5h0m.5-2.5h0m1.5-2h0m0 2.5h0m0 2h0m1.5-5h0m1 4.5h0m1-4.5h0m1.5 3h0m.5 .5h0m1.5-2h0m0 3.5h0m1-1.5h0m1-1.5h0m1 2h0m.5-4h0m.5 2.5h0m1.5-.5h0m0 2.5h0m1-4.5h0m2 1.5h0m1-1h0m2 .5h0m1.5 1.5h0m1-1.5h0m2-.5h0m-389 10.5h0m.5-4.5h0m0 5h0m0-5h0m0 0h0m.5 1.5h0m0 2h0m0-1h0m.5-1.5h0m.5-1.5h0m0 .5h0m.5 3.5h0m1-2.5h0m0-1h0m.5-.5h0m.5 .5h0m62.5-.5h0m0 0h0m2.5 .5h0m.5 0h0m1.5 0h0m0 .5h0m0 0h0m.5-.5h0m1.5 0h0m30 2h0m.5 0h0m1-1.5h0m.5 2.5h0m.5-.5h0m.5-1.5h0m1 3h0m0 0h0m0-.5h0m.5-2.5h0m0 3.5h0m1-1h0m2-2.5h0m0 1.5h0m.5 .5h0m0 1.5h0m1-5h0m0 1h0m1 2.5h0m0 1.5h0m.5-2h0m1-1.5h0m0 .5h0m.5-1.5h0m0 3h0m.5-1.5h0m0 1h0m0 2.5h0m0-3.5h0m1-1.5h0m.5 0h0m.5 5h0m.5 0h0m.5-5h0m0 1h0m.5 1h0m0 1.5h0m1-2.5h0m.5 3h0m.5-1h0m.5-2.5h0m0 4.5h0m.5-3.5h0m.5 3h0m.5-2.5h0m.5-1.5h0m0 2h0m0 2h0m.5 .5h0m0-4h0m.5 2.5h0m.5-3.5h0m0 5h0m.5-4.5h0m0 1h0m1 3.5h0m.5-4h0m1-1h0m.5 1h0m1 3h0m1 1h0m1-1.5h0m.5-4h0m.5 5h0m.5-3h0m.5 1h0m.5-1h0m0 3h0m1.5-2h0m.5 2h0m.5-4.5h0m.5 1h0m1 .5h0m.5 2h0m.5-3.5h0m.5 1.5h0m.5 2h0m.5-3.5h0m2 1.5h0m0 1h0m1-.5h0m.5-2h0m2.5 0h0m.5 .5h0m2 0h0m0 2h0m1 0h0m1 2h0m1-3h0m.5 1.5h0m1-1.5h0m0 1.5h0m0 1.5h0m.5-4.5h0m1.5 1h0m2.5 4h0m.5-2.5h0m.5-2h0m.5-1h0m1 1.5h0m0 2h0m1-3h0m0 3.5h0m1.5-3h0m0 2h0m0 1.5h0m.5 1h0m1.5-5h0m0 2h0m.5-1.5h0m.5 2h0m26-2h0m1.5 3.5h0m.5-3h0m.5-1h0m1 3h0m0 1.5h0m.5-3h0m1.5 2h0m0 .5h0m1-1.5h0m.5-2h0m1 3h0m1-1.5h0m.5-2.5h0m.5 2.5h0m.5-2.5h0m0 5.5h0m.5-4.5h0m.5-1h0m1 1.5h0m0 2h0m1 .5h0m1.5-2.5h0m4.5 1h0m1.5 .5h0m1.5 1h0m1 0h0m8 1h0m2 0h0m2 0h0m21-5h0m.5 1h0m0 0h0m1.5 0h0m0 2h0m2.5-.5h0m62.5 0h0m.5-2.5h0m19.5 0h0m2 4.5h0m.5-4.5h0m.5 .5h0m.5 1.5h0m.5 2h0m1.5 1h0m0 0h0m1-2h0m1 1.5h0m2 .5h0m1.5 .5h0m.5-1.5h0m.5-3.5h0m.5 1.5h0m0 1.5h0m.5-3h0m0 5h0m2.5-1.5h0m.5-3.5h0m0 4.5h0m1-.5h0m1-4.5h0m0 1.5h0m1 2h0m1-2.5h0m.5 3h0m.5-1h0m.5-2h0m1.5 2h0m.5 1.5h0m.5-4h0m1.5 4.5h0m0 .5h0m.5-3h0m.5 2h0m.5-3.5h0m1.5 1.5h0m.5-2.5h0m0 2.5h0m4-2.5h0m6.5 .5h0m.5 3h0m1 .5h0m17.5 1.5h0m2.5-.5h0m1.5 0h0m.5 .5h0m0-4.5h0m2 3.5h0m0-.5h0m.5 1h0m1-1h0m.5-.5h0m0 .5h0m1.5 .5h0m.5-1h0m0 .5h0m.5-1h0m1.5-.5h0m0-.5h0m0 3h0m0 0h0m.5-3.5h0m0 0h0m0 3h0m2-3h0m0 2h0m.5-1.5h0m.5 0h0m1.5-.5h0m0 .5h0m-475 8h0m1-2.5h0m0 3h0m2 1h0m.5-2.5h0m2 2.5h0m1-3h0m1 3h0m2-.5h0m1 .5h0m44-2h0m1.5 .5h0m1.5 1h0m1 .5h0m0-1.5h0m.5 0h0m0-.5h0m1 2h0m75.5-3.5h0m1 2h0m1-.5h0m.5 1.5h0m1 .5h0m.5-3.5h0m0 2.5h0m.5-1.5h0m.5 2h0m.5-3h0m.5 3h0m0-2h0m1 1.5h0m.5-1.5h0m.5 2h0m.5-2h0m1 1.5h0m0 0h0m.5-1h0m.5 2h0m.5-.5h0m.5 0h0m.5-3.5h0m0 1.5h0m.5 2h0m1-3h0m.5 3h0m.5 .5h0m1-1.5h0m1 1.5h0m4-1.5h0m2 1h0m1.5-.5h0m.5-1.5h0m1 1h0m.5 1h0m.5-1.5h0m0 .5h0m1.5 0h0m0 1h0m.5-2h0m.5 1.5h0m2 0h0m1 .5h0m.5-.5h0m1 0h0m4-4h0m0-.5h0m2 .5h0m.5 1h0m2-1.5h0m1 1.5h0m1-1.5h0m2 0h0m5 1h0m1-.5h0m1 1h0m2.5-1h0m1 1.5h0m1-2h0m1.5 1h0m1.5 .5h0m1.5 0h0m21.5-1.5h0m0 .5h0m.5 1h0m.5 2h0m1.5-2.5h0m0 3h0m.5-.5h0m1-1.5h0m1 1h0m0 1.5h0m1-3h0m0 3h0m.5-2h0m1-1.5h0m1 4.5h0m.5-3h0m.5 1.5h0m1-2h0m.5-2h0m.5 2.5h0m0 2.5h0m.5-3.5h0m1 2.5h0m.5-1.5h0m.5 0h0m2 3h0m13.5 0h0m11-3h0m1.5-1h0m0 2.5h0m1-2.5h0m.5-1.5h0m1 3h0m.5 0h0m1-3h0m0 .5h0m14.5 2h0m0-.5h0m1 0h0m.5 2h0m1-2.5h0m.5 4h0m0-2.5h0m.5-1h0m.5-1h0m.5 1.5h0m0 1h0m0 1.5h0m.5-5h0m.5 1h0m.5 1.5h0m.5-.5h0m0 3.5h0m.5-.5h0m0-5h0m.5 2h0m1.5 1.5h0m0 1.5h0m0-3.5h0m.5-1.5h0m0 4.5h0m.5-2.5h0m1-1.5h0m0 .5h0m.5 2h0m.5-.5h0m0 2h0m.5-2.5h0m.5 3.5h0m0-.5h0m.5-1h0m.5-4h0m1 1h0m32.5 3.5h0m1.5 1h0m.5-2.5h0m2 1h0m2.5 0h0m1.5 .5h0m4.5 1h0m53.5-.5h0m0 0h0m1 0h0m2-5h0m5.5 0h0m1 .5h0m1.5 2h0m0 2h0m1.5-.5h0m.5-3h0m0 .5h0m1 0h0m0 4h0m1-4.5h0m0 2h0m1-1.5h0m2.5 .5h0m1-.5h0m3 0h0m.5 2.5h0m.5-3h0m.5 1h0m2-1h0m21 .5h0m17 2.5h0m.5-3.5h0m2.5 2.5h0m7-3h0m1.5 1h0m2 1h0m2 1h0m-468.5 8.5h0m1 0h0m1-5.5h0m0 2h0m.5 2.5h0m.5-4h0m0 2h0m1.5-1h0m0 4h0m1-2.5h0m1.5 1.5h0m.5-2h0m2 0h0m0 3h0m1-1h0m1.5-2.5h0m.5 0h0m.5 2h0m2.5-1.5h0m2 .5h0m34.5-2h0m1.5-1h0m.5 2h0m2-1.5h0m0 0h0m0 2h0m1-2.5h0m.5 1.5h0m0 .5h0m0-.5h0m76-1h0m1.5 0h0m.5 0h0m2 0h0m1.5-.5h0m1 1h0m.5-.5h0m2.5 .5h0m.5 0h0m2-.5h0m1 0h0m9 1h0m.5-1h0m1 .5h0m1 0h0m.5 1.5h0m.5 0h0m1-2.5h0m.5 1h0m.5 2h0m0 0h0m.5 0h0m0-2h0m1 1h0m1-1.5h0m1-.5h0m0 3h0m.5-.5h0m.5 1h0m.5-2.5h0m0-.5h0m19 5h0m1 0h0m.5 0h0m0-.5h0m0-.5h0m1.5-.5h0m0-1h0m0 0h0m1.5 0h0m0-2h0m31.5 0h0m0 1h0m1-2h0m1.5 .5h0m0 3.5h0m1-2h0m.5 2h0m1.5-2.5h0m0 1.5h0m1-.5h0m0 2h0m0 1h0m.5-4.5h0m2.5 2h0m0 1h0m.5-2h0m0 3h0m1-5h0m1.5 1h0m0 2h0m.5 1h0m0 1.5h0m.5-4h0m.5 1h0m0 3h0m1-2h0m1-1h0m0 2h0m2 0h0m.5-1.5h0m1 1h0m1-2h0m.5 1.5h0m1-2.5h0m0 4.5h0m1-3h0m0 1.5h0m1-2.5h0m1 .5h0m0 2.5h0m2 1h0m1-.5h0m31.5-5h0m1.5 .5h0m2 0h0m0-.5h0m35 2.5h0m0-1.5h0m1 1h0m0 2.5h0m.5-4h0m1-.5h0m.5 4h0m1-1h0m0 2h0m1-4.5h0m0 4h0m2-1.5h0m.5-2.5h0m.5 4.5h0m1-3.5h0m0 0h0m1 3h0m1.5-3.5h0m1 2h0m.5-2h0m1 3h0m1-3.5h0m0 1h0m1-.5h0m.5 1.5h0m1.5-.5h0m2 0h0m57 3.5h0m1.5 0h0m.5 0h0m2-1h0m0-1h0m.5 0h0m0 .5h0m1-3.5h0m1 2h0m1.5 0h0m.5-1h0m.5-1h0m1 .5h0m.5 .5h0m-482 4.5h0m2.5 4.5h0m63.5-.5h0m1 .5h0m2-1h0m0 .5h0m2.5-3h0m0 1.5h0m.5 2h0m.5-4h0m.5 2.5h0m2.5-1h0m.5-1.5h0m1.5 3.5h0m2-4h0m1 2.5h0m.5-2.5h0m1 5h0m.5-4.5h0m.5 2.5h0m2-1.5h0m0 2.5h0m106 1h0m2.5-.5h0m8.5 .5h0m53 .5h0m.5 0h0m1-.5h0m.5-.5h0m.5-.5h0m0 0h0m.5-.5h0m0-1h0m.5 0h0m.5 0h0m0-.5h0m.5-1h0m.5 .5h0m0-.5h0m0-1h0m.5 .5h0m0-.5h0m.5 .5h0m17 5h0m1.5-1.5h0m.5 1h0m1-2.5h0m0 1.5h0m0 1.5h0m0-2h0m0 0h0m.5 2h0m.5 0h0m.5-3h0m0 2.5h0m0 .5h0m0-3h0m0 2.5h0m1-1h0m.5-2h0m0 2h0m.5-2h0m0 1.5h0m.5-.5h0m0 2h0m.5-2h0m.5-1h0m0 3h0m.5 .5h0m.5-2.5h0m.5 .5h0m14-3h0m13.5 0h0m4.5-.5h0m.5 0h0m2 1h0m33.5 4h0m.5-.5h0m.5-4.5h0m.5 4h0m0 0h0m.5 .5h0m0-.5h0m1-4h0m0 2h0m0 1h0m.5 .5h0m0 0h0m0-.5h0m.5-2h0m1.5-.5h0m0 2h0m0-2.5h0m0 0h0m0 0h0m.5 3h0m0-2.5h0m1.5 2h0m.5-2h0m0 1h0m0 .5h0m0-1.5h0m0-.5h0m.5 2h0m.5-1h0m.5 .5h0m.5 1h0m0-1.5h0m0-.5h0m2 .5h0m0 1h0m0 0h0m0-1h0m0 .5h0m1.5 .5h0m.5 0h0m.5-.5h0m0 1h0m0-.5h0m0 0h0m1.5-.5h0m0 1.5h0m0 0h0m.5 .5h0m2 .5h0m.5-.5h0m.5 1.5h0m21-3.5h0m1-.5h0m1.5 .5h0m.5 .5h0m.5-2h0m1.5 2.5h0m.5-1.5h0m68 1.5h0m.5-.5h0m1.5-1.5h0m.5 0h0m.5 1.5h0m6.5 2h0m.5 0h0m.5 1.5h0m.5 0h0m33-4.5h0m.5 .5h0m1.5 1.5h0m.5 0h0m2.5 1.5h0m0-.5h0m.5 .5h0m1 .5h0m1-.5h0m1.5 .5h0m0 .5h0m1.5 0h0m1 0h0m2 0h0m2-1h0m1 0h0m.5 0h0m-533.5 6h0m86.5-4h0m1.5 0h0m96 4.5h0m.5 0h0m3 .5h0m2.5 0h0m3.5-2.5h0m0 2h0m1-4h0m1-.5h0m.5 2h0m1.5-1h0m0 3.5h0m.5-4.5h0m.5 4h0m1.5-2.5h0m1 1h0m2 2h0m1-2h0m1 1.5h0m2.5-.5h0m0 1.5h0m3.5 0h0m12.5 0h0m35-5.5h0m21 1h0m0-.5h0m.5 1h0m1-1.5h0m0 1h0m0 1h0m.5 3h0m0-3h0m.5-1.5h0m1 .5h0m0-.5h0m0 2.5h0m.5-3h0m0 4.5h0m.5-2.5h0m0 3h0m.5-2.5h0m1.5 .5h0m0-2h0m.5-.5h0m.5 .5h0m0 1.5h0m0-1.5h0m1 .5h0m.5 .5h0m.5-2h0m0 .5h0m47.5 4h0m0 0h0m59-1.5h0m.5 0h0m1.5 0h0m.5 .5h0m1.5 0h0m.5-.5h0m2 1h0m1 .5h0m81.5-3h0m0 0h0m0 1h0m0-.5h0m.5 2.5h0m.5-1h0m37-.5h0m4.5-2.5h0m.5-.5h0m43 5h0m-576 4.5h0m1-1h0m1.5-1.5h0m1.5-1h0m40 4.5h0m139.5-3.5h0m2.5-.5h0m1-.5h0m1 1h0m1 2h0m1-1.5h0m2 2.5h0m0 1.5h0m1-3.5h0m2 3.5h0m1.5-1h0m1 0h0m0 1h0m1-5h0m0 4.5h0m.5-2.5h0m.5-2.5h0m0 4.5h0m2-4h0m0 2h0m0 1.5h0m1.5-4h0m0 1h0m1 2.5h0m1-2h0m.5 3.5h0m1-5h0m0 2h0m1.5 1.5h0m.5-3.5h0m1 0h0m0 1.5h0m1.5 1.5h0m.5-2.5h0m2 2h0m0 1.5h0m0 1.5h0m.5 0h0m1-1h0m.5-4.5h0m1.5 2h0m1 3.5h0m1-3h0m.5 2.5h0m.5-4.5h0m.5 5h0m.5-4h0m0 2.5h0m.5-4h0m1 2h0m.5 3h0m2-5h0m0 2.5h0m0 3h0m1-1.5h0m1-4h0m.5 4.5h0m.5-2h0m.5-2.5h0m0 5h0m1.5-1h0m.5-4h0m1.5 .5h0m0 3.5h0m.5 0h0m.5-2.5h0m0 4h0m2-2h0m.5 0h0m108-3.5h0m0 .5h0m.5 2.5h0m0-2.5h0m1 .5h0m1.5 1.5h0m0 1h0m0-.5h0m48.5 1h0m13-3h0m1.5 .5h0m2.5 0h0m.5 1h0m1.5-.5h0m2 1h0m1.5 .5h0m2 .5h0m.5 0h0m1.5 0h0m2.5 0h0m8.5 1h0m2.5 0h0m1.5 .5h0m55-5.5h0m1 .5h0m34.5-.5h0m52 0h0m34.5 2h0m-566 9h0m145.5-5h0m4.5 2.5h0m2 1h0m.5-1.5h0m.5 1.5h0m1.5-3h0m.5-.5h0m.5 4.5h0m.5-3.5h0m1-1h0m.5 1.5h0m0 3h0m1 1h0m.5-5h0m.5 3h0m.5-1.5h0m1.5 1.5h0m.5-3h0m.5 3h0m1-2.5h0m.5 0h0m.5 2.5h0m1-2h0m3.5-1.5h0m2 1.5h0m2 1h0m.5 3h0m1-5h0m0 4h0m.5-2.5h0m0 3.5h0m1.5-2h0m1.5-3.5h0m1 2h0m.5 2h0m.5 .5h0m1-2.5h0m1.5-.5h0m.5 2h0m.5-3.5h0m1.5 3.5h0m1 .5h0m1-3.5h0m80.5 4.5h0m0-.5h0m79 0h0m32-.5h0m.5 1h0m1.5 0h0m.5-2h0m1 0h0m1.5 2.5h0m.5-4.5h0m1 1.5h0m.5-.5h0m1 .5h0m1 2h0m.5-3h0m0 2.5h0m1-2h0m1.5-1.5h0m0 3h0m.5 1h0m1.5-1h0m0 2h0m.5-4h0m1 1.5h0m0 2h0m1.5-1.5h0m1.5 1h0m1.5-1h0m0 .5h0m-246.5 3h0m.5 3.5h0m1.5-4h0m0 2h0m.5 0h0m.5 .5h0m.5 2h0m.5-5h0m.5 5h0m1-1h0m.5 0h0m1.5-4h0m.5 2h0m.5-.5h0m0 2h0m.5 2h0m1.5-2.5h0m.5-1.5h0m.5-1h0m1 1.5h0m.5 1.5h0m.5 2h0m.5-5.5h0m0 4h0m.5 1.5h0m6.5-1h0m1-3.5h0m.5 3.5h0m.5 1h0m.5-2h0m1 2h0m.5-4h0m.5-1h0m1 2.5h0m0 2h0m1-3h0m.5-2h0m.5 2h0m.5 1.5h0m.5 .5h0m.5 1.5h0m80.5-2.5h0m0 0h0m.5 0h0m0 2.5h0m.5-3h0m.5-.5h0m0 0h0m2 3.5h0m.5-4.5h0m0 3.5h0m0-4h0m0 0h0m.5 0h0m0 5h0m.5-3.5h0m1 3h0m120-5h0m40.5 3h0m-285 7.5h0m2.5-.5h0m.5 1.5h0m1.5-.5h0m.5-.5h0m.5 0h0m1 0h0m.5-4.5h0m0 2h0m2-2h0m0 5.5h0m.5-4h0m0 1.5h0m.5 .5h0m.5 2h0m1-4h0m1 2h0m.5 1h0m1-2h0m.5-1h0m0 1.5h0m0 2.5h0m1-5h0m1 2h0m0 2.5h0m1-3h0m0 2h0m.5 1h0m1-5h0m.5 1h0m.5 2.5h0m1.5-2h0m1 0h0m0 1h0m1 1.5h0m1 1.5h0m.5-3h0m.5 2.5h0m1-1.5h0m3.5-3.5h0m2 2h0m3 0h0m.5 1h0m1 2h0m.5-5h0m.5 5.5h0m.5-2h0m.5-1h0m1 1h0m1.5 1.5h0m77-1h0m0 0h0m.5-4h0m0 2h0m0 2.5h0m.5-3h0m0 2.5h0m0 1.5h0m2.5-3.5h0m.5 2h0m1 0h0m2-2h0m28 3.5h0m54.5-1.5h0m1-1h0m1-1.5h0m133.5 2.5h0m0 0h0m1.5-2h0m0 1h0m1.5-1h0m0-.5h0m1-1h0m.5-.5h0m0 0h0m.5 .5h0m1 .5h0m.5 0h0m1.5 1h0m.5 0h0m1 1h0m0-.5h0m2 1.5h0m.5 0h0m62.5 1.5h0m2-1.5h0m2-1.5h0m1.5-1.5h0m-463 7.5h0m4-2.5h0m35 1.5h0m2 1h0m1-.5h0m.5 1h0m.5-1h0m0 1.5h0m2-1.5h0m0 2.5h0m1.5-1.5h0m1 2h0m.5-1h0m.5-2h0m.5 2h0m.5 1h0m1.5 .5h0m.5-4.5h0m.5 4.5h0m1-2.5h0m.5-2.5h0m.5 1h0m0 3.5h0m1-1.5h0m1.5-3h0m.5 5h0m1.5-5h0m0 3.5h0m1 0h0m0 1h0m1-3.5h0m0 3.5h0m1.5-5h0m0 4h0m1 .5h0m.5-4h0m0 2h0m.5-1h0m.5 4h0m.5-3h0m1.5-.5h0m1-2h0m5 2.5h0m0 2h0m1-2.5h0m1.5 0h0m.5 2h0m0 1h0m1-3h0m1.5 2h0m.5-3h0m0 4.5h0m.5-2h0m1-3h0m1 .5h0m.5 4h0m.5-1h0m0-.5h0m2 1.5h0m75-5h0m.5 1.5h0m.5 2.5h0m0-.5h0m.5 1h0m.5-.5h0m1.5 1.5h0m32-4.5h0m1 1h0m3 3.5h0m29.5-1.5h0m.5 1h0m1-1h0m1-1h0m0 2.5h0m2.5-1h0m0 1h0m3-1.5h0m0 1.5h0m2.5-.5h0m2.5-.5h0m2.5 1h0m1.5-2.5h0m.5 2h0m1-1h0m0-4h0m19 5.5h0m7.5 0h0m1.5 0h0m0 0h0m0-1h0m2-1h0m.5 1.5h0m1-1h0m.5-.5h0m1.5 0h0m.5-.5h0m.5-.5h0m1.5 .5h0m.5 1h0m2-1h0m1.5 .5h0m1.5 1h0m1-1h0m94.5 1.5h0m0 0h0m0 .5h0m0-3h0m.5 .5h0m0-2h0m19 3.5h0m-489 7h0m2-.5h0m2-2h0m.5 1.5h0m1.5 .5h0m1.5-2h0m1 0h0m0 2h0m2-.5h0m2 1h0m19.5 0h0m2-1h0m2.5-1h0m4 0h0m91.5-2.5h0m3 .5h0m1.5 0h0m0 2.5h0m1-2h0m.5 .5h0m1.5 2h0m.5-1h0m.5-3h0m.5 3h0m.5-2h0m19 .5h0m0 3.5h0m1-1h0m1-3h0m1 .5h0m0 3.5h0m.5-2.5h0m.5 1.5h0m0 1h0m1-4.5h0m1.5 1.5h0m.5 2.5h0m.5 .5h0m.5-3.5h0m.5 1h0m1-1.5h0m0-1h0m1 1h0m0 1h0m.5-2.5h0m0 5h0m2.5-1.5h0m2.5-1h0m2 0h0m70-2.5h0m1 1h0m1.5 2h0m.5 0h0m0 .5h0m.5 0h0m1.5 1.5h0m32.5-3.5h0m1.5 2.5h0m29.5-2h0m1 1.5h0m1-2h0m0 3.5h0m.5-5h0m1 4h0m.5-1.5h0m1 2h0m1-2.5h0m1.5 .5h0m0 1h0m1-2.5h0m2.5-1h0m.5 2h0m1-.5h0m6.5-1h0m3 1h0m0 .5h0m1 .5h0m.5 0h0m1.5 0h0m0-1h0m0 .5h0m.5-.5h0m2 0h0m1.5 0h0m.5-.5h0m2 0h0m.5-.5h0m1.5 .5h0m0-.5h0m.5 .5h0m0 0h0m1.5 .5h0m0 0h0m1.5 .5h0m0 0h0m.5 .5h0m.5-1h0m1.5-1h0m.5 .5h0m119 4.5h0m13.5-5.5h0m3.5 3.5h0m3.5 1.5h0m0 .5h0m-505.5 6h0m5-2h0m0 .5h0m2-1h0m0 1.5h0m1.5-4.5h0m1 2.5h0m.5-1.5h0m.5 3.5h0m1-2.5h0m1-1.5h0m0 3h0m.5-2.5h0m2 4.5h0m.5-3h0m.5-2h0m0 3.5h0m.5-1.5h0m.5-1.5h0m2 2.5h0m0 2h0m1-4.5h0m0 3h0m.5-3h0m0 1h0m1 2h0m141.5-3h0m11.5-.5h0m.5 3.5h0m.5-1h0m1.5-1.5h0m0 4h0m2-5h0m80 2h0m3 3h0m.5-5.5h0m0 3.5h0m.5-2.5h0m0 4h0m1-4.5h0m.5 0h0m0 1h0m0 2h0m.5-1h0m.5-1h0m0 3h0m.5-2h0m0-1h0m0-.5h0m1 4h0m.5-1.5h0m0-3h0m.5 3h0m.5-.5h0m.5 1.5h0m.5 1h0m.5-3.5h0m0 1h0m1 0h0m0 2.5h0m2-1h0m6.5-2h0m44.5 .5h0m1-.5h0m1.5-2h0m.5 1.5h0m1.5-2h0m1 1.5h0m1.5-.5h0m87.5 0h0m4.5 2h0m63-2.5h0m.5 .5h0m1.5 1h0m.5-1h0m1.5 2h0m0 .5h0m.5-.5h0m0 0h0m2 0h0m.5 .5h0m2 0h0m1-.5h0m0 .5h0m0 0h0m2.5-1.5h0m0 0h0m1.5-.5h0m1-1h0m6-.5h0m.5 .5h0m.5 0h0m1 1h0m0 1h0m1 .5h0m0 .5h0m1.5 1.5h0m-533 3.5h0m.5 2.5h0m1-2h0m1.5 .5h0m1.5 .5h0m6 .5h0m2.5 .5h0m1 0h0m2.5-.5h0m1 1h0m1.5-3h0m1-1.5h0m0 3.5h0m1.5-3h0m0 4h0m0 0h0m1-5h0m.5 2h0m1-.5h0m1 2.5h0m.5-4h0m0 4.5h0m.5-2h0m1 .5h0m1.5-1h0m2-2.5h0m.5 3h0m1-.5h0m.5-1.5h0m3-1h0m1.5 0h0m3.5 0h0m2 .5h0m1.5 0h0m241.5 .5h0m1.5 0h0m1 1.5h0m2-.5h0m2.5-2h0m1 0h0m4 2h0m0 0h0m2 1h0m0-.5h0m3.5 1h0m0 0h0m2 .5h0m.5 .5h0m0 0h0m1 0h0m.5-.5h0m1.5 1h0m2 0h0m1 0h0m1-.5h0m0 1h0m.5 0h0m0 0h0m2-.5h0m.5 0h0m2 0h0m0 0h0m1 .5h0m1 0h0m1-.5h0m2.5 .5h0m0-1h0m22 .5h0m2 .5h0m2.5 0h0m13 0h0m1 0h0m119-3.5h0m1.5-.5h0m38.5 1.5h0m.5 0h0m0 2.5h0m-519 .5h0m1.5 3h0m.5-3h0m2 2h0m.5-1h0m.5 2h0m.5 .5h0m.5 1.5h0m1-5h0m0 2h0m1.5 1.5h0m.5-3.5h0m0 2h0m.5-1.5h0m1 4.5h0m.5-2h0m1-2h0m1 3h0m.5 1.5h0m.5-3h0m.5 .5h0m0 1h0m.5-4h0m.5 4h0m1.5-3h0m1 2h0m0 1.5h0m2-2.5h0m0 2.5h0m.5-4.5h0m1 3.5h0m.5-3.5h0m1.5 1h0m7.5 2.5h0m.5-2h0m1 3h0m.5-3.5h0m1 1.5h0m1 1.5h0m.5-4h0m0 3h0m0 .5h0m.5 1.5h0m1-2.5h0m0 3h0m3-4h0m2.5 1h0m3.5 1h0m59 2h0m129-4.5h0m0 0h0m35.5 1h0m0 2h0m.5 1.5h0m1.5-3.5h0m1 2.5h0m1.5-2h0m.5 1.5h0m.5-2h0m42-2h0m2.5 .5h0m2-.5h0m1 .5h0m0 0h0m0 1h0m.5-1.5h0m1.5 .5h0m.5 .5h0m1.5 0h0m1-.5h0m1.5 0h0m.5 .5h0m1 0h0m0 1h0m0 3h0m.5-3.5h0m0 2h0m0 1h0m2-2h0m1 2h0m.5-4.5h0m.5 4h0m.5 0h0m1-4h0m0 1h0m1 1h0m.5 3.5h0m.5-5h0m0 3h0m1-.5h0m.5-.5h0m0 3h0m2.5-2.5h0m0 1.5h0m1-4h0m1 2.5h0m1.5-1.5h0m.5 4h0m.5-4h0m0 1.5h0m.5 .5h0m3.5-.5h0m.5 .5h0m.5-1.5h0m0 3.5h0m1.5-2h0m.5 2h0m2-.5h0m.5 .5h0m2-3h0m.5 2.5h0m0-5h0m1 2h0m0 .5h0m.5 1h0m1-1.5h0m0 3h0m1-3.5h0m0 2.5h0m0-2.5h0m0 2.5h0m.5-3.5h0m.5 1h0m.5 3h0m.5-3h0m0 2h0m2 0h0m30-.5h0m1 0h0m.5 .5h0m1-1h0m.5 0h0m.5 2.5h0m1.5-3h0m1-.5h0m0 0h0m0 0h0m0 .5h0m2.5 0h0m0 1h0m0-1.5h0m1.5 2h0m1 0h0m1 .5h0m.5-.5h0m0 0h0m.5 .5h0m1.5 1h0m0 0h0m108.5-4.5h0m.5 4.5h0m1.5-3.5h0m-518.5 5h0m1 2h0m0 2h0m1.5-2.5h0m.5-1.5h0m1 4h0m.5 1h0m.5-2.5h0m.5-2.5h0m1 3h0m.5 1h0m.5-3h0m2 0h0m.5 3h0m1-2h0m2.5 0h0m1-2h0m0 3.5h0m0 1.5h0m.5-3h0m.5 2h0m3-4.5h0m0 2h0m0 3.5h0m.5-5h0m.5 3h0m1.5 2h0m5.5-5.5h0m1.5 .5h0m1.5-.5h0m175 1.5h0m34.5-1.5h0m16 5.5h0m7-1.5h0m6.5-2h0m2-1h0m0 2.5h0m.5-3.5h0m56 2.5h0m2-.5h0m1.5-1.5h0m.5 3h0m0 1h0m2-2.5h0m0 2h0m.5 1.5h0m.5-4.5h0m1 2.5h0m1 1.5h0m1-1h0m1-3h0m.5-1h0m.5 4h0m1.5-1.5h0m0 2.5h0m1.5-3h0m.5 2.5h0m1.5-3h0m1.5 3h0m.5-4.5h0m0 3h0m.5-2h0m.5 2h0m.5 1.5h0m1-3.5h0m.5 2h0m1-2.5h0m3 1h0m1.5 0h0m2-1h0m53-.5h0m0 .5h0m1 .5h0m.5-.5h0m106 1h0m-515.5 5h0m0 1h0m0 2.5h0m1.5-2h0m.5 1h0m1.5-1h0m.5 2h0m1-4h0m0 2.5h0m1-1.5h0m1 .5h0m1.5-1h0m.5 3.5h0m1-4h0m0 2h0m0 2h0m1.5-4h0m0 1.5h0m.5 3.5h0m.5-3h0m1.5 3h0m1-3h0m1.5-1.5h0m0 5h0m.5-4.5h0m2 1.5h0m1.5-.5h0m0 2h0m.5 1h0m.5 .5h0m.5-.5h0m2 .5h0m308-5h0m1.5-.5h0m0 2h0m22 0h0m8 2.5h0m.5 0h0m1 1h0m-362 .5h0m1.5 .5h0m2 1h0m.5-1h0m1 1.5h0m.5-2h0m1 4.5h0m0 1h0m.5-5.5h0m.5 3h0m1 2.5h0m.5-2h0m.5-1.5h0m1-1.5h0m0 .5h0m1.5-.5h0m1.5 1h0m1 .5h0m.5-1.5h0m2 1.5h0m2.5 0h0m3 .5h0m.5-2h0m1.5 1.5h0m0 2.5h0m1.5-.5h0m1-2h0m.5 1.5h0m1-1.5h0m.5 2h0m1-2.5h0m2.5 3h0m2-3h0m.5 3h0m35-2.5h0m.5 .5h0m13.5 3h0m.5-.5h0m1.5 0h0m.5-.5h0m.5-.5h0m1.5 0h0m0 0h0m0-.5h0m273.5-3.5h0m0 0h0m1 0h0m1.5 1.5h0m.5 0h0m2 1.5h0m.5 0h0m73 2.5h0m2.5-.5h0m2-1.5h0m-405 4.5h0m4 3h0m30-2h0m1 1.5h0m1.5-2.5h0m.5 1.5h0m1.5-1h0m.5-1.5h0m1 1h0m.5-1.5h0m.5 0h0m.5 .5h0m.5-.5h0m.5-.5h0m146 3h0m.5-.5h0m.5 1h0m1.5 0h0m.5 0h0m1.5 1.5h0m0-.5h0m.5 1h0m2-.5h0m0 0h0m.5 .5h0m0-.5h0m1 .5h0m.5 0h0m46.5-2h0m.5 1h0m.5 .5h0m1-.5h0m.5-1h0m.5 0h0m.5-.5h0m0 2h0m1.5 0h0m.5 0h0m-225.5 6.5h0m.5-1h0m2-.5h0m.5-1h0m1 0h0m1-1h0m111.5 2h0m.5 0h0m57-3.5h0m0-.5h0m1 0h0m.5 0h0m.5 0h0m1 1h0m.5-.5h0m.5 0h0m1.5 0h0m0 .5h0m1.5-.5h0m.5 0h0m.5 1h0m40 0h0m.5 1h0m1-1h0m0 3h0m.5-2h0m0-2.5h0m0 3.5h0m.5-2.5h0m1 4h0m.5-4h0m0 4.5h0m.5-2h0m0 0h0m1 1.5h0m0-3.5h0m0 1.5h0m.5 2h0m-235.5 6.5h0m0-1h0m1.5 0h0m0-1h0m1.5-1h0m.5 1h0m1-2h0m2-1h0m227-.5h0m-235.5 6.5h0m0-.5h0m231 4h0m.5 1h0m125.5-3h0m3 3h0m77.5 0h0m5.5-2.5h0m2-1h0m0 0h0m2-1h0m1.5-.5h0m-26 10.5h0m2-.5h0m1.5 0h0m1 1h0m2.5-.5h0m2-2h0m.5 2.5h0m1-2.5h0m2-.5h0m1 2.5h0m1 0h0m2-4h0m0 4h0m-160.5 3.5h0m.5-.5h0m2 2h0m2 1.5h0m.5-.5h0m0 .5h0m0 0h0m23.5-.5h0m1.5-1.5h0m3-3h0m0 2.5h0m.5 1h0m1 .5h0m.5-2.5h0m1.5 2h0m1 1.5h0m2.5-.5h0m0 1h0m1.5-1.5h0m1.5 1h0m82 0h0m1 .5h0m3-1h0m2.5-.5h0m.5-2h0m1.5-.5h0m.5 1.5h0m3-.5h0m1-1h0m1.5 0h0m.5 .5h0m2.5-1.5h0m.5 .5h0m2.5 .5h0m2.5 1h0m.5-2h0m1.5 0h0m.5 3h0m0 1.5h0m1.5-5h0m0 5.5h0m1.5-5h0m2.5 2h0m1-2.5h0m0 3h0m0 .5h0m1.5 .5h0m.5-2.5h0m1.5 1.5h0m0 2h0m3-4.5h0m-388 8.5h0m75 1.5h0m1-.5h0m3.5-2h0m149.5 3.5h0m.5 0h0m2-5h0m0-.5h0m1.5 1h0m.5 0h0m1.5 1h0m19 2h0m1.5-3.5h0m3.5-.5h0m8 0h0m8 5.5h0m0 0h0m.5-.5h0m.5 .5h0m.5-1h0m72-4.5h0m22 3.5h0m1-3.5h0m0 2h0m2.5-1.5h0m.5 1.5h0m1-1h0m4 .5h0m1-1.5h0m0 1.5h0m1 1h0m1-1.5h0m-312 6.5h0m.5-.5h0m2-1h0m56 2h0m102-1h0m1-.5h0m1.5 1.5h0m0-1h0m2 1h0m0 .5h0m20-1.5h0m1 2h0m.5 0h0m1 1.5h0m12.5-1.5h0m1 0h0m1.5-2h0m4-.5h0m0 .5h0m2.5 1h0m0 0h0m14 3.5h0m0 0h0m1.5-.5h0m2-.5h0m.5 0h0m.5 .5h0m2 0h0m1.5 .5h0m4.5 0h0m2-.5h0m1.5-1h0m-394 4.5h0m271.5-.5h0m.5 0h0m42.5 3h0m.5-3.5h0m.5-1.5h0m.5 3h0m0 2.5h0m1-5h0m0 .5h0m1 2.5h0m.5-2.5h0m.5 4h0m.5-2h0m2.5 .5h0m2 1.5h0m1-.5h0m2 1h0m15-.5h0m1 0h0m1.5-5h0m.5 5.5h0m1.5-.5h0m0 0h0m0-1.5h0m.5 1.5h0m1.5-2.5h0m0 1h0m1-1.5h0m1-1h0m24.5-1h0m1 .5h0m3.5-.5h0m8.5 0h0m1 .5h0m0 0h0m0-.5h0m31.5 5.5h0m-111 5.5h0m2 0h0m.5 .5h0m.5-1.5h0m1-1.5h0m.5 3h0m1-4h0m.5 3h0m1 1h0m.5-5.5h0m.5 1h0m0 3.5h0m.5 .5h0m.5-1.5h0m1-2h0m1 2h0m0 1.5h0m.5-3.5h0m1.5-1h0m0 1h0m.5 2.5h0m0 1.5h0m1.5-4.5h0m.5 2h0m0 2h0m1.5-4h0m.5 3h0m1.5 0h0m.5-2h0m.5 3h0m.5-3.5h0m1 1.5h0m1-2h0m0 3.5h0m.5-.5h0m2-1.5h0m0 2.5h0m1.5-1h0m.5-2.5h0m1 2.5h0m2 1h0m1-3h0m.5 2h0m.5 1.5h0m.5-1.5h0m2.5 1h0m0-5h0m1 3h0m.5 2h0m.5-3h0m.5 1.5h0m1-2h0m0 2.5h0m0 1.5h0m2.5-1.5h0m4 1h0m.5 0h0m20.5-.5h0m1 .5h0m2 0h0m7 .5h0m10-.5h0m2.5-.5h0m3.5-1.5h0m0 1h0m2.5-.5h0m2-.5h0m0 0h0m2.5-1h0m2-1h0m2 0h0m.5-.5h0m2 0h0m1.5 0h0m-184.5 6.5h0m71.5 2.5h0m1.5-1.5h0m0 2.5h0m.5-2h0m.5 3h0m1-4.5h0m.5 3h0m.5-4h0m.5 1h0m0 4.5h0m1-2h0m.5 1h0m1-.5h0m.5-3h0m0 0h0m.5 4h0m2-3h0m1 1h0m1 0h0m.5-2h0m.5 4.5h0m1-3h0m0 3h0m.5-3.5h0m1.5 .5h0m.5-1h0m1.5 2h0m2 2h0m1-1.5h0m.5 .5h0m.5-4.5h0m0 2h0m2-2h0m0 3.5h0m1.5 .5h0m1.5-3h0m0 4.5h0m1.5-4h0m0 3h0m.5-1.5h0m.5-1.5h0m.5 3.5h0m.5-2h0m1.5-1.5h0m.5 1.5h0m.5-3h0m.5 1.5h0m.5 3.5h0m.5-1.5h0m0-.5h0m0 .5h0m.5-3.5h0m.5 .5h0m.5 1h0m.5 2h0m0-2h0m1.5 1.5h0m0 2.5h0m2-3h0m.5 3h0m2.5-1.5h0m1-3.5h0m1.5 1.5h0m.5-2h0m1 1h0m1 2h0m.5-3h0m0 1h0m.5 2h0m2 0h0m.5-2.5h0m2 .5h0m.5 1.5h0m0 3h0m1.5-3.5h0m.5 1h0m0 2h0m.5-1.5h0m.5-2h0m2 0h0m0 2h0m0 1h0m2-.5h0m.5-2h0m0 3h0m2.5-3.5h0m0 2h0m.5-2h0m.5 3.5h0m.5-1h0m1-1h0m0 2.5h0m.5-4h0m1.5 .5h0m.5 2.5h0m.5-4.5h0m0 4h0m.5-1h0m.5-2h0m1 4h0m1-2.5h0m.5 3h0m.5-3.5h0m1 1h0m.5-2h0m1.5 2.5h0m1-2h0m.5-1h0m.5 2.5h0m.5 1.5h0m.5-3h0m.5-1.5h0m.5 2h0m0 3h0m.5-1.5h0m1-2.5h0m.5 4.5h0m1-3h0m.5 0h0m.5-1.5h0m0 3.5h0m2-1h0m1-3.5h0m1 0h0m-316.5 7h0m224.5 4h0m.5-2h0m.5-1h0m0 3.5h0m.5-3h0m.5-.5h0m1-2h0m1.5 4h0m.5-3.5h0m0 4h0m3.5-2h0m.5-1h0m1.5 0h0m1 1h0m1-1.5h0m1-1h0m0 3h0m1-1h0m1.5 1h0m.5 2h0m.5-4h0m.5 .5h0m1 2.5h0m.5-1h0m1.5-1h0m1-2h0m0 2h0m0 .5h0m0 3h0m.5 0h0m1-2.5h0m.5-2h0m1 4h0m1-2h0m1 2.5h0m.5-3h0m1-2.5h0m0 .5h0m1.5 1.5h0m0 1h0m.5 2h0m1-1.5h0m0 1h0m.5-1h0m2-1.5h0m0 0h0m.5 0h0m.5-1h0m.5 .5h0m0 3h0m0-3.5h0m.5 2h0m0 1.5h0m0-4h0m0 .5h0m1.5 2h0m.5-2.5h0m1.5 4.5h0m.5-1h0m.5-4h0m.5 1.5h0m.5 1.5h0m1-1.5h0m.5 4h0m.5-4.5h0m0 1.5h0m2.5 1h0m2 2h0m3-1h0m1 1h0m1-1.5h0m1.5 1h0m2-2.5h0m1-1.5h0m.5 4h0m1-1.5h0m.5-2h0m0 3h0m1.5-4.5h0m.5 2.5h0m.5-2h0m0 2.5h0m2-2h0m1 .5h0m.5 2.5h0m.5 .5h0m1-1.5h0m1-3h0m0 1h0m.5 3.5h0m.5-2.5h0m0 1h0m1 1.5h0m1.5 0h0m.5-3.5h0m1 .5h0m0 2h0m1 1.5h0m1 .5h0m2-4.5h0m0 3h0m.5 1.5h0m1-4h0m0 1h0m.5-2.5h0m1 3.5h0m.5 1.5h0m1 0h0m2.5-1.5h0m1.5-2.5h0m1 1h0m-87.5 6.5h0m.5-2h0m0 2h0m.5 3h0m1.5-3.5h0m.5 .5h0m0 3h0m1-5.5h0m1 5.5h0m.5-4h0m0 1.5h0m1-.5h0m0 2.5h0m1.5-5h0m0 0h0m1.5 3h0m0 2h0m1.5 0h0m4 0h0m2-1h0m1-2h0m.5 1.5h0m1-3.5h0m.5 1h0m.5 1h0m1.5-.5h0m0 2h0m2-1h0m.5-.5h0m1.5-1h0m2.5 .5h0m1.5-.5h0m.5-1h0m.5 0h0m.5 1h0m3-1h0m.5 1h0m1.5 1h0m1.5-1.5h0m1 2h0m.5-1h0m1-.5h0m1-1h0m1 2.5h0m2-.5h0m0 .5h0m1-2.5h0m.5 4h0m.5-1.5h0m1.5-1h0m1 2h0m0 2h0m.5-4.5h0m2 2h0m.5-1.5h0m.5-1.5h0m1.5 3.5h0m1-2.5h0m.5 1.5h0m0 3h0m1.5-5h0m0 4.5h0m.5-5h0m0 3h0m2 2.5h0m.5-5.5h0m1.5 2h0m0 .5h0m0 2.5h0m.5-4.5h0m1-.5h0m.5 3.5h0m1.5-3.5h0m0 3.5h0m.5-1.5h0m1-1h0m2 .5h0m1.5-.5h0m3-1h0m1 0h0m3.5 1h0m-253.5 7.5h0m174 2.5h0m1.5-1.5h0m.5-.5h0m2-2h0m0 1.5h0m.5 0h0m.5 1.5h0m2.5-3.5h0m0 2h0m.5 1.5h0m.5-1.5h0m2-1h0m1-.5h0m0 2.5h0m3-3h0m1 1h0m57.5-1.5h0m1 2h0m1.5-.5h0m1.5 0h0m2.5-.5h0m0 1.5h0m1 1.5h0m.5-4h0m.5 1.5h0m-89.5 9.5h0m.5 0h0m2.5-1.5h0m0-.5h0m1-1.5h0m.5 0h0m1-1h0m.5 0h0m0-.5h0m76 5.5h0m3.5-.5h0m1 .5h0m2-1.5h0m7.5 1h0m3 0h0m1 0h0m2 0h0m-18 4h0m.5-1.5h0m.5 2h0m.5 1.5h0m2-1h0m.5-2.5h0m1 1.5h0m.5 2h0m.5-5h0m0 2h0m.5 0h0m0 3.5h0m.5-2h0m2-3h0m0 4.5h0m1-5h0m.5 5h0m.5-4h0m1 2h0m1-1.5h0m0 2.5h0m.5-1.5h0m1 1h0m0 1h0m1-3h0m1 3h0m.5-1.5h0m-17.5 3h0m1.5 2.5h0m.5-.5h0m2-2h0m0 1.5h0m1 1h0m1-.5h0m2-1h0m1-.5h0m4.5-.5h0" stroke="#f28124" stroke-width="3.2" stroke-linecap="round"/><path d="M685 46.5h0m-5.5 5h0m4.5-3.5h0m61 5h0m2-1.5h0m4 1.5h0m-357.5 5.5h0m288-3.5h0m55 3.5h0m1.5-2.5h0m1 1.5h0m1-3h0m1 1h0m-143.5 5h0m83 1h0m1 .5h0m11 1.5h0m5.5 1h0m.5 1h0m40.5-5.5h0m-69.5 7h0m6-1h0m.5 1h0m2-.5h0m4.5 0h0m1.5 1.5h0m5-1h0m0 3.5h0m3.5-3.5h0m1 0h0m4 3.5h0m5-.5h0m3.5 .5h0m6-.5h0m4 1.5h0m4-1.5h0m1.5 1.5h0m1.5 0h0m1-3.5h0m6-.5h0m-213.5 5h0m145 3.5h0m2-.5h0m1-.5h0m.5 2h0m2-1.5h0m4-1.5h0m3.5-.5h0m2 3.5h0m.5-1.5h0m2 2h0m.5-3.5h0m0 1.5h0m1.5-.5h0m1.5 1h0m.5-1.5h0m2 3h0m.5-4h0m5.5 1.5h0m2-2.5h0m0 3h0m5-3h0m1.5 4h0m.5 .5h0m.5-3.5h0m1-1.5h0m0 5h0m1 0h0m1.5-3h0m.5 3h0m3-4.5h0m.5 3h0m1-2.5h0m5-1h0m3 0h0m0 5h0m4-3h0m3.5-1h0m1.5 4h0m4.5-5h0m3 3h0m11.5 1h0m-109.5 4h0m0 2h0m1.5-3h0m2 1h0m1.5-2h0m4.5 3h0m1 2h0m2-2.5h0m1 2.5h0m4.5-.5h0m1.5 1h0m11.5-.5h0m1 .5h0m3 0h0m1.5-5h0m2-.5h0m8 0h0m1 1.5h0m12.5-1.5h0m11 1h0m2.5 2.5h0m1 .5h0m2-3.5h0m3.5 0h0m2 3h0m3-1.5h0m3-.5h0m.5 1.5h0m4.5 1.5h0m1.5-1.5h0m2-1h0m2-1h0m1 4h0m.5-3h0m-96 4.5h0m2.5 4.5h0m1-1h0m4-.5h0m1 2h0m2-4.5h0m2 .5h0m0 3.5h0m2.5-3.5h0m.5 1h0m1-1h0m2-1h0m.5 4.5h0m1.5-2h0m3.5 2.5h0m.5-4h0m.5 1h0m2 0h0m.5 2.5h0m1.5-2.5h0m2.5-.5h0m.5 2h0m3-.5h0m3 0h0m2.5 0h0m1 1h0m1-1.5h0m1-1h0m1.5 3h0m3 .5h0m13-2h0m.5-2.5h0m5.5 2.5h0m1.5 1.5h0m1.5-.5h0m.5-2h0m.5 1.5h0m1 1.5h0m1.5-2h0m0 2h0m2.5-3.5h0m3.5 1.5h0m1 2h0m1.5-4.5h0m2.5-.5h0m6.5 1h0m-88.5 8.5h0m2-.5h0m.5 1h0m.5-4.5h0m5.5 5.5h0m.5-2h0m.5-2h0m1.5 2.5h0m4.5 1.5h0m2.5-2.5h0m4-.5h0m4-.5h0m0 3.5h0m4.5-4.5h0m1.5 4h0m5.5-3h0m1 2.5h0m1.5-4.5h0m8.5 4.5h0m1-2h0m.5-1h0m1 3h0m1.5 .5h0m2-3.5h0m1 1h0m1-2.5h0m1.5 5.5h0m1-4h0m1 4h0m2-5.5h0m7.5 2.5h0m9.5 0h0m4 2.5h0m2-3.5h0m2 1h0m3-1.5h0m-91 5.5h0m4.5 3h0m1.5-1h0m1.5 2.5h0m.5-2.5h0m1.5 1.5h0m0 .5h0m5.5-1.5h0m2 1.5h0m1.5-2h0m1 2.5h0m.5-4.5h0m1.5 .5h0m6.5 1.5h0m1.5 1h0m2-1h0m2.5-1.5h0m2.5 1.5h0m4.5 1h0m2.5-2h0m0 4h0m2-.5h0m1.5-4h0m3 2.5h0m1-2.5h0m1.5 4.5h0m1.5-4.5h0m4 .5h0m2-.5h0m1 .5h0m1 4h0m1-4h0m2.5 3.5h0m1 0h0m6.5-3.5h0m4.5-.5h0m8.5 0h0m4.5 .5h0m0 2h0m.5-.5h0m-309 7h0m1.5-1h0m219-2.5h0m8 2.5h0m1 .5h0m8.5-1h0m2 1h0m2.5-.5h0m4 1.5h0m7.5-1.5h0m.5-2h0m4.5-.5h0m4 3h0m1 1.5h0m2-2h0m1.5 2.5h0m9-1.5h0m.5-2h0m1 3h0m13-3h0m0 2.5h0m1-4.5h0m2 1h0m.5 1.5h0m1 2h0m1 1h0m10-3h0m3.5-2h0m1.5 1h0m3.5 1h0m3 3h0m1.5-2.5h0m-393.5 7.5h0m60-1.5h0m10 2h0m11.5 0h0m215-5h0m.5 4h0m3.5-3.5h0m5.5 .5h0m9.5 .5h0m8.5 3h0m1.5-4h0m2.5 2.5h0m2 0h0m.5 2h0m1-4h0m2.5 4h0m5-1.5h0m4 1.5h0m3-4h0m7-.5h0m18.5 0h0m-303.5 7.5h0m0 1h0m1.5 .5h0m2 1h0m1.5-3.5h0m4.5 1.5h0m2-1h0m225-.5h0m1.5 1h0m7 0h0m4.5 1.5h0m14.5-3.5h0m39 3h0m1-2.5h0m.5-.5h0m116.5 5h0m1.5-1.5h0m.5 .5h0m0-.5h0m1-1h0m4-1.5h0m-431.5 5h0m1 1.5h0m2.5 1.5h0m240.5-1h0m166 0h0m5 2.5h0m2.5-1h0m1.5-1.5h0m5-2h0m-403.5 9.5h0m19 0h0m2.5-1h0m198 1h0m.5-1.5h0m3 .5h0m34.5 2h0m135.5-4h0m2.5 1h0m3.5 3.5h0m2 0h0m10.5-1h0m1.5 1h0m1.5-.5h0m1-2.5h0m0 1.5h0m1.5 1.5h0m3-3.5h0m2 4h0m.5-.5h0m.5-3h0m4 2h0m2 .5h0m1-1.5h0m0 1h0m3-1h0m1 1h0m-632 6h0m2.5-.5h0m187-1h0m5.5 0h0m1 2.5h0m1-2.5h0m110.5 1h0m1.5-1.5h0m104-1.5h0m6 5h0m3-3h0m149 3h0m10-.5h0m6.5 .5h0m1.5-3h0m.5-2.5h0m3 3.5h0m3.5-3.5h0m2 4.5h0m1-2.5h0m1-1h0m3 2.5h0m1-.5h0m0 2.5h0m1.5-.5h0m6-2h0m0 1h0m1.5-2h0m1.5 2.5h0m3.5 0h0m1.5-4.5h0m1 4.5h0m1.5-2.5h0m1.5-2h0m-621.5 8h0m3.5 .5h0m19 2.5h0m2.5-2h0m40.5 0h0m120.5-1h0m2 1.5h0m3 1.5h0m12-3h0m197 2.5h0m2-1.5h0m1.5-1h0m4 2h0m1-2.5h0m2-1h0m.5 2.5h0m3-2.5h0m153.5 2.5h0m1-.5h0m3 .5h0m4.5 2.5h0m.5-3h0m2.5-.5h0m0 3h0m2-4.5h0m0 2h0m2.5-2.5h0m0 2h0m.5 2h0m1.5-1.5h0m.5 3h0m1.5-5.5h0m2 1h0m0 1h0m1.5 3h0m1.5-3h0m2-2h0m1.5 3h0m2.5-3h0m0 5h0m1.5 0h0m2.5-4.5h0m1 .5h0m3.5 4.5h0m.5-3.5h0m.5 1.5h0m3-.5h0m.5 2h0m1.5-2.5h0m-622.5 4.5h0m3.5 3h0m.5 1.5h0m7.5-3h0m2-2h0m287 2.5h0m15.5-2h0m7 2h0m49.5 .5h0m3 1.5h0m20.5-.5h0m4-.5h0m0 1.5h0m6.5-5h0m166.5 3h0m8-2.5h0m7.5-1h0m1 4h0m1-2h0m2.5 1h0m.5-2.5h0m0 1.5h0m0 2.5h0m.5 0h0m2 1h0m.5-.5h0m2-4.5h0m5 .5h0m5 2h0m2-.5h0m.5-2h0m1 1.5h0m3.5 2.5h0m3 .5h0m2-1h0m1.5-2.5h0m2.5 2h0m.5-2.5h0m-649 9h0m18-4h0m3.5 1h0m1.5 0h0m3 2.5h0m6.5-3h0m175.5 2.5h0m4-1h0m2.5-1.5h0m13 2h0m6.5 2h0m5.5-4h0m87 2h0m3-1h0m15 3.5h0m5-4h0m2.5 3h0m3-3h0m2 1h0m2.5 3.5h0m3-1h0m30.5-1h0m.5 1h0m3-2.5h0m1 3h0m6 .5h0m3.5-5.5h0m7 .5h0m0 3.5h0m1.5 .5h0m1.5-2.5h0m233.5-2h0m1 4.5h0m1-3h0m1.5 1h0m4 3h0m.5-4h0m.5 2h0m1.5 .5h0m0 1.5h0m-657 4.5h0m8-4h0m4 4.5h0m11-3.5h0m4.5 1.5h0m4 1h0m53-.5h0m116-2h0m13.5 1h0m2 2h0m1-.5h0m0 1.5h0m11-4.5h0m62 4.5h0m101-4h0m0 2.5h0m2 0h0m1 0h0m3.5-2h0m1 3.5h0m1.5-3h0m6.5-2h0m3 2h0m243.5-1.5h0m-678 11h0m35-3.5h0m3.5 2h0m8.5-.5h0m56 0h0m16.5 2h0m10-5h0m5.5 1.5h0m5 3h0m100-4h0m1.5 1.5h0m82.5 3h0m1.5-2h0m1-1.5h0m101 0h0m1.5 1h0m-446 7.5h0m10-1.5h0m.5-.5h0m3.5 2h0m9.5 1h0m3-.5h0m20-.5h0m11.5-1h0m1.5-3.5h0m8.5 5.5h0m2.5-4.5h0m14-1h0m36.5 4h0m11.5-3h0m3 1.5h0m2.5 3h0m1-2.5h0m11.5 1h0m137.5 .5h0m37 1h0m.5-5h0m6.5 0h0m-331.5 6h0m3.5-.5h0m20.5 3.5h0m2-1.5h0m1.5-1.5h0m.5 2.5h0m3-2h0m12.5 3h0m6.5-4h0m2 4h0m1 1h0m22.5-1.5h0m3-1h0m3.5 1h0m2 0h0m13-3h0m19.5 0h0m16.5 1h0m6 2h0m11-3.5h0m2.5 1.5h0m8-1.5h0m80 1.5h0m75-1h0m1 4.5h0m3.5-2.5h0m.5-1h0m1.5 .5h0m16.5 3h0m23.5-4h0m-355.5 8.5h0m14.5 1.5h0m6.5 .5h0m5 0h0m3.5-1.5h0m11-4h0m2.5 .5h0m26 1.5h0m5.5-.5h0m4 0h0m.5 1h0m2.5 0h0m1 1h0m4-3.5h0m0 5.5h0m.5-3h0m0 3h0m54-.5h0m-169 1.5h0m30.5 1h0m3 0h0m4 .5h0m7-.5h0m.5 1.5h0m4.5-2.5h0m4 .5h0m2 2h0m4.5 0h0m1.5-.5h0m1-1h0m48.5-.5h0m3.5 2h0m1-1.5h0m.5-1h0m2.5 0h0m228.5-.5h0m0 4h0m34 1.5h0m.5-.5h0m1.5-1h0m0 0h0m7 1.5h0m159-3h0m-525 3.5h0m20.5 2.5h0m.5-1h0m73.5-1.5h0m2 2.5h0m16 1h0m6 1.5h0m3 0h0m198-3h0m13.5 2.5h0m34.5-3h0m2.5 .5h0m133.5-2h0m12 3h0m3 2h0m114.5 0h0m-533 1.5h0m3 2.5h0m3 2h0m2.5-1h0m2-1h0m7 1h0m1-3h0m1 1.5h0m12.5 2.5h0m2-3h0m366 3h0m1.5 0h0m.5-2.5h0m2 1.5h0m2 1h0m1.5 .5h0m3-4.5h0m2 4h0m.5-2h0m1.5-2.5h0m3-.5h0m4 5h0m1.5-1h0m4 0h0m2.5-4h0m0 4h0m2-4h0m93 3h0m2-2.5h0m1 2.5h0m3 0h0m1 1h0m1.5-2h0m3-1.5h0m1 5h0m1.5-3h0m2 2.5h0m-536.5 4.5h0m3-1h0m1.5-2.5h0m7.5 3h0m5.5 1h0m4.5-4h0m2 2.5h0m369-1.5h0m4.5 .5h0m2 3.5h0m2-3h0m1-1.5h0m0 4h0m2.5-4h0m.5 5h0m1 0h0m.5-5h0m1 3h0m2 .5h0m5.5 1.5h0m2.5-3h0m0 2h0m3-2h0m2 .5h0m.5 .5h0m2.5-3.5h0m92.5 5.5h0m5-.5h0m3.5-1h0m1 1h0m4-5h0m0 5h0m1.5 0h0m3.5-.5h0m2-4h0m.5 4h0m1.5-.5h0m.5 1h0m.5-4h0m2 1h0m2.5-.5h0m1.5 .5h0m6.5-1h0m-562 10.5h0m7-3h0m0 1.5h0m.5 .5h0m.5-4.5h0m3 5h0m5-5h0m2.5 2.5h0m2-1h0m2.5 2.5h0m110.5-3.5h0m3 3h0m.5-1h0m12.5 1.5h0m43 0h0m40 0h0m33.5-4h0m142.5 1.5h0m3 1h0m.5 1.5h0m1.5-2.5h0m1 1h0m2.5-2h0m1.5-.5h0m3.5 1.5h0m100.5-1.5h0m1 5.5h0m1.5-4h0m0 3.5h0m1.5-2.5h0m18-2h0m-525 7.5h0m65 2.5h0m2.5-2.5h0m1.5 1h0m86.5-1.5h0m2.5 0h0m50.5 1h0m0 2h0m.5-3.5h0m2.5 .5h0m1.5 1.5h0m2 2.5h0m18-5h0m157.5-.5h0m4.5 2h0m.5 2.5h0m100.5-4.5h0m0 1h0m11 0h0m2 1.5h0m1-2h0m0 3h0m1-2h0m4.5 2.5h0m1-2h0m.5 1.5h0m4.5 2h0m20 0h0m-568.5 3h0m3.5-1.5h0m2 1.5h0m4-2h0m0 1.5h0m102.5 2.5h0m2-3.5h0m14.5 0h0m6 .5h0m14 3h0m6 .5h0m4.5-4h0m53.5 3h0m24-.5h0m145 0h0m138.5-2.5h0m3.5 1h0m4.5 2.5h0m6.5 .5h0m.5 0h0m3-.5h0m3-1.5h0m.5 2.5h0m3-4.5h0m1 2h0m1-1h0m1.5-1.5h0m-552 6h0m106.5 1.5h0m5 2h0m3 .5h0m7-4.5h0m6.5 2.5h0m22 2.5h0m11.5-4h0m40 1h0m6 2h0m0 1.5h0m2.5-4h0m2-.5h0m4.5 3.5h0m18.5-3h0m3 2h0m2.5-2h0m3.5 3.5h0m1.5-2.5h0m5-2h0m3 1.5h0m3 3h0m1.5 0h0m53-2h0m79-2h0m109.5 0h0m26.5 2.5h0m1.5 1h0m2.5-4h0m0 3.5h0m2 .5h0m3 .5h0m3-2h0m5.5-1h0m13.5 .5h0m.5 2h0m1-2h0m1.5 1.5h0m8.5 .5h0m-459 3h0m6-1.5h0m2 .5h0m6 2h0m3.5-.5h0m6.5 1.5h0m11-.5h0m2-2.5h0m11-.5h0m15.5 2.5h0m8.5-1h0m1.5 3h0m30.5-3.5h0m3-.5h0m2 1h0m7.5 1.5h0m2 .5h0m18.5 1.5h0m2.5-4h0m2.5 2h0m2.5 .5h0m10.5 1h0m8 1h0m1-3h0m31.5-1.5h0m223 0h0m1-1h0m9.5 .5h0m4.5 1.5h0m.5 2h0m5.5 0h0m3.5 1.5h0m1.5-1h0m5-1h0m3-3.5h0m1.5 1h0m0 3.5h0m3-2h0m0 2h0m4.5-2h0m1.5 2.5h0m4-4h0m-456 6h0m12.5 3.5h0m27 1h0m24-5.5h0m4 1h0m1.5 1.5h0m2-2h0m1.5 4h0m4.5-4h0m.5 1h0m3 2h0m4-3h0m3 5h0m4-4.5h0m2 4h0m5-2h0m1.5-1.5h0m9 .5h0m1.5 1h0m2-1.5h0m3.5 4h0m7-2.5h0m1.5-1.5h0m2-1.5h0m14.5 2h0m45.5-.5h0m7 1.5h0m2.5 0h0m114 1h0m1.5 1h0m1.5 0h0m4 .5h0m4.5-2h0m2-2h0m7.5 2h0m2.5 2h0m.5-3h0m4 2h0m1.5-1h0m1 .5h0m2 1h0m1 0h0m11-2.5h0m1.5 2h0m15.5 1h0m56.5-2h0m15.5-3.5h0m3.5 .5h0m4 1.5h0m2.5-2h0m-485 6h0m36 5.5h0m3.5-1h0m12 1h0m2-2.5h0m0 1.5h0m9 1h0m3.5-1.5h0m3-2.5h0m3 2.5h0m7-4h0m0 5h0m4.5-5h0m1 3h0m7.5-1h0m2.5 3h0m7.5-.5h0m2.5-4h0m1 1.5h0m5 3h0m2.5-3h0m3 2h0m2 0h0m1-.5h0m.5 1h0m5-4.5h0m17.5 3.5h0m6.5 .5h0m.5-3h0m12 1h0m1.5 2.5h0m8-4h0m27 2.5h0m1 .5h0m2 .5h0m5.5 1.5h0m12.5-5.5h0m13.5 3h0m6-3h0m.5 2h0m92.5 2h0m1.5-.5h0m3 1.5h0m.5-2h0m3.5 0h0m3-2h0m4 3.5h0m1-3.5h0m0 4.5h0m6.5-1.5h0m4.5-3h0m1-.5h0m2 3.5h0m2.5-2.5h0m5.5 3.5h0m4.5 .5h0m3.5-4h0m3 3.5h0m2 0h0m1-4.5h0m-333 10.5h0m1-2.5h0m11.5-2h0m18.5 3.5h0m3.5-1.5h0m9-.5h0m10 1.5h0m1.5-1.5h0m2-1.5h0m4.5 2h0m1 .5h0m6-2h0m1 2h0m.5-2.5h0m1-.5h0m2.5 5h0m0-4.5h0m11.5 1h0m4.5-.5h0m1.5 2.5h0m1.5-2.5h0m3 1h0m7.5 1.5h0m1 .5h0m2-2.5h0m1 .5h0m55.5 2.5h0m8-1.5h0m3.5-2h0m4 1.5h0m3 3h0m4.5-.5h0m2.5-5h0m88.5 3h0m3.5 2h0m3-2.5h0m3-2h0m4 .5h0m16.5-.5h0m1.5 0h0m.5 4.5h0m1-.5h0m3 1h0m.5-.5h0m.5-2h0m1.5-2.5h0m.5 3h0m.5 1h0m1-1.5h0m4.5-2.5h0m11 4.5h0m2.5-2.5h0m4 0h0m.5 1.5h0m1.5-.5h0m76-1.5h0m16.5-1h0m5 1h0m-471.5 4.5h0m1 0h0m2.5 0h0m2 0h0m4 2h0m3-2.5h0m9.5 2.5h0m10-.5h0m3 0h0m3.5 .5h0m41 .5h0m6.5 1.5h0m18.5-4.5h0m0 3.5h0m1.5 1.5h0m.5-3h0m2-.5h0m7 2h0m8 0h0m3.5-1h0m17.5 2.5h0m6-4.5h0m.5 5h0m4-.5h0m12.5-.5h0m27.5-1h0m4 1h0m2.5-2.5h0m2 .5h0m.5 2.5h0m.5-2.5h0m0-2.5h0m.5 0h0m.5 4h0m2.5-.5h0m.5 1.5h0m1.5-3h0m7.5 0h0m6 2h0m81 0h0m4.5-2h0m2-1.5h0m8-.5h0m0 4.5h0m2.5-3.5h0m4.5 1.5h0m5.5-1.5h0m0 4h0m1-1h0m1.5-2.5h0m1.5 4h0m5.5-4.5h0m0 4.5h0m3-3h0m1.5 .5h0m.5 .5h0m7.5-1.5h0m1 0h0m4 2.5h0m1 .5h0m6-3.5h0m89 3h0m10.5 1h0m-429 2h0m19.5 3h0m8.5-2h0m1.5 1h0m4 2h0m22-2h0m8-1.5h0m0 3.5h0m1-4h0m0 3.5h0m2-4h0m1 4.5h0m5-5h0m2 3h0m3.5-2h0m7.5-1h0m1 2h0m2.5 1h0m3.5 .5h0m35-2h0m6.5 .5h0m1.5-2h0m2 3.5h0m3-1.5h0m1.5 .5h0m.5 2h0m128.5-2h0m6-1.5h0m4 .5h0m.5 .5h0m6-1h0m3.5-.5h0m2.5 2h0m4.5-3h0m2.5 2.5h0m7.5-1.5h0m5 1h0m6 1.5h0m2 1.5h0m6.5-5h0m3 0h0m2 3.5h0m4-2.5h0m91.5-.5h0m.5 0h0m3 1.5h0m-482.5 9h0m63-.5h0m1 1h0m.5 0h0m8-2h0m9-.5h0m3 2h0m12-5h0m8.5 2h0m6.5 2h0m3-.5h0m5-3.5h0m2 .5h0m6 4h0m1-4.5h0m2 2.5h0m16 .5h0m.5-3h0m4 1.5h0m1.5 4h0m10.5-4.5h0m0 1h0m1 2.5h0m16.5-4.5h0m2.5 1h0m.5 .5h0m18 0h0m3-.5h0m40.5 3h0m77-2.5h0m2-1h0m0 2h0m7.5-1.5h0m2-1h0m2 2h0m1 2.5h0m24-1h0m2-3.5h0m5.5 2h0m1.5 3.5h0m2.5-5.5h0m7.5 2.5h0m0 1h0m4.5-2h0m-382 5h0m0 1.5h0m.5 2.5h0m105-2h0m9.5 0h0m0 2.5h0m.5-1.5h0m.5-3.5h0m3 5.5h0m.5-2h0m3 .5h0m1.5-1h0m2.5 0h0m3-2h0m14.5 0h0m10 4.5h0m.5-3.5h0m.5 1h0m1-3h0m2.5 5.5h0m18.5-1.5h0m19-1.5h0m29 1.5h0m25.5 1h0m2-2h0m81-.5h0m1-.5h0m6.5 0h0m3 1h0m3-1.5h0m2.5 1h0m5 3h0m2 0h0m8.5-4.5h0m5 0h0m24.5 4.5h0m4-2h0m1.5 0h0m.5 .5h0m0 0h0m4.5 1h0m2-1.5h0m1.5-1h0m-472 5.5h0m.5-1h0m3 .5h0m50.5 3h0m81.5-2h0m8.5-.5h0m4 1h0m7 0h0m22.5-3h0m5.5 1h0m0 0h0m7 1.5h0m67.5-1.5h0m24-1h0m2 .5h0m1 3h0m3-.5h0m120 .5h0m8.5-3h0m24-.5h0m8 5h0m-439 2h0m49-1h0m79.5 0h0m8 0h0m15.5 .5h0m4.5 0h0m24 3.5h0m2-2.5h0m41 0h0m8 0h0m85.5 1.5h0m5.5-.5h0m7.5-1.5h0m64.5 2.5h0m.5-.5h0m41 0h0m-451.5 6h0m8-2h0m2.5 1.5h0m1 0h0m4 2.5h0m3-2h0m198 1.5h0m2.5 1h0m30-4.5h0m43.5 0h0m7 0h0m.5-.5h0m3 1.5h0m2.5 1h0m2 2h0m21-5h0m123 3.5h0m10 1.5h0m-336.5 6h0m5.5-.5h0m6.5-4h0m51.5 0h0m23.5 3h0m2-1h0m52.5 2.5h0m.5-.5h0m193-4.5h0m38.5 4h0m-382 3.5h0m2 2.5h0m.5-3.5h0m.5 1h0m3 .5h0m12.5 2.5h0m1.5-1h0m3.5-2h0m1.5 3h0m10-1.5h0m4-1.5h0m3.5 1h0m110-.5h0m3.5 1.5h0m64-1.5h0m14.5 2h0m-230 3h0m1 3h0m5-2h0m7 0h0m.5 3.5h0m4.5-3.5h0m.5 1.5h0m2-1h0m7.5-.5h0m1.5 3.5h0m7-4.5h0m199.5 4.5h0m3.5-.5h0m-237 4h0m1.5-2.5h0m4.5 1.5h0m15 .5h0m91.5-1h0m1-1.5h0m2 4h0m117.5 1.5h0m1-1h0m184.5 .5h0m-389.5 2h0m203 .5h0m46-1h0m74.5 5h0m64.5-5h0m-574.5 7h0m111.5 0h0m42 2h0m4-2.5h0m4.5 2h0m8.5-3h0m13 5h0m86.5-2.5h0m37.5 1.5h0m.5 .5h0m40 0h0m1.5-.5h0m2.5 .5h0m5-2.5h0m28 3h0m5-2.5h0m4 1.5h0m2 .5h0m98.5-4h0m17 1.5h0m93-2h0m3 2h0m-604.5 4h0m26 2.5h0m132 2h0m7.5-3.5h0m21-1h0m.5 4h0m83.5-3h0m3.5 4h0m70-1.5h0m3.5-.5h0m10-1.5h0m8 1h0m13.5-2h0m118 4.5h0m18-1.5h0m4.5 2h0m-505 5.5h0m5.5 .5h0m5.5-.5h0m252-3.5h0m4 2.5h0m59-2h0m182.5 2.5h0m-530 5.5h0m24-4h0m2 1.5h0m1.5 3h0m260.5-3.5h0m10.5 1.5h0m.5 .5h0m3.5 1h0m3.5 1h0m12 .5h0m1-.5h0m49.5-5h0m110 3.5h0m-475 7h0m20-2h0m7.5 .5h0m14 0h0m229 2.5h0m49-5.5h0m1.5 .5h0m9.5 0h0m.5 1h0m9.5 .5h0m6.5 0h0m6.5 .5h0m1.5-.5h0m5.5 3.5h0m2-1.5h0m37-1.5h0m118 .5h0m-517 5h0m2 2.5h0m1-3.5h0m4.5-1h0m5 .5h0m.5 3.5h0m3.5-2h0m.5-2h0m1.5 4h0m308.5-3h0m2 1.5h0m4-2.5h0m3.5 1.5h0m4.5 .5h0m3-2h0m0 4h0m-336.5 5.5h0m10.5 .5h0m2.5 0h0m319-4h0m24.5 3.5h0m0-1h0m-357.5 5h0m20-.5h0m8.5 4.5h0m2-4h0m2.5 2h0m2.5-1h0m46.5 3.5h0m148 4h0m3.5 2h0m8.5 .5h0m46 3h0m0-2.5h0m-226.5 5h0m348.5 8.5h0m91-2.5h0m-19 9h0m4.5 2h0m3-4h0m1 2.5h0m2.5-.5h0m.5-1h0m-159 7h0m28.5-.5h0m0 1h0m121.5-1.5h0m1 2h0m2-4h0m4.5 0h0m1.5 3h0m-308 5.5h0m156 0h0m143.5-2.5h0m-105 7.5h0m24 4h0m2 0h0m6.5-.5h0m2 0h0m2.5-1.5h0m-8.5 2.5h0m-60.5 6.5h0m13 3h0m60.5 .5h0m1 0h0m10-2.5h0m8-1.5h0m-117.5 11.5h0m1-1.5h0m11.5-1.5h0m9.5-.5h0m1-1h0m2 3h0m3.5-3h0m6.5 3.5h0m1 1h0m1-.5h0m4-4h0m2.5 0h0m1 1h0m0 2.5h0m.5-1.5h0m-39.5 6h0m1-2h0m3 2.5h0m11-3.5h0m6 2h0m5 2h0m.5-2h0m1.5 1h0m13 .5h0m0 2h0m23.5-2h0m3.5 .5h0m2-3.5h0m4.5-.5h0m.5 1h0m1.5 0h0m0 2h0m-78.5 4h0m7.5 4.5h0m21.5-4.5h0m8.5 1h0m5.5 .5h0m4 2.5h0m1 .5h0m6.5-2h0m20-3h0m-82 10.5h0m7-4h0m69.5-1h0m2 .5h0m-80 6h0m80 6.5h0m2-1h0m2.5 5.5h0m2.5-3.5h0m.5 1.5h0m8-1.5h0" stroke="#4682b4" stroke-width="3.2" stroke-linecap="round"/><path d="M252 358h0m1.5 1.5h0m3.5-4h0m.5 1.5h0m1.5 .5h0m2 1.5h0m-12 6h0m3 0h0m1 .5h0m1-4.5h0m2 1.5h0m3-.5h0m.5 1.5h0m2.5-1h0m-17 4h0m2 1h0m2 0h0m3 3.5h0m3.5-1h0m2-4h0m0 1.5h0m2-.5h0m1 4.5h0m.5-2.5h0m-5.5 3.5h0m482 28h0m2 0h0m-8 4.5h0m1 2.5h0m1-2h0m1.5-.5h0m1-2.5h0m2 5h0m.5-4.5h0m1 .5h0m0 2h0m1.5 1.5h0m.5-2.5h0m2-2.5h0m.5 .5h0m-10.5 7.5h0m1.5 1.5h0m1-3h0m1 0h0m0 2h0m1.5 3h0m1-3.5h0m2 1.5h0m1-3.5h0m-128 43h0m4 4h0m1.5-2.5h0m-2.5 4h0m29 14.5h0m2.5 0h0m1-2.5h0m0 3h0m.5 1.5h0m1.5 .5h0m5.5-5.5h0m1 3.5h0m.5-2.5h0m-13.5 6.5h0m2.5 0h0m.5-1.5h0m3.5 4h0m1-4h0m0 3h0m4-3h0" stroke="#f28124" stroke-width="3.2" stroke-linecap="round"/></svg>
<rect x="788.4" y="417.2" width="197.10000000000002" height="70.90000000000003" rx="4" fill="#fff" fill-opacity="0.8" stroke="#cccccc" stroke-width="1.2"/><circle cx="821.9" cy="436.8" r="8.3" fill="#4682b4"/><circle cx="821.9" cy="465.2" r="8.3" fill="#f07f27"/><text transform="translate(850.47,445.50) scale(1.1044,1)" font-size="24.56">Metal</text><text transform="translate(850.47,473.50) scale(1.1298,1)" font-size="24.01">Non-metal</text><rect x="744.9" y="1013.5" width="240.30000000000007" height="70.20000000000005" rx="4" fill="#fff" fill-opacity="0.8" stroke="#cccccc" stroke-width="1.2"/><circle cx="778.1" cy="1032.9" r="8.3" fill="#4682b4"/><circle cx="778.1" cy="1061.3" r="8.3" fill="#f07f27"/><text transform="translate(805.77,1041.80) scale(1.2545,1)" font-size="24.56">Magnetic</text><text transform="translate(806.07,1068.90) scale(1.1054,1)" font-size="24.56">Non-magnetic</text>
<rect x="104.8" y="2.4" width="892.6" height="497.5" fill="none" stroke="#000" stroke-width="2.7"/><rect x="104.8" y="598.4" width="892.6" height="497.5000000000001" fill="none" stroke="#000" stroke-width="2.7"/>
<line x1="137.5" y1="499.9" x2="137.5" y2="505.5" stroke="#000" stroke-width="2.4"/><rect x="111.49" y="521.27" width="17.15" height="2.27"/><text transform="translate(132.26,531.00) scale(1.0343,1)" font-size="29.12">10</text><line x1="256.0" y1="499.9" x2="256.0" y2="505.5" stroke="#000" stroke-width="2.4"/><rect x="238.71" y="521.27" width="17.15" height="2.27"/><text transform="translate(259.79,531.00) scale(0.9389,1)" font-size="29.03">5</text><line x1="374.5" y1="499.9" x2="374.5" y2="505.5" stroke="#000" stroke-width="2.4"/><text transform="translate(366.46,531.00) scale(0.9917,1)" font-size="29.12">0</text><line x1="493.0" y1="499.9" x2="493.0" y2="505.5" stroke="#000" stroke-width="2.4"/><text transform="translate(485.31,531.00) scale(0.9389,1)" font-size="29.03">5</text><line x1="611.5" y1="499.9" x2="611.5" y2="505.5" stroke="#000" stroke-width="2.4"/><text transform="translate(594.78,531.00) scale(1.0343,1)" font-size="29.12">10</text><line x1="730.0" y1="499.9" x2="730.0" y2="505.5" stroke="#000" stroke-width="2.4"/><text transform="translate(713.32,531.00) scale(1.0207,1)" font-size="29.03">15</text><line x1="848.5" y1="499.9" x2="848.5" y2="505.5" stroke="#000" stroke-width="2.4"/><text transform="translate(831.55,531.00) scale(1.0418,1)" font-size="29.12">20</text><line x1="967.0" y1="499.9" x2="967.0" y2="505.5" stroke="#000" stroke-width="2.4"/><text transform="translate(950.07,531.00) scale(1.0255,1)" font-size="29.12">25</text><line x1="104.8" y1="48.5" x2="99.39999999999999" y2="48.5" stroke="#000" stroke-width="2.4"/><text transform="translate(59.92,58.60) scale(1.0418,1)" font-size="29.12">20</text><line x1="104.8" y1="122.5" x2="99.39999999999999" y2="122.5" stroke="#000" stroke-width="2.4"/><text transform="translate(60.19,132.60) scale(1.0207,1)" font-size="29.03">15</text><line x1="104.8" y1="196.5" x2="99.39999999999999" y2="196.5" stroke="#000" stroke-width="2.4"/><text transform="translate(60.15,206.60) scale(1.0343,1)" font-size="29.12">10</text><line x1="104.8" y1="270.5" x2="99.39999999999999" y2="270.5" stroke="#000" stroke-width="2.4"/><text transform="translate(77.89,280.60) scale(0.9389,1)" font-size="29.03">5</text><line x1="104.8" y1="344.5" x2="99.39999999999999" y2="344.5" stroke="#000" stroke-width="2.4"/><text transform="translate(77.55,354.60) scale(0.9917,1)" font-size="29.12">0</text><line x1="104.8" y1="418.5" x2="99.39999999999999" y2="418.5" stroke="#000" stroke-width="2.4"/><rect x="56.81" y="418.87" width="17.15" height="2.27"/><text transform="translate(77.89,428.60) scale(0.9389,1)" font-size="29.03">5</text><line x1="104.8" y1="492.5" x2="99.39999999999999" y2="492.5" stroke="#000" stroke-width="2.4"/><rect x="39.38" y="492.87" width="17.15" height="2.27"/><text transform="translate(60.15,502.60) scale(1.0343,1)" font-size="29.12">10</text><text transform="translate(506.58,567.20) scale(1.0649,1)" font-size="29.18">umap</text><text transform="translate(584.58,557.00) scale(1.1066,1)" font-size="18.90">0</text><g transform="translate(25.7,293.2) rotate(-90)"><text transform="translate(-2.02,0.00) scale(1.0649,1)" font-size="29.18">umap</text><text transform="translate(76.09,-10.70) scale(0.7285,1)" font-size="20.06">1</text></g><line x1="137.5" y1="1095.9" x2="137.5" y2="1101.5" stroke="#000" stroke-width="2.4"/><rect x="111.49" y="1117.27" width="17.15" height="2.27"/><text transform="translate(132.26,1127.00) scale(1.0343,1)" font-size="29.12">10</text><line x1="256.0" y1="1095.9" x2="256.0" y2="1101.5" stroke="#000" stroke-width="2.4"/><rect x="238.71" y="1117.27" width="17.15" height="2.27"/><text transform="translate(259.79,1127.00) scale(0.9389,1)" font-size="29.03">5</text><line x1="374.5" y1="1095.9" x2="374.5" y2="1101.5" stroke="#000" stroke-width="2.4"/><text transform="translate(366.46,1127.00) scale(0.9917,1)" font-size="29.12">0</text><line x1="493.0" y1="1095.9" x2="493.0" y2="1101.5" stroke="#000" stroke-width="2.4"/><text transform="translate(485.31,1127.00) scale(0.9389,1)" font-size="29.03">5</text><line x1="611.5" y1="1095.9" x2="611.5" y2="1101.5" stroke="#000" stroke-width="2.4"/><text transform="translate(594.78,1127.00) scale(1.0343,1)" font-size="29.12">10</text><line x1="730.0" y1="1095.9" x2="730.0" y2="1101.5" stroke="#000" stroke-width="2.4"/><text transform="translate(713.32,1127.00) scale(1.0207,1)" font-size="29.03">15</text><line x1="848.5" y1="1095.9" x2="848.5" y2="1101.5" stroke="#000" stroke-width="2.4"/><text transform="translate(831.55,1127.00) scale(1.0418,1)" font-size="29.12">20</text><line x1="967.0" y1="1095.9" x2="967.0" y2="1101.5" stroke="#000" stroke-width="2.4"/><text transform="translate(950.07,1127.00) scale(1.0255,1)" font-size="29.12">25</text><line x1="104.8" y1="644.5" x2="99.39999999999999" y2="644.5" stroke="#000" stroke-width="2.4"/><text transform="translate(59.92,654.60) scale(1.0418,1)" font-size="29.12">20</text><line x1="104.8" y1="718.5" x2="99.39999999999999" y2="718.5" stroke="#000" stroke-width="2.4"/><text transform="translate(60.19,728.60) scale(1.0207,1)" font-size="29.03">15</text><line x1="104.8" y1="792.5" x2="99.39999999999999" y2="792.5" stroke="#000" stroke-width="2.4"/><text transform="translate(60.15,802.60) scale(1.0343,1)" font-size="29.12">10</text><line x1="104.8" y1="866.5" x2="99.39999999999999" y2="866.5" stroke="#000" stroke-width="2.4"/><text transform="translate(77.89,876.60) scale(0.9389,1)" font-size="29.03">5</text><line x1="104.8" y1="940.5" x2="99.39999999999999" y2="940.5" stroke="#000" stroke-width="2.4"/><text transform="translate(77.55,950.60) scale(0.9917,1)" font-size="29.12">0</text><line x1="104.8" y1="1014.5" x2="99.39999999999999" y2="1014.5" stroke="#000" stroke-width="2.4"/><rect x="56.81" y="1014.87" width="17.15" height="2.27"/><text transform="translate(77.89,1024.60) scale(0.9389,1)" font-size="29.03">5</text><line x1="104.8" y1="1088.5" x2="99.39999999999999" y2="1088.5" stroke="#000" stroke-width="2.4"/><rect x="39.38" y="1088.87" width="17.15" height="2.27"/><text transform="translate(60.15,1098.60) scale(1.0343,1)" font-size="29.12">10</text><text transform="translate(506.58,1163.20) scale(1.0649,1)" font-size="29.18">umap</text><text transform="translate(584.58,1153.00) scale(1.1066,1)" font-size="18.90">0</text><g transform="translate(25.7,889.2) rotate(-90)"><text transform="translate(-2.02,0.00) scale(1.0649,1)" font-size="29.18">umap</text><text transform="translate(76.09,-10.70) scale(0.7285,1)" font-size="20.06">1</text></g>
</svg>
</body></html>
